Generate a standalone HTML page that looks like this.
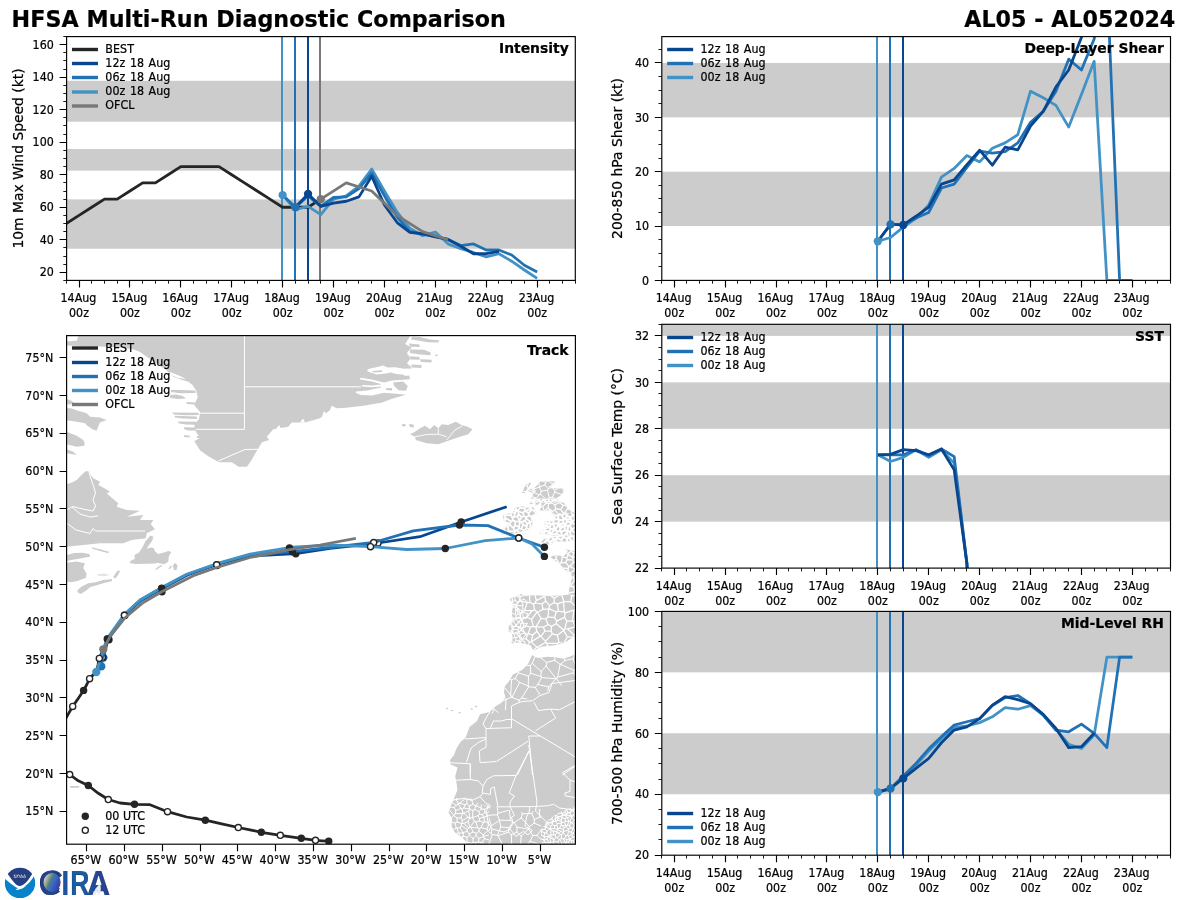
<!DOCTYPE html>
<html lang="en"><head><meta charset="utf-8"><title>HFSA Multi-Run Diagnostic Comparison - AL05</title>
<style>html,body{margin:0;padding:0;background:#fff}svg{display:block;will-change:transform}text{stroke:#000;stroke-width:.22px}</style></head>
<body>
<svg width="1200" height="900" viewBox="0 0 1200 900" font-family="'DejaVu Sans','Liberation Sans',sans-serif" fill="#000">
<rect width="1200" height="900" fill="#fff"/>
<text x="11.6" y="26.6" font-size="22.22" text-anchor="start" font-weight="bold" textLength="494.2">HFSA Multi-Run Diagnostic Comparison</text>
<text x="1175.3" y="26.6" font-size="22.22" text-anchor="end" font-weight="bold">AL05 - AL052024</text>
<clipPath id="c1"><rect x="66.6" y="36.6" width="508.7" height="243.8"/></clipPath>
<rect x="66.6" y="199.38" width="508.7" height="49.33" fill="#cccccc"/>
<rect x="66.6" y="148.99" width="508.7" height="21.62" fill="#cccccc"/>
<rect x="66.6" y="80.81" width="508.7" height="40.88" fill="#cccccc"/>
<rect x="281" y="36.6" width="2" height="243.8" fill="#4292c6"/>
<rect x="294" y="36.6" width="2" height="243.8" fill="#2171b5"/>
<rect x="307" y="36.6" width="2" height="243.8" fill="#08468f"/>
<rect x="319" y="36.6" width="2" height="243.8" fill="#787878"/>
<path d="M66.3 223.51 L79.02 215.39 L91.75 207.26 L104.47 199.13 L117.2 199.13 L129.92 191.01 L142.65 182.88 L155.38 182.88 L168.1 174.75 L180.82 166.63 L193.55 166.63 L206.27 166.63 L219 166.63 L231.72 174.75 L244.45 182.88 L257.18 191.01 L269.9 199.13 L282.62 207.26 L295.35 207.26 L308.07 207.26 L320.8 199.13" fill="none" stroke="#252525" stroke-width="2.78" stroke-linejoin="round" stroke-linecap="butt" clip-path="url(#c1)"/>
<path d="M282.62 195.07 L295.35 209.7 L308.07 206.45 L320.8 214.57 L333.52 199.13 L346.25 195.88 L358.97 186.13 L371.7 169.06 L384.42 191.01 L397.15 212.14 L409.87 228.39 L422.6 235.7 L435.32 231.97 L448.05 243.83 L460.77 248.71 L473.5 252.44 L486.22 256.83 L498.95 253.74 L511.67 261.22 L524.4 270 L537.12 278.45" fill="none" stroke="#4292c6" stroke-width="2.78" stroke-linejoin="round" stroke-linecap="butt" clip-path="url(#c1)"/>
<path d="M282.62 195.07 L295.35 207.26 L308.07 195.88 L320.8 206.45 L333.52 197.51 L346.25 196.86 L358.97 188.57 L371.7 173.13 L384.42 195.88 L397.15 217.01 L409.87 231.64 L422.6 234.08 L435.32 236.52 L448.05 239.44 L460.77 245.62 L473.5 243.99 L486.22 250.01 L498.95 250.01 L511.67 255.04 L524.4 265.28 L537.12 271.95" fill="none" stroke="#2171b5" stroke-width="2.78" stroke-linejoin="round" stroke-linecap="butt" clip-path="url(#c1)"/>
<path d="M295.35 207.26 L308.07 193.93 L320.8 206.28 L333.52 203.03 L346.25 201.25 L358.97 196.86 L371.7 176.22 L384.42 204.98 L397.15 222.54 L409.87 232.45 L422.6 233.75 L435.32 236.84 L448.05 239.44 L460.77 246.27 L473.5 253.74 L486.22 253.74 L498.95 251.47" fill="none" stroke="#08468f" stroke-width="2.78" stroke-linejoin="round" stroke-linecap="butt" clip-path="url(#c1)"/>
<path d="M320.8 199.13 L346.25 182.88 L371.7 191.01 L397.15 215.39 L422.6 231.64 L448.05 239.77" fill="none" stroke="#787878" stroke-width="2.78" stroke-linejoin="round" stroke-linecap="butt" clip-path="url(#c1)"/>
<circle cx="282.62" cy="195.07" r="4.15" fill="#4292c6"/>
<circle cx="295.35" cy="207.26" r="4.15" fill="#2171b5"/>
<circle cx="308.07" cy="193.93" r="4.15" fill="#08468f"/>
<circle cx="320.8" cy="199.13" r="4.15" fill="#787878"/>
<path d="M79.5 280.4v7M129.5 280.4v7M180.5 280.4v7M231.5 280.4v7M282.5 280.4v7M333.5 280.4v7M384.5 280.4v7M435.5 280.4v7M486.5 280.4v7M537.5 280.4v7" stroke="#000" stroke-width="1.15" fill="none"/>
<path d="M66.5 280.4v3.3M91.5 280.4v3.3M104.5 280.4v3.3M117.5 280.4v3.3M142.5 280.4v3.3M155.5 280.4v3.3M168.5 280.4v3.3M193.5 280.4v3.3M206.5 280.4v3.3M218.5 280.4v3.3M244.5 280.4v3.3M257.5 280.4v3.3M269.5 280.4v3.3M295.5 280.4v3.3M308.5 280.4v3.3M320.5 280.4v3.3M346.5 280.4v3.3M358.5 280.4v3.3M371.5 280.4v3.3M397.5 280.4v3.3M409.5 280.4v3.3M422.5 280.4v3.3M448.5 280.4v3.3M460.5 280.4v3.3M473.5 280.4v3.3M498.5 280.4v3.3M511.5 280.4v3.3M524.5 280.4v3.3M549.5 280.4v3.3M562.5 280.4v3.3M575.5 280.4v3.3" stroke="#000" stroke-width="0.9" fill="none"/>
<text transform="translate(78.42 301.8) scale(1 1.11)" font-size="11.11" text-anchor="middle">14Aug</text>
<text transform="translate(79.02 316.8) scale(1 1.11)" font-size="11.11" text-anchor="middle">00z</text>
<text transform="translate(129.32 301.8) scale(1 1.11)" font-size="11.11" text-anchor="middle">15Aug</text>
<text transform="translate(129.92 316.8) scale(1 1.11)" font-size="11.11" text-anchor="middle">00z</text>
<text transform="translate(180.22 301.8) scale(1 1.11)" font-size="11.11" text-anchor="middle">16Aug</text>
<text transform="translate(180.82 316.8) scale(1 1.11)" font-size="11.11" text-anchor="middle">00z</text>
<text transform="translate(231.12 301.8) scale(1 1.11)" font-size="11.11" text-anchor="middle">17Aug</text>
<text transform="translate(231.72 316.8) scale(1 1.11)" font-size="11.11" text-anchor="middle">00z</text>
<text transform="translate(282.02 301.8) scale(1 1.11)" font-size="11.11" text-anchor="middle">18Aug</text>
<text transform="translate(282.62 316.8) scale(1 1.11)" font-size="11.11" text-anchor="middle">00z</text>
<text transform="translate(332.92 301.8) scale(1 1.11)" font-size="11.11" text-anchor="middle">19Aug</text>
<text transform="translate(333.52 316.8) scale(1 1.11)" font-size="11.11" text-anchor="middle">00z</text>
<text transform="translate(383.82 301.8) scale(1 1.11)" font-size="11.11" text-anchor="middle">20Aug</text>
<text transform="translate(384.42 316.8) scale(1 1.11)" font-size="11.11" text-anchor="middle">00z</text>
<text transform="translate(434.72 301.8) scale(1 1.11)" font-size="11.11" text-anchor="middle">21Aug</text>
<text transform="translate(435.32 316.8) scale(1 1.11)" font-size="11.11" text-anchor="middle">00z</text>
<text transform="translate(485.62 301.8) scale(1 1.11)" font-size="11.11" text-anchor="middle">22Aug</text>
<text transform="translate(486.22 316.8) scale(1 1.11)" font-size="11.11" text-anchor="middle">00z</text>
<text transform="translate(536.52 301.8) scale(1 1.11)" font-size="11.11" text-anchor="middle">23Aug</text>
<text transform="translate(537.12 316.8) scale(1 1.11)" font-size="11.11" text-anchor="middle">00z</text>
<path d="M66.6 272.5h-7M66.6 239.5h-7M66.6 207.5h-7M66.6 174.5h-7M66.6 142.5h-7M66.6 109.5h-7M66.6 77.5h-7M66.6 44.5h-7" stroke="#000" stroke-width="1.15" fill="none"/>
<path d="M66.6 280.5h-3.3M66.6 264.5h-3.3M66.6 256.5h-3.3M66.6 247.5h-3.3M66.6 231.5h-3.3M66.6 223.5h-3.3M66.6 215.5h-3.3M66.6 199.5h-3.3M66.6 191.5h-3.3M66.6 182.5h-3.3M66.6 166.5h-3.3M66.6 158.5h-3.3M66.6 150.5h-3.3M66.6 134.5h-3.3M66.6 125.5h-3.3M66.6 117.5h-3.3M66.6 101.5h-3.3M66.6 93.5h-3.3M66.6 85.5h-3.3M66.6 69.5h-3.3M66.6 60.5h-3.3M66.6 52.5h-3.3M66.6 36.5h-3.3" stroke="#000" stroke-width="0.9" fill="none"/>
<text transform="translate(53.8 276.47) scale(1 1.11)" font-size="11.11" text-anchor="end">20</text>
<text transform="translate(53.8 243.97) scale(1 1.11)" font-size="11.11" text-anchor="end">40</text>
<text transform="translate(53.8 211.46) scale(1 1.11)" font-size="11.11" text-anchor="end">60</text>
<text transform="translate(53.8 178.95) scale(1 1.11)" font-size="11.11" text-anchor="end">80</text>
<text transform="translate(53.8 146.45) scale(1 1.11)" font-size="11.11" text-anchor="end">100</text>
<text transform="translate(53.8 113.94) scale(1 1.11)" font-size="11.11" text-anchor="end">120</text>
<text transform="translate(53.8 81.43) scale(1 1.11)" font-size="11.11" text-anchor="end">140</text>
<text transform="translate(53.8 48.93) scale(1 1.11)" font-size="11.11" text-anchor="end">160</text>
<text transform="translate(22.5 158.5) rotate(-90)" font-size="13.89" text-anchor="middle">10m Max Wind Speed (kt)</text>
<rect x="66.6" y="36.6" width="508.7" height="243.8" fill="none" stroke="#000" stroke-width="1.15"/>
<text x="568.7" y="53.3" font-size="13.89" text-anchor="end" font-weight="bold">Intensity</text>
<rect x="71.95" y="47.8" width="26" height="3.4" fill="#252525"/>
<text transform="translate(105.3 52.95) scale(1 1.11)" font-size="11.11" text-anchor="start" word-spacing="0.9" letter-spacing="0.06">BEST</text>
<rect x="71.95" y="61.8" width="26" height="3.4" fill="#08468f"/>
<text transform="translate(105.3 67.05) scale(1 1.11)" font-size="11.11" text-anchor="start" word-spacing="0.9" letter-spacing="0.06">12z 18 Aug</text>
<rect x="71.95" y="75.8" width="26" height="3.4" fill="#2171b5"/>
<text transform="translate(105.3 81.15) scale(1 1.11)" font-size="11.11" text-anchor="start" word-spacing="0.9" letter-spacing="0.06">06z 18 Aug</text>
<rect x="71.95" y="90.3" width="26" height="3.4" fill="#4292c6"/>
<text transform="translate(105.3 95.25) scale(1 1.11)" font-size="11.11" text-anchor="start" word-spacing="0.9" letter-spacing="0.06">00z 18 Aug</text>
<rect x="71.95" y="104.3" width="26" height="3.4" fill="#787878"/>
<text transform="translate(105.3 109.35) scale(1 1.11)" font-size="11.11" text-anchor="start" word-spacing="0.9" letter-spacing="0.06">OFCL</text>
<clipPath id="c2"><rect x="661.8" y="36.6" width="508.7" height="243.8"/></clipPath>
<rect x="661.8" y="171.68" width="508.7" height="54.36" fill="#cccccc"/>
<rect x="661.8" y="62.96" width="508.7" height="54.36" fill="#cccccc"/>
<rect x="876" y="36.6" width="2" height="243.8" fill="#4292c6"/>
<rect x="889" y="36.6" width="2" height="243.8" fill="#2171b5"/>
<rect x="902" y="36.6" width="2" height="243.8" fill="#08468f"/>
<path d="M877.83 241.26 L890.55 237.46 L903.27 227.13 L916 218.43 L928.73 204.84 L941.45 177.12 L954.17 168.42 L966.9 155.59 L979.62 161.9 L992.35 148.31 L1005.08 142.87 L1017.8 134.72 L1030.53 91.23 L1043.25 97.75 L1055.97 105.36 L1068.7 127.11 L1081.42 94.49 L1094.15 61.33 L1106.88 280.4 L1119.6 280.4 L1132.33 280.4" fill="none" stroke="#4292c6" stroke-width="2.78" stroke-linejoin="round" stroke-linecap="butt" clip-path="url(#c2)"/>
<path d="M877.83 241.26 L890.55 224.41 L903.27 224.95 L916 217.89 L928.73 212.45 L941.45 187.99 L954.17 184.18 L966.9 167.33 L979.62 151.03 L992.35 153.2 L1005.08 151.57 L1017.8 142.87 L1030.53 122.22 L1043.25 111.34 L1055.97 91.23 L1068.7 59.16 L1081.42 70.03 L1094.15 39.05 L1106.88 -24.01 L1119.6 280.4 L1132.33 280.4" fill="none" stroke="#2171b5" stroke-width="2.78" stroke-linejoin="round" stroke-linecap="butt" clip-path="url(#c2)"/>
<path d="M877.83 241.26 L890.55 224.41 L903.27 224.95 L916 216.26 L928.73 207.02 L941.45 184.18 L954.17 179.84 L966.9 164.62 L979.62 150.21 L992.35 165.16 L1005.08 147.22 L1017.8 149.94 L1030.53 126.02 L1043.25 111.34 L1055.97 86.88 L1068.7 70.03 L1081.42 37.42 L1094.15 -2.27" fill="none" stroke="#08468f" stroke-width="2.78" stroke-linejoin="round" stroke-linecap="butt" clip-path="url(#c2)"/>
<circle cx="877.83" cy="241.26" r="4.15" fill="#4292c6"/>
<circle cx="890.55" cy="224.41" r="4.15" fill="#2171b5"/>
<circle cx="903.27" cy="224.95" r="4.15" fill="#08468f"/>
<path d="M674.5 280.4v7M725.5 280.4v7M776.5 280.4v7M826.5 280.4v7M877.5 280.4v7M928.5 280.4v7M979.5 280.4v7M1030.5 280.4v7M1081.5 280.4v7M1132.5 280.4v7" stroke="#000" stroke-width="1.15" fill="none"/>
<path d="M661.5 280.4v3.3M686.5 280.4v3.3M699.5 280.4v3.3M712.5 280.4v3.3M737.5 280.4v3.3M750.5 280.4v3.3M763.5 280.4v3.3M788.5 280.4v3.3M801.5 280.4v3.3M814.5 280.4v3.3M839.5 280.4v3.3M852.5 280.4v3.3M865.5 280.4v3.3M890.5 280.4v3.3M903.5 280.4v3.3M916.5 280.4v3.3M941.5 280.4v3.3M954.5 280.4v3.3M966.5 280.4v3.3M992.5 280.4v3.3M1005.5 280.4v3.3M1017.5 280.4v3.3M1043.5 280.4v3.3M1055.5 280.4v3.3M1068.5 280.4v3.3M1094.5 280.4v3.3M1106.5 280.4v3.3M1119.5 280.4v3.3M1145.5 280.4v3.3M1157.5 280.4v3.3M1170.5 280.4v3.3" stroke="#000" stroke-width="0.9" fill="none"/>
<text transform="translate(673.62 301.8) scale(1 1.11)" font-size="11.11" text-anchor="middle">14Aug</text>
<text transform="translate(674.23 316.8) scale(1 1.11)" font-size="11.11" text-anchor="middle">00z</text>
<text transform="translate(724.52 301.8) scale(1 1.11)" font-size="11.11" text-anchor="middle">15Aug</text>
<text transform="translate(725.12 316.8) scale(1 1.11)" font-size="11.11" text-anchor="middle">00z</text>
<text transform="translate(775.42 301.8) scale(1 1.11)" font-size="11.11" text-anchor="middle">16Aug</text>
<text transform="translate(776.02 316.8) scale(1 1.11)" font-size="11.11" text-anchor="middle">00z</text>
<text transform="translate(826.32 301.8) scale(1 1.11)" font-size="11.11" text-anchor="middle">17Aug</text>
<text transform="translate(826.92 316.8) scale(1 1.11)" font-size="11.11" text-anchor="middle">00z</text>
<text transform="translate(877.23 301.8) scale(1 1.11)" font-size="11.11" text-anchor="middle">18Aug</text>
<text transform="translate(877.83 316.8) scale(1 1.11)" font-size="11.11" text-anchor="middle">00z</text>
<text transform="translate(928.12 301.8) scale(1 1.11)" font-size="11.11" text-anchor="middle">19Aug</text>
<text transform="translate(928.73 316.8) scale(1 1.11)" font-size="11.11" text-anchor="middle">00z</text>
<text transform="translate(979.02 301.8) scale(1 1.11)" font-size="11.11" text-anchor="middle">20Aug</text>
<text transform="translate(979.62 316.8) scale(1 1.11)" font-size="11.11" text-anchor="middle">00z</text>
<text transform="translate(1029.93 301.8) scale(1 1.11)" font-size="11.11" text-anchor="middle">21Aug</text>
<text transform="translate(1030.53 316.8) scale(1 1.11)" font-size="11.11" text-anchor="middle">00z</text>
<text transform="translate(1080.83 301.8) scale(1 1.11)" font-size="11.11" text-anchor="middle">22Aug</text>
<text transform="translate(1081.42 316.8) scale(1 1.11)" font-size="11.11" text-anchor="middle">00z</text>
<text transform="translate(1131.73 301.8) scale(1 1.11)" font-size="11.11" text-anchor="middle">23Aug</text>
<text transform="translate(1132.33 316.8) scale(1 1.11)" font-size="11.11" text-anchor="middle">00z</text>
<path d="M661.8 280.5h-7M661.8 226.5h-7M661.8 171.5h-7M661.8 117.5h-7M661.8 62.5h-7" stroke="#000" stroke-width="1.15" fill="none"/>
<path d="M661.8 266.5h-3.3M661.8 253.5h-3.3M661.8 239.5h-3.3M661.8 212.5h-3.3M661.8 198.5h-3.3M661.8 185.5h-3.3M661.8 158.5h-3.3M661.8 144.5h-3.3M661.8 130.5h-3.3M661.8 103.5h-3.3M661.8 90.5h-3.3M661.8 76.5h-3.3M661.8 49.5h-3.3" stroke="#000" stroke-width="0.9" fill="none"/>
<text transform="translate(649 284.6) scale(1 1.11)" font-size="11.11" text-anchor="end">0</text>
<text transform="translate(649 230.24) scale(1 1.11)" font-size="11.11" text-anchor="end">10</text>
<text transform="translate(649 175.88) scale(1 1.11)" font-size="11.11" text-anchor="end">20</text>
<text transform="translate(649 121.52) scale(1 1.11)" font-size="11.11" text-anchor="end">30</text>
<text transform="translate(649 67.16) scale(1 1.11)" font-size="11.11" text-anchor="end">40</text>
<text transform="translate(621.8 158.5) rotate(-90)" font-size="13.89" text-anchor="middle">200-850 hPa Shear (kt)</text>
<rect x="661.8" y="36.6" width="508.7" height="243.8" fill="none" stroke="#000" stroke-width="1.15"/>
<text x="1163.9" y="53.3" font-size="13.89" text-anchor="end" font-weight="bold">Deep-Layer Shear</text>
<rect x="667.15" y="47.8" width="26" height="3.4" fill="#08468f"/>
<text transform="translate(700.5 52.95) scale(1 1.11)" font-size="11.11" text-anchor="start" word-spacing="0.9" letter-spacing="0.06">12z 18 Aug</text>
<rect x="667.15" y="61.8" width="26" height="3.4" fill="#2171b5"/>
<text transform="translate(700.5 67.05) scale(1 1.11)" font-size="11.11" text-anchor="start" word-spacing="0.9" letter-spacing="0.06">06z 18 Aug</text>
<rect x="667.15" y="75.8" width="26" height="3.4" fill="#4292c6"/>
<text transform="translate(700.5 81.15) scale(1 1.11)" font-size="11.11" text-anchor="start" word-spacing="0.9" letter-spacing="0.06">00z 18 Aug</text>
<clipPath id="c3"><rect x="661.8" y="324.3" width="508.7" height="243.8"/></clipPath>
<rect x="661.8" y="475.22" width="508.7" height="46.44" fill="#cccccc"/>
<rect x="661.8" y="382.35" width="508.7" height="46.44" fill="#cccccc"/>
<rect x="661.8" y="324.3" width="508.7" height="11.61" fill="#cccccc"/>
<rect x="876" y="324.3" width="2" height="243.8" fill="#4292c6"/>
<rect x="889" y="324.3" width="2" height="243.8" fill="#2171b5"/>
<rect x="902" y="324.3" width="2" height="243.8" fill="#08468f"/>
<path d="M877.83 454.79 L890.55 461.52 L903.27 457.35 L916 449.92 L928.73 457.35 L941.45 449.92 L954.17 463.15 L966.9 563.46 L979.62 800.29" fill="none" stroke="#4292c6" stroke-width="2.78" stroke-linejoin="round" stroke-linecap="butt" clip-path="url(#c3)"/>
<path d="M877.83 454.79 L890.55 454.79 L903.27 454.79 L916 449.68 L928.73 455.72 L941.45 448.99 L954.17 456.65 L966.9 563.46 L979.62 800.29" fill="none" stroke="#2171b5" stroke-width="2.78" stroke-linejoin="round" stroke-linecap="butt" clip-path="url(#c3)"/>
<path d="M877.83 454.79 L890.55 454.33 L903.27 449.68 L916 450.61 L928.73 454.79 L941.45 448.99 L954.17 469.88 L966.9 563.46 L979.62 800.29" fill="none" stroke="#08468f" stroke-width="2.78" stroke-linejoin="round" stroke-linecap="butt" clip-path="url(#c3)"/>
<path d="M674.5 568.1v7M725.5 568.1v7M776.5 568.1v7M826.5 568.1v7M877.5 568.1v7M928.5 568.1v7M979.5 568.1v7M1030.5 568.1v7M1081.5 568.1v7M1132.5 568.1v7" stroke="#000" stroke-width="1.15" fill="none"/>
<path d="M661.5 568.1v3.3M686.5 568.1v3.3M699.5 568.1v3.3M712.5 568.1v3.3M737.5 568.1v3.3M750.5 568.1v3.3M763.5 568.1v3.3M788.5 568.1v3.3M801.5 568.1v3.3M814.5 568.1v3.3M839.5 568.1v3.3M852.5 568.1v3.3M865.5 568.1v3.3M890.5 568.1v3.3M903.5 568.1v3.3M916.5 568.1v3.3M941.5 568.1v3.3M954.5 568.1v3.3M966.5 568.1v3.3M992.5 568.1v3.3M1005.5 568.1v3.3M1017.5 568.1v3.3M1043.5 568.1v3.3M1055.5 568.1v3.3M1068.5 568.1v3.3M1094.5 568.1v3.3M1106.5 568.1v3.3M1119.5 568.1v3.3M1145.5 568.1v3.3M1157.5 568.1v3.3M1170.5 568.1v3.3" stroke="#000" stroke-width="0.9" fill="none"/>
<text transform="translate(673.62 589.5) scale(1 1.11)" font-size="11.11" text-anchor="middle">14Aug</text>
<text transform="translate(674.23 604.5) scale(1 1.11)" font-size="11.11" text-anchor="middle">00z</text>
<text transform="translate(724.52 589.5) scale(1 1.11)" font-size="11.11" text-anchor="middle">15Aug</text>
<text transform="translate(725.12 604.5) scale(1 1.11)" font-size="11.11" text-anchor="middle">00z</text>
<text transform="translate(775.42 589.5) scale(1 1.11)" font-size="11.11" text-anchor="middle">16Aug</text>
<text transform="translate(776.02 604.5) scale(1 1.11)" font-size="11.11" text-anchor="middle">00z</text>
<text transform="translate(826.32 589.5) scale(1 1.11)" font-size="11.11" text-anchor="middle">17Aug</text>
<text transform="translate(826.92 604.5) scale(1 1.11)" font-size="11.11" text-anchor="middle">00z</text>
<text transform="translate(877.23 589.5) scale(1 1.11)" font-size="11.11" text-anchor="middle">18Aug</text>
<text transform="translate(877.83 604.5) scale(1 1.11)" font-size="11.11" text-anchor="middle">00z</text>
<text transform="translate(928.12 589.5) scale(1 1.11)" font-size="11.11" text-anchor="middle">19Aug</text>
<text transform="translate(928.73 604.5) scale(1 1.11)" font-size="11.11" text-anchor="middle">00z</text>
<text transform="translate(979.02 589.5) scale(1 1.11)" font-size="11.11" text-anchor="middle">20Aug</text>
<text transform="translate(979.62 604.5) scale(1 1.11)" font-size="11.11" text-anchor="middle">00z</text>
<text transform="translate(1029.93 589.5) scale(1 1.11)" font-size="11.11" text-anchor="middle">21Aug</text>
<text transform="translate(1030.53 604.5) scale(1 1.11)" font-size="11.11" text-anchor="middle">00z</text>
<text transform="translate(1080.83 589.5) scale(1 1.11)" font-size="11.11" text-anchor="middle">22Aug</text>
<text transform="translate(1081.42 604.5) scale(1 1.11)" font-size="11.11" text-anchor="middle">00z</text>
<text transform="translate(1131.73 589.5) scale(1 1.11)" font-size="11.11" text-anchor="middle">23Aug</text>
<text transform="translate(1132.33 604.5) scale(1 1.11)" font-size="11.11" text-anchor="middle">00z</text>
<path d="M661.8 568.5h-7M661.8 521.5h-7M661.8 475.5h-7M661.8 428.5h-7M661.8 382.5h-7M661.8 335.5h-7" stroke="#000" stroke-width="1.15" fill="none"/>
<path d="M661.8 556.5h-3.3M661.8 544.5h-3.3M661.8 533.5h-3.3M661.8 510.5h-3.3M661.8 498.5h-3.3M661.8 486.5h-3.3M661.8 463.5h-3.3M661.8 452.5h-3.3M661.8 440.5h-3.3M661.8 417.5h-3.3M661.8 405.5h-3.3M661.8 393.5h-3.3M661.8 370.5h-3.3M661.8 359.5h-3.3M661.8 347.5h-3.3M661.8 324.5h-3.3" stroke="#000" stroke-width="0.9" fill="none"/>
<text transform="translate(649 572.3) scale(1 1.11)" font-size="11.11" text-anchor="end">22</text>
<text transform="translate(649 525.86) scale(1 1.11)" font-size="11.11" text-anchor="end">24</text>
<text transform="translate(649 479.42) scale(1 1.11)" font-size="11.11" text-anchor="end">26</text>
<text transform="translate(649 432.99) scale(1 1.11)" font-size="11.11" text-anchor="end">28</text>
<text transform="translate(649 386.55) scale(1 1.11)" font-size="11.11" text-anchor="end">30</text>
<text transform="translate(649 340.11) scale(1 1.11)" font-size="11.11" text-anchor="end">32</text>
<text transform="translate(621.8 446.2) rotate(-90)" font-size="13.89" text-anchor="middle">Sea Surface Temp (°C)</text>
<rect x="661.8" y="324.3" width="508.7" height="243.8" fill="none" stroke="#000" stroke-width="1.15"/>
<text x="1163.9" y="341" font-size="13.89" text-anchor="end" font-weight="bold">SST</text>
<rect x="667.15" y="335.8" width="26" height="3.4" fill="#08468f"/>
<text transform="translate(700.5 340.9) scale(1 1.11)" font-size="11.11" text-anchor="start" word-spacing="0.9" letter-spacing="0.06">12z 18 Aug</text>
<rect x="667.15" y="349.8" width="26" height="3.4" fill="#2171b5"/>
<text transform="translate(700.5 355) scale(1 1.11)" font-size="11.11" text-anchor="start" word-spacing="0.9" letter-spacing="0.06">06z 18 Aug</text>
<rect x="667.15" y="363.8" width="26" height="3.4" fill="#4292c6"/>
<text transform="translate(700.5 369.1) scale(1 1.11)" font-size="11.11" text-anchor="start" word-spacing="0.9" letter-spacing="0.06">00z 18 Aug</text>
<clipPath id="c4"><rect x="661.8" y="611.4" width="508.7" height="243.8"/></clipPath>
<rect x="661.8" y="733.3" width="508.7" height="60.95" fill="#cccccc"/>
<rect x="661.8" y="611.4" width="508.7" height="60.95" fill="#cccccc"/>
<rect x="876" y="611.4" width="2" height="243.8" fill="#4292c6"/>
<rect x="889" y="611.4" width="2" height="243.8" fill="#2171b5"/>
<rect x="902" y="611.4" width="2" height="243.8" fill="#08468f"/>
<path d="M877.83 792.12 L890.55 789.07 L903.27 776.57 L916 764.99 L928.73 750.98 L941.45 738.48 L954.17 727.51 L966.9 725.99 L979.62 722.63 L992.35 716.84 L1005.08 707.7 L1017.8 709.22 L1030.53 705.57 L1043.25 715.01 L1055.97 729.34 L1068.7 744.27 L1081.42 748.54 L1094.15 735.13 L1106.88 657.11 L1119.6 657.11 L1132.33 657.11" fill="none" stroke="#4292c6" stroke-width="2.78" stroke-linejoin="round" stroke-linecap="butt" clip-path="url(#c4)"/>
<path d="M877.83 792.12 L890.55 788.46 L903.27 775.97 L916 763.47 L928.73 748.84 L941.45 736.65 L954.17 725.07 L966.9 721.72 L979.62 718.67 L992.35 705.57 L1005.08 697.64 L1017.8 695.51 L1030.53 703.74 L1043.25 715.01 L1055.97 730.25 L1068.7 731.78 L1081.42 724.16 L1094.15 733.3 L1106.88 747.62 L1119.6 657.11 L1132.33 657.11" fill="none" stroke="#2171b5" stroke-width="2.78" stroke-linejoin="round" stroke-linecap="butt" clip-path="url(#c4)"/>
<path d="M877.83 792.12 L890.55 788.46 L903.27 778.4 L916 768.35 L928.73 758.29 L941.45 742.75 L954.17 730.1 L966.9 726.9 L979.62 718.67 L992.35 705.11 L1005.08 696.73 L1017.8 699.59 L1030.53 703.74 L1043.25 714.41 L1055.97 728.42 L1068.7 747.62 L1081.42 746.71 L1094.15 733.3" fill="none" stroke="#08468f" stroke-width="2.78" stroke-linejoin="round" stroke-linecap="butt" clip-path="url(#c4)"/>
<circle cx="877.83" cy="792.12" r="4.15" fill="#4292c6"/>
<circle cx="890.55" cy="788.46" r="4.15" fill="#2171b5"/>
<circle cx="903.27" cy="778.4" r="4.15" fill="#08468f"/>
<path d="M674.5 855.2v7M725.5 855.2v7M776.5 855.2v7M826.5 855.2v7M877.5 855.2v7M928.5 855.2v7M979.5 855.2v7M1030.5 855.2v7M1081.5 855.2v7M1132.5 855.2v7" stroke="#000" stroke-width="1.15" fill="none"/>
<path d="M661.5 855.2v3.3M686.5 855.2v3.3M699.5 855.2v3.3M712.5 855.2v3.3M737.5 855.2v3.3M750.5 855.2v3.3M763.5 855.2v3.3M788.5 855.2v3.3M801.5 855.2v3.3M814.5 855.2v3.3M839.5 855.2v3.3M852.5 855.2v3.3M865.5 855.2v3.3M890.5 855.2v3.3M903.5 855.2v3.3M916.5 855.2v3.3M941.5 855.2v3.3M954.5 855.2v3.3M966.5 855.2v3.3M992.5 855.2v3.3M1005.5 855.2v3.3M1017.5 855.2v3.3M1043.5 855.2v3.3M1055.5 855.2v3.3M1068.5 855.2v3.3M1094.5 855.2v3.3M1106.5 855.2v3.3M1119.5 855.2v3.3M1145.5 855.2v3.3M1157.5 855.2v3.3M1170.5 855.2v3.3" stroke="#000" stroke-width="0.9" fill="none"/>
<text transform="translate(673.62 876.6) scale(1 1.11)" font-size="11.11" text-anchor="middle">14Aug</text>
<text transform="translate(674.23 891.6) scale(1 1.11)" font-size="11.11" text-anchor="middle">00z</text>
<text transform="translate(724.52 876.6) scale(1 1.11)" font-size="11.11" text-anchor="middle">15Aug</text>
<text transform="translate(725.12 891.6) scale(1 1.11)" font-size="11.11" text-anchor="middle">00z</text>
<text transform="translate(775.42 876.6) scale(1 1.11)" font-size="11.11" text-anchor="middle">16Aug</text>
<text transform="translate(776.02 891.6) scale(1 1.11)" font-size="11.11" text-anchor="middle">00z</text>
<text transform="translate(826.32 876.6) scale(1 1.11)" font-size="11.11" text-anchor="middle">17Aug</text>
<text transform="translate(826.92 891.6) scale(1 1.11)" font-size="11.11" text-anchor="middle">00z</text>
<text transform="translate(877.23 876.6) scale(1 1.11)" font-size="11.11" text-anchor="middle">18Aug</text>
<text transform="translate(877.83 891.6) scale(1 1.11)" font-size="11.11" text-anchor="middle">00z</text>
<text transform="translate(928.12 876.6) scale(1 1.11)" font-size="11.11" text-anchor="middle">19Aug</text>
<text transform="translate(928.73 891.6) scale(1 1.11)" font-size="11.11" text-anchor="middle">00z</text>
<text transform="translate(979.02 876.6) scale(1 1.11)" font-size="11.11" text-anchor="middle">20Aug</text>
<text transform="translate(979.62 891.6) scale(1 1.11)" font-size="11.11" text-anchor="middle">00z</text>
<text transform="translate(1029.93 876.6) scale(1 1.11)" font-size="11.11" text-anchor="middle">21Aug</text>
<text transform="translate(1030.53 891.6) scale(1 1.11)" font-size="11.11" text-anchor="middle">00z</text>
<text transform="translate(1080.83 876.6) scale(1 1.11)" font-size="11.11" text-anchor="middle">22Aug</text>
<text transform="translate(1081.42 891.6) scale(1 1.11)" font-size="11.11" text-anchor="middle">00z</text>
<text transform="translate(1131.73 876.6) scale(1 1.11)" font-size="11.11" text-anchor="middle">23Aug</text>
<text transform="translate(1132.33 891.6) scale(1 1.11)" font-size="11.11" text-anchor="middle">00z</text>
<path d="M661.8 855.5h-7M661.8 794.5h-7M661.8 733.5h-7M661.8 672.5h-7M661.8 611.5h-7" stroke="#000" stroke-width="1.15" fill="none"/>
<path d="M661.8 839.5h-3.3M661.8 824.5h-3.3M661.8 809.5h-3.3M661.8 779.5h-3.3M661.8 763.5h-3.3M661.8 748.5h-3.3M661.8 718.5h-3.3M661.8 702.5h-3.3M661.8 687.5h-3.3M661.8 657.5h-3.3M661.8 641.5h-3.3M661.8 626.5h-3.3" stroke="#000" stroke-width="0.9" fill="none"/>
<text transform="translate(649 859.4) scale(1 1.11)" font-size="11.11" text-anchor="end">20</text>
<text transform="translate(649 798.45) scale(1 1.11)" font-size="11.11" text-anchor="end">40</text>
<text transform="translate(649 737.5) scale(1 1.11)" font-size="11.11" text-anchor="end">60</text>
<text transform="translate(649 676.55) scale(1 1.11)" font-size="11.11" text-anchor="end">80</text>
<text transform="translate(649 615.6) scale(1 1.11)" font-size="11.11" text-anchor="end">100</text>
<text transform="translate(621.8 733.3) rotate(-90)" font-size="13.89" text-anchor="middle">700-500 hPa Humidity (%)</text>
<rect x="661.8" y="611.4" width="508.7" height="243.8" fill="none" stroke="#000" stroke-width="1.15"/>
<text x="1163.9" y="628.1" font-size="13.89" text-anchor="end" font-weight="bold">Mid-Level RH</text>
<rect x="667.15" y="811.8" width="26" height="3.4" fill="#08468f"/>
<text transform="translate(700.5 816.9) scale(1 1.11)" font-size="11.11" text-anchor="start" word-spacing="0.9" letter-spacing="0.06">12z 18 Aug</text>
<rect x="667.15" y="825.8" width="26" height="3.4" fill="#2171b5"/>
<text transform="translate(700.5 831) scale(1 1.11)" font-size="11.11" text-anchor="start" word-spacing="0.9" letter-spacing="0.06">06z 18 Aug</text>
<rect x="667.15" y="839.8" width="26" height="3.4" fill="#4292c6"/>
<text transform="translate(700.5 845.1) scale(1 1.11)" font-size="11.11" text-anchor="start" word-spacing="0.9" letter-spacing="0.06">00z 18 Aug</text>
<clipPath id="cm"><rect x="66.6" y="335.6" width="508.8" height="508.6"/></clipPath>
<g clip-path="url(#cm)">
<path d="M66.6 335.6 L410.6 335.6 L405.1 343.9 L411.5 347.6 L406.9 353.1 L410.6 358.6 L406.9 363.2 L411.5 367.3 L411 372 L409.5 377 L410.5 381 L409 386 L408.5 391 L404.2 395.2 L391.3 398.9 L382.2 402.6 L363.8 405.8 L343.7 408.1 L336.7 408.3 L331.7 405.8 L330 410 L320 418.3 L305 422.5 L291.7 422.5 L288.3 426.7 L273.3 429.2 L266.7 436.7 L269.2 440 L262 442.3 L255 454 L251 461 L246.9 466.8 L238.7 466.8 L231.7 462.2 L218.8 462.2 L208.3 456.3 L200.2 450.5 L197 445.5 L194.3 441.2 L200.2 437.7 L197 433.5 L195.5 430.7 L194.3 424.8 L199 419 L200.2 412 L196.5 408 L194.3 405 L197.8 396.8 L195.5 389.8 L192.5 385 L188.5 381.7 L180 379.3 L173.3 376.7 L166 370 L160 365.8 L153 361 L146.7 356.7 L140 352 L133.3 349.2 L120 347.5 L100 346.5 L82 346 L66.6 345.6Z" fill="#cccccc"/>
<path d="M66.6 336.3 L78 336.3 L77 340.6 L70 341.2 L66.6 341.2Z" fill="#fff"/>
<path d="M412 368.6 L404.2 368.8 L395 367.2 L387.7 367.6 L383.1 365.6 L375 367.5 L367.5 369.2 L367.5 371.6 L376.7 374.6 L384 373.8 L391.3 372.5 L398.7 374.9 L406 375.8 L412 375.5Z" fill="#fff"/>
<path d="M360.2 377.8 L372 379.6 L384 382.6 L392 380.6 L404 379.8 L412 379 L412 395 L404.2 394.5 L384 392.7 L372.1 395.4 L361.1 395 L356 393 L356 391.6 L367.5 390.4 L381 387.6 L381 386.6 L372 387.3 L362 386.6 L362 385 L372 385.6 L381 384.6 L381 384 L372 381.6 L360.2 379.5Z" fill="#fff"/>
<path d="M166 378 L176 381 L186 385 L196 390 L197 392.5 L186 389 L175 385 L166 380.5Z" fill="#fff"/>
<path d="M176 389 L186 392 L195 395 L197 398 L186 394.8 L177 391.5Z" fill="#fff"/>
<path d="M170 372 L180 376 L186 379 L178 378 L170 374.5Z" fill="#fff"/>
<path d="M300 422.6 L303 418.5 L305 422.6Z" fill="#fff"/>
<path d="M276 429 L279 425 L281 428.5Z" fill="#fff"/>
<path d="M322 416.5 L324 411 L326.5 414Z" fill="#fff"/>
<path d="M393.2 382.4 L403.2 381.5 L407.8 386.1 L406 390.7 L398.7 390.2 L394.1 386.1Z" fill="#cccccc"/>
<path d="M372 371 L382 370.2 L382 372 L373 372.6Z" fill="#cccccc"/>
<path d="M394 373.8 L404 374.8 L404 376.2 L395 375.4Z" fill="#cccccc"/>
<path d="M386 388.2 L392 388 L392 390.6 L386 390Z" fill="#cccccc"/>
<path d="M412 336.5 L420 337 L430 339.5 L439 340.3 L438.6 342.6 L428 342.3 L418 340.5 L411 339.5Z" fill="#cccccc"/>
<path d="M410 349.5 L424 349.8 L430.7 352.4 L430.5 355.3 L420 354.4 L410 353Z" fill="#cccccc"/>
<path d="M420 359.2 L431.7 359.8 L431.5 362.4 L421 362Z" fill="#cccccc"/>
<path d="M411 364.6 L421.6 365 L421.4 368 L412 367.6Z" fill="#cccccc"/>
<path d="M410 356.2 L419.7 357 L419.5 359.8 L410.5 359.4Z" fill="#cccccc"/>
<path d="M409 343.6 L419.7 344.4 L419.5 347 L410 346.8Z" fill="#cccccc"/>
<path d="M435.2 354.6 L437.8 354.7 L437.6 356.2 L435.4 356.1Z" fill="#cccccc"/>
<path d="M171 389.8 L195.5 390.5 L195.5 393 L180 393.3 L171 392Z" fill="#cccccc"/>
<path d="M169.8 395 L176 394.5 L182.7 396 L186 398.5 L178 399 L170 398Z" fill="#cccccc"/>
<path d="M172 412.4 L199 412.8 L199 415 L185 415.2 L174 414.4Z" fill="#cccccc"/>
<path d="M174.5 415.8 L196.7 416.5 L197 419 L183 418.5 L175 417.5Z" fill="#cccccc"/>
<path d="M178 421.5 L196.7 421.8 L196.7 424.8 L186 424.5 L178.5 423.3Z" fill="#cccccc"/>
<path d="M183.8 427.2 L195.5 427.5 L195.5 430.5 L188 430.5 L184 429Z" fill="#cccccc"/>
<path d="M183.8 435.3 L189.7 435.5 L189.5 437.5 L184 437Z" fill="#cccccc"/>
<path d="M196.7 436 L202.5 436.2 L202.5 438.3 L197 438Z" fill="#cccccc"/>
<path d="M186 402 L195 402.5 L195 404.5 L187 404Z" fill="#cccccc"/>
<path d="M66.6 408 L72 408.5 L77 410.5 L86.7 413.3 L90 416.7 L100 417.5 L106.7 420 L100 422.5 L98 427 L96.7 430.8 L93 429.5 L90 427.5 L87 425.5 L85 423.3 L76.7 421.7 L66.6 420.3Z" fill="#cccccc"/>
<path d="M66.6 431.7 L76.7 435.8 L83.3 440 L84.6 443 L84.2 445.8 L76.7 446.7 L66.6 444.2Z" fill="#cccccc"/>
<path d="M66.6 449.2 L73.3 451.7 L76.7 455 L66.6 453.3Z" fill="#cccccc"/>
<path d="M66.6 399 L71 400.5 L74 403 L70 404.5 L66.6 404Z" fill="#cccccc"/>
<path d="M66.6 484.2 L72 482.5 L76.7 480 L80 476.5 L83.3 473.3 L86 471 L89.2 471.7 L91 475.5 L93.3 478.3 L100 481.7 L98.3 485 L104 488 L110 491.7 L106.7 493.3 L112 498 L118.3 503.3 L116.7 506.7 L126.7 510 L140 510.8 L133 514 L126.7 516.7 L143.3 515 L140 520 L153.3 520 L150.8 524.2 L155 529.2 L146.7 533.3 L145.8 538.3 L131.7 540 L123.3 543.3 L100 543.3 L83.3 545 L66.6 546.7Z" fill="#cccccc"/>
<path d="M150.5 535.4 L153.4 536.7 L152.1 541 L148.3 545.9 L146.7 549.1 L150.5 547.5 L153.7 548 L155.3 551.8 L158 554 L162.4 553.1 L168.3 551 L171.4 552.1 L168.9 556 L168.3 561.8 L164 564.3 L157.5 562.7 L155.3 563.5 L146.7 563.8 L135.8 564 L129.3 562.9 L131 560.5 L134.8 558.9 L134.5 554.9 L139.1 552.4 L142.3 547.5 L145.6 541Z" fill="#cccccc"/>
<path d="M91.4 547.3 L100 549.3 L109.8 552 L107.7 552.9 L100 551 L92.5 548.8Z" fill="#cccccc"/>
<path d="M66.6 555.1 L74.1 553.1 L82.8 552.7 L89.3 554 L90.3 556.4 L81.7 558.3 L74.1 559.4 L66.6 561Z" fill="#cccccc"/>
<path d="M66.6 562.7 L76.3 561.6 L84.9 563.2 L83.3 568.1 L86.5 573.5 L86 577.8 L77.3 581.1 L70.8 582.2 L66.6 581.6Z" fill="#cccccc"/>
<path d="M77.3 590.3 L81.7 586.5 L88.2 583.3 L95.8 582.2 L103.3 580 L112 578.9 L112 581.1 L103.3 583.3 L95.8 585.4 L90.3 587 L86 590.8 L80.6 594.1 L77.9 592.5Z" fill="#cccccc"/>
<path d="M113.1 577.3 L117.4 570.8 L120.1 570.8 L118.5 574.6 L115.3 578.4Z" fill="#cccccc"/>
<path d="M97 574.2 L104 573.6 L110 575 L104 576.2 L98 575.8Z" fill="#e4e4e4"/>
<path d="M70 786 L79.3 786 L79 787.8 L70.3 787.8Z" fill="#cccccc"/>
<path d="M172.7 565.9 L174.8 562.7 L177.6 565.4 L176.5 570.3 L173.8 569.7 L173.2 567Z" fill="#cccccc"/>
<path d="M155.3 569.2 L158.5 566.5 L161.8 564.8 L162 566 L159 568 L156 570Z" fill="#cccccc"/>
<path d="M168.5 568.5 L171 565.5 L172 566.5 L169.5 569.5Z" fill="#cccccc"/>
<path d="M415 431.7 L420 428.3 L425 425.8 L430 429.2 L434.2 425 L438.3 428.3 L441.7 424.2 L448.3 425 L455.8 421.7 L461.7 425 L467.5 426.7 L472.5 429.2 L468.3 434.2 L460 436.7 L448.3 440.8 L438.3 444.2 L426.7 443.3 L415.8 440 L415 436.7 L410 434.2Z" fill="#cccccc"/>
<path d="M401.7 424.5 L405 423.8 L406 426 L402.5 426.5Z" fill="#cccccc"/>
<path d="M409 424 L413.5 424.5 L414 427.5 L410 427Z" fill="#cccccc"/>
<path d="M502.5 534.5 L506.28 535.26 L516.11 532.99 L525.94 530.35 L530.47 529.97 L532.74 523.92 L531.98 517.12 L536.52 513.34 L533.5 507.29 L525.94 506.91 L522.16 506.15 L514.6 508.04 L513.08 512.58 L502.5 514.85 L504.01 520.9 L510.06 522.79 L505.52 526.94 L500.23 530.72Z" fill="#cccccc"/>
<path d="M540.3 481.58 L555.42 481.21 L553.15 484.61 L547.86 486.88 L552.4 488.39 L562.98 488.39 L564.49 490.66 L559.96 495.95 L556.18 498.22 L558.44 500.86 L552.4 501.24 L562.98 502 L566 505.02 L568.27 509.56 L573.56 512.58 L576.36 514.85 L576.36 540.55 L568.27 540.93 L562.98 541.69 L555.42 541.31 L550.88 544.71 L546.35 543.95 L539.54 546.6 L535.01 545.84 L540.3 542.82 L544.08 539.04 L551.64 537.53 L555.42 536.77 L557.69 534.5 L553.91 536.02 L547.86 534.5 L539.54 533.75 L538.79 532.24 L546.35 529.21 L547.1 524.68 L543.32 525.05 L545.59 522.41 L544.08 520.9 L554.66 521.65 L555.42 517.12 L550.88 512.58 L552.4 509.56 L544.84 510.69 L539.54 510.31 L541.81 506.53 L541.06 502 L535.76 506.15 L535.01 501.24 L536.52 497.46 L531.23 495.95 L535.76 491.41 L534.25 487.63 L538.03 484.61Z" fill="#cccccc"/>
<path d="M522.16 492.92 L524.42 492.92 L531.23 483.1 L530.47 482.34 L525.18 485.36Z" fill="#cccccc"/>
<path d="M527.45 490.66 L532.74 492.92 L534.25 491.41 L531.23 488.39Z" fill="#cccccc"/>
<path d="M530.47 498.97 L535.01 498.22 L532.74 496.33Z" fill="#cccccc"/>
<path d="M529.72 504.26 L532.74 503.89 L531.98 501.62 L528.96 502.37Z" fill="#cccccc"/>
<path d="M568 594.7 L570 585.3 L572 578.7 L571.3 573.3 L567 571 L564 569.3 L562 566.5 L560 564 L555 560.5 L550.7 557.3 L553.3 555.3 L564 556 L566.5 553 L568 550.7 L565.3 549.3 L570 550 L575.7 552 L575.7 594.7Z" fill="#cccccc"/>
<path d="M509.3 598.7 L517.3 596 L521.3 594 L525.3 596 L533.3 595.3 L550.7 596 L568 594.7 L575.7 594.7 L575.7 636 L570.7 638.7 L564 643.3 L554.7 645.3 L541.3 646.7 L537 649 L533.3 650.7 L530.7 645.3 L520 642.7 L511.3 643.3 L512.7 638.7 L512 633.3 L507.3 630.7 L509.3 625.3 L513.3 620 L512 614.7 L512.7 604Z" fill="#cccccc"/>
<path d="M532.5 654.2 L535 657 L538.5 658 L547 656.8 L555 657.2 L564 658.7 L570 656.5 L575.7 654.2 L575.7 844.2 L468 844.2 L463.5 838.7 L454.5 832 L451.5 826 L452.2 818.5 L448.5 812.5 L450 808 L453.7 799 L457.5 790 L456.7 784 L455.2 776.5 L457.5 767.5 L450.7 764.5 L450 760 L453.7 755.5 L456.7 748 L460.5 742 L465.7 737.5 L469.5 727 L477 721 L480 714.2 L489.7 712 L495 706.7 L501 703 L505.5 697 L504 692.5 L504.7 686.5 L508.5 682 L513 674.5 L522 670 L528 664Z" fill="#cccccc"/>
<ellipse cx="452" cy="710.5" rx="1.3" ry="0.8" fill="#cccccc"/>
<ellipse cx="459.7" cy="712.7" rx="1.3" ry="0.8" fill="#cccccc"/>
<ellipse cx="471.7" cy="709" rx="1.3" ry="0.8" fill="#cccccc"/>
<ellipse cx="447" cy="708.5" rx="1.3" ry="0.8" fill="#cccccc"/>
<ellipse cx="476" cy="706.5" rx="1.3" ry="0.8" fill="#cccccc"/>
<path d="M244.4 335.6 L244.4 429.3M244.4 386.8 L361 386.8M198 413.2 L244.4 413.2M196 429.3 L244.4 429.3M218.3 461 L245 449.5 L258 449.3" stroke="#fff" stroke-width="1.0" fill="none" stroke-linejoin="round"/>
<path d="M89 472 L91 479 L93.5 486 L95.5 493 L93 500 L95.5 506 L93 511 L85 509.5 L72.5 506.5 L66.6 510M66.6 523 L76 530 L90 533.5 L93 528.5 L95.8 531 L145 531M72 507 L80 514 L90 517 L98 516" stroke="#fff" stroke-width="1.0" fill="none" stroke-linejoin="round"/>
<path d="M415 436.7 L427 434.5 L438.3 434.2 L446.7 436.7M438.3 428.3 L438.3 434.2M446.7 440 L455 430 L462.5 425.8" stroke="#fff" stroke-width="0.9" fill="none" stroke-linejoin="round"/>
<clipPath id="caf"><path d="M532.5 654.2 L535 657 L538.5 658 L547 656.8 L555 657.2 L564 658.7 L570 656.5 L575.7 654.2 L575.7 844.2 L468 844.2 L463.5 838.7 L454.5 832 L451.5 826 L452.2 818.5 L448.5 812.5 L450 808 L453.7 799 L457.5 790 L456.7 784 L455.2 776.5 L457.5 767.5 L450.7 764.5 L450 760 L453.7 755.5 L456.7 748 L460.5 742 L465.7 737.5 L469.5 727 L477 721 L480 714.2 L489.7 712 L495 706.7 L501 703 L505.5 697 L504 692.5 L504.7 686.5 L508.5 682 L513 674.5 L522 670 L528 664Z"/></clipPath>
<g clip-path="url(#caf)">
<path d="M489.75 712 L486 718 L483 724 L486 728.5 L511.5 727.75 L511.5 706 L516 703.75 L522 701.5 L532.5 700.75M486 728.5 L486 737.5 L465 739M486 737.5 L486 747.25 L479.25 751 L480 762.25M450 762.7 L470.25 763.75 L470.25 775M466.5 762.25 L471 748 L479.25 742 L486 739M511.5 718.75 L575.4 757M528 741.25 L496.5 761.5 L480 762.7M528.75 736 L540 736M528.75 736 L532.5 775M528.75 751 L517.5 775M534 702.25 L538.5 710.5 L550.5 709 L555.75 718 L535.5 730.75M550.5 709 L559.5 709.75 L575.4 701.5M532.5 700.75 L540 695.5 L549 692.5 L552 683.5 L575.4 680.5M490.5 727.75 L493.5 721 L501.75 721 L506.25 719.5 L511.5 719.5M562.5 775 L575.4 766M470.25 763.75 L470.25 779.5 L456 780.25M470.25 779.5 L478.5 781 L483 786.25 L482.25 793M483 786.25 L486.75 779.5 L493.5 775.75 L516 775.45M528.75 751.75 L516 775.45 L509.25 793M528.75 745 L537 802 L536.25 806.5M509.25 793 L514.5 796 L510 802 L510 806.8 L536.25 806.5 L547.5 805.75 L553.5 804.25 L559.5 808 L575.4 810.25M490.5 788.5 L494.25 787 L495 791.5 L498 806.8 L510 806.8M454.5 799.75 L465 798.25 L471.75 800.5 L480 796.75 L483 793 L490.5 794.5 L490.5 788.5M480 796.75 L486 803.5 L489.75 805 L486 811 L488.25 823 L492 829 L491.25 833.5M562.5 772.75 L575.4 765.25M562.5 772.75 L570 780.25 L575.4 781.75M570 780.25 L570 791.5 L564.75 793 L565.5 796 L575.4 797.5M510 806.8 L512.25 811 L514.5 815.5 L511.5 817 L513 823 L510 829 L504 832 L492 829M510 829 L516 836.5 L523.5 831.25 L528 835 L532.5 830.5 L525 826 L526.5 817 L529.5 811 L529.5 806.8M536.25 806.5 L535.5 811 L540 815.5 L544.5 820 L547.5 823 L552 823 L555 818.5 L562.5 815.5 L575.4 809.5" stroke="#fff" stroke-width="1.0" fill="none" stroke-linejoin="round"/>
</g>
<clipPath id="m_ie"><path d="M502.5 534.5 L506.28 535.26 L516.11 532.99 L525.94 530.35 L530.47 529.97 L532.74 523.92 L531.98 517.12 L536.52 513.34 L533.5 507.29 L525.94 506.91 L522.16 506.15 L514.6 508.04 L513.08 512.58 L502.5 514.85 L504.01 520.9 L510.06 522.79 L505.52 526.94 L500.23 530.72Z"/></clipPath>
<path d="M527.2 543.6L532.7 543.1M532.7 543.1L533.0 543.8M533.0 543.8L539.4 543.7M539.4 543.7L540.2 543.0M540.0 530.1L540.2 530.7M540.0 530.1L543.0 526.8M543.0 526.8L546.1 524.8M543.6 508.5L539.6 504.3M543.6 508.5L543.0 509.6M539.6 504.3L536.8 505.9M536.8 505.9L537.0 506.4M537.0 506.4L537.7 507.3M543.0 509.6L537.7 507.3M536.0 513.3L536.7 513.0M536.0 513.3L534.2 511.2M534.2 511.2L537.0 506.4M537.7 507.3L536.7 513.0M544.2 502.0L539.7 503.5M539.7 503.5L536.8 497.6M539.6 504.3L539.7 503.5M536.8 505.9L532.6 503.6M532.6 503.6L536.8 497.6M490.3 523.2L499.3 524.1M490.3 523.2L498.1 517.4M499.3 524.1L499.9 523.3M499.9 523.3L499.8 522.4M499.8 522.4L498.1 517.4M498.2 516.8L498.1 517.4M527.2 543.6L526.0 541.3M526.0 541.3L523.7 542.6M505.4 518.1L505.3 517.9M505.4 518.1L504.7 522.4M499.9 523.3L502.1 523.4M505.3 517.9L499.8 522.4M504.7 522.4L502.1 523.4M539.3 534.6L539.4 534.5M539.3 534.6L543.5 540.4M539.4 534.5L544.0 535.9M544.0 535.9L546.3 539.6M546.3 539.6L543.5 540.4M540.2 530.7L539.4 534.5M540.2 543.0L540.4 542.4M540.4 542.4L543.5 540.4M505.3 517.9L504.6 515.2M498.2 516.8L499.0 516.0M504.6 515.2L499.0 516.0M502.0 529.1L499.3 524.1M502.0 529.1L501.6 529.6M501.6 529.6L494.8 531.9M499.3 524.1L494.1 531.7M494.1 531.7L494.8 531.9M499.3 524.1L499.3 524.1M523.3 524.5L526.6 526.5M523.3 524.5L520.8 522.1M524.8 520.9L520.8 522.1M524.8 520.9L527.4 523.9M526.6 526.5L527.4 523.9M524.8 520.9L526.1 518.3M530.1 522.1L527.4 523.9M530.1 522.1L530.4 521.9M526.1 518.3L530.4 521.9M537.4 527.6L533.3 523.4M537.4 527.6L539.1 523.1M539.1 523.1L539.4 521.1M533.3 523.4L533.0 522.0M533.0 522.0L538.5 520.1M539.4 521.1L538.5 520.1M540.0 530.1L537.5 528.1M543.0 526.8L539.1 523.1M537.5 528.1L537.4 527.6M546.1 524.8L542.7 521.6M542.7 521.6L539.4 521.1M535.8 514.0L538.5 519.4M535.8 514.0L531.5 516.6M538.5 519.4L538.5 520.1M531.5 516.6L532.2 521.5M532.2 521.5L533.0 522.0M532.7 543.1L532.6 542.1M540.4 542.4L537.4 537.0M532.6 542.1L534.2 539.5M534.2 539.5L537.4 537.0M537.5 528.1L532.2 530.2M539.3 534.6L537.7 535.9M532.2 530.2L534.6 534.3M537.7 535.9L534.6 534.3M537.7 535.9L537.4 537.0M546.5 515.7L545.8 516.3M546.5 515.7L542.6 511.2M545.8 516.3L540.5 517.7M540.5 517.7L541.8 511.6M542.6 511.2L541.8 511.6M542.7 521.6L545.8 516.3M543.0 509.6L542.6 511.2M538.5 519.4L540.5 517.7M536.0 513.3L535.8 514.0M536.7 513.0L541.8 511.6M498.9 538.0L501.1 540.1M498.9 538.0L493.6 541.5M501.1 540.1L499.9 543.5M493.6 541.5L499.5 543.6M499.5 543.6L499.9 543.5M499.4 535.6L498.9 538.0M499.4 535.6L494.8 531.9M501.8 544.6L499.9 543.5M531.5 516.6L528.9 515.6M526.1 518.3L526.2 517.2M530.4 521.9L532.2 521.5M526.2 517.2L528.9 515.6M534.2 511.2L531.7 509.4M531.7 509.4L528.6 513.2M528.6 513.2L528.9 515.6M527.1 538.9L526.0 541.3M527.1 538.9L527.6 538.7M532.6 542.1L528.3 539.0M527.6 538.7L528.3 539.0M534.2 539.5L531.9 536.7M528.3 539.0L531.9 536.7M534.6 534.3L532.0 535.6M531.9 536.7L532.0 535.6M526.8 528.3L530.4 529.4M526.8 528.3L524.2 530.2M528.4 535.2L529.5 534.3M528.4 535.2L524.1 532.2M529.5 534.3L530.8 529.8M530.8 529.8L530.4 529.4M524.1 532.2L524.2 530.2M530.4 529.4L530.4 529.4M526.6 526.5L526.8 528.3M530.1 522.1L530.4 529.4M523.3 524.5L521.2 529.0M521.2 529.0L524.2 530.2M527.6 538.7L528.4 535.2M532.0 535.6L529.5 534.3M527.1 538.9L524.3 537.7M524.3 537.7L523.3 533.5M523.3 533.5L524.1 532.2M532.2 530.2L530.8 529.8M533.3 523.4L530.4 529.4M518.9 503.3L514.9 505.4M518.9 503.3L513.1 497.3M513.1 497.3L512.0 503.3M512.0 503.3L514.9 505.4M526.9 500.1L524.9 504.7M519.8 503.3L520.3 504.1M520.3 504.1L524.9 504.7M500.0 502.1L503.4 503.1M500.0 502.1L498.5 499.4M503.7 503.5L503.4 503.1M503.7 503.5L507.2 503.4M494.9 504.7L498.5 499.4M507.2 503.4L509.3 505.0M509.3 505.0L512.0 503.3M518.9 503.3L519.8 503.3M532.6 503.6L532.4 503.7M532.4 503.7L526.9 500.1M499.4 535.6L502.1 534.8M501.6 529.6L502.1 534.8M502.1 534.8L502.1 534.8M524.3 537.7L520.8 539.2M523.3 533.5L520.8 534.4M520.8 534.4L519.2 536.6M519.2 536.6L520.8 539.2M523.7 542.6L520.4 541.1M520.4 541.1L520.8 539.2M520.4 541.1L518.2 543.0M504.8 514.8L504.9 513.1M504.8 514.8L510.5 515.1M510.5 515.1L511.2 513.1M511.2 513.1L510.0 509.7M504.9 513.1L510.0 509.7M512.7 517.8L513.7 516.9M512.7 517.8L510.5 515.1M511.2 513.1L515.7 512.0M513.7 516.9L515.7 512.0M524.8 508.4L525.7 506.9M524.8 508.4L525.0 510.9M525.6 511.2L525.0 510.9M525.6 511.2L531.2 508.0M525.7 506.9L531.0 506.9M531.0 506.9L531.2 508.0M520.3 504.1L520.2 507.7M520.2 507.7L524.8 508.4M524.9 504.7L525.7 506.9M523.1 512.7L525.0 510.9M523.1 512.7L518.3 511.5M520.2 507.7L517.7 510.9M518.3 511.5L517.7 510.9M526.2 517.2L523.8 516.0M523.8 516.0L523.1 512.7M528.6 513.2L525.6 511.2M531.7 509.4L531.2 508.0M532.4 503.7L531.0 506.9M518.2 543.0L514.7 542.5M513.1 544.2L514.7 542.5M502.1 523.4L505.6 526.8M502.0 529.1L503.0 529.0M503.0 529.0L505.6 526.8M504.7 522.4L508.9 525.0M508.9 525.0L508.0 526.2M505.6 526.8L508.0 526.2M503.0 529.0L507.1 532.7M508.0 526.2L508.5 531.2M508.5 531.2L507.1 532.7M502.1 534.8L506.8 533.9M506.8 533.9L507.1 532.7M521.2 529.0L519.1 528.4M520.8 534.4L516.9 530.1M516.9 530.1L519.1 528.4M520.8 522.1L519.7 521.9M519.7 521.9L519.1 527.0M519.1 527.0L519.1 528.4M517.4 536.3L514.4 541.3M517.4 536.3L514.6 533.2M514.6 533.2L513.1 534.9M513.1 534.9L514.0 540.7M514.0 540.7L514.4 541.3M519.2 536.6L517.4 536.3M514.7 542.5L514.4 541.3M514.6 531.3L514.6 533.2M514.6 531.3L514.9 530.9M514.9 530.9L516.9 530.1M508.4 536.9L506.8 533.9M508.4 536.9L513.1 534.9M514.6 531.3L508.5 531.2M508.3 537.6L514.0 540.7M508.3 537.6L508.4 536.9M504.2 508.0L504.2 511.5M504.2 508.0L502.9 506.7M504.2 511.5L497.9 509.9M502.9 506.7L498.7 507.0M497.7 509.6L498.1 507.3M497.7 509.6L497.9 509.9M498.1 507.3L498.7 507.0M503.7 503.5L502.9 506.7M509.3 505.0L508.9 506.3M508.9 506.3L504.2 508.0M504.6 515.2L504.8 514.8M499.0 516.0L497.9 509.9M504.9 513.1L504.2 511.5M500.0 502.1L498.7 507.0M494.9 504.7L498.1 507.3M510.0 509.6L509.8 508.6M510.0 509.6L516.8 510.5M509.8 508.6L515.2 507.0M516.8 510.5L515.2 507.0M508.9 506.3L509.8 508.6M510.0 509.7L510.0 509.6M515.7 512.0L517.0 510.7M517.0 510.7L516.8 510.5M514.9 505.4L515.2 507.0M517.0 510.7L517.7 510.9M518.5 514.0L517.6 516.4M518.5 514.0L521.6 517.2M517.6 516.4L519.5 520.6M521.6 517.2L519.5 520.6M513.7 516.9L517.6 516.4M518.3 511.5L518.5 514.0M523.8 516.0L521.6 517.2M519.7 521.9L519.3 521.5M519.3 521.5L519.5 520.6M507.7 538.5L508.2 541.9M507.7 538.5L503.9 539.5M503.8 539.6L504.3 543.2M503.8 539.6L503.9 539.5M508.2 541.9L506.3 543.9M506.3 543.9L504.3 543.2M508.3 537.6L507.7 538.5M513.1 544.2L508.2 541.9M502.1 534.8L503.9 539.5M501.8 544.6L504.3 543.2M501.1 540.1L503.8 539.6M509.5 524.7L513.4 528.0M509.5 524.7L511.1 521.4M513.4 528.0L515.1 525.2M515.1 525.2L515.2 521.4M511.1 521.4L512.6 520.4M512.6 520.4L515.2 521.4M508.9 525.0L509.5 524.7M514.9 530.9L513.4 528.0M505.4 518.1L511.1 521.4M519.1 527.0L515.1 525.2M519.3 521.5L515.2 521.4M512.7 517.8L512.6 520.4" stroke="#fff" stroke-width="1.7" fill="none" stroke-linecap="round" clip-path="url(#m_ie)"/>
<clipPath id="b1"><rect x="480" y="470" width="100" height="28.59"/></clipPath>
<clipPath id="b2"><rect x="480" y="498.59" width="100" height="4.16"/></clipPath>
<clipPath id="b3"><rect x="480" y="502.75" width="100" height="10.58"/></clipPath>
<clipPath id="b4"><rect x="480" y="513.34" width="100" height="46.66"/></clipPath>
<g clip-path="url(#b1)">
<clipPath id="m_gb1"><path d="M540.3 481.58 L555.42 481.21 L553.15 484.61 L547.86 486.88 L552.4 488.39 L562.98 488.39 L564.49 490.66 L559.96 495.95 L556.18 498.22 L558.44 500.86 L552.4 501.24 L562.98 502 L566 505.02 L568.27 509.56 L573.56 512.58 L576.36 514.85 L576.36 540.55 L568.27 540.93 L562.98 541.69 L555.42 541.31 L550.88 544.71 L546.35 543.95 L539.54 546.6 L535.01 545.84 L540.3 542.82 L544.08 539.04 L551.64 537.53 L555.42 536.77 L557.69 534.5 L553.91 536.02 L547.86 534.5 L539.54 533.75 L538.79 532.24 L546.35 529.21 L547.1 524.68 L543.32 525.05 L545.59 522.41 L544.08 520.9 L554.66 521.65 L555.42 517.12 L550.88 512.58 L552.4 509.56 L544.84 510.69 L539.54 510.31 L541.81 506.53 L541.06 502 L535.76 506.15 L535.01 501.24 L536.52 497.46 L531.23 495.95 L535.76 491.41 L534.25 487.63 L538.03 484.61Z"/><path d="M522.16 492.92 L524.42 492.92 L531.23 483.1 L530.47 482.34 L525.18 485.36Z"/><path d="M527.45 490.66 L532.74 492.92 L534.25 491.41 L531.23 488.39Z"/><path d="M530.47 498.97 L535.01 498.22 L532.74 496.33Z"/><path d="M529.72 504.26 L532.74 503.89 L531.98 501.62 L528.96 502.37Z"/></clipPath>
<path d="M518.9 473.0L517.0 479.4M518.9 473.0L523.2 474.9M523.2 474.9L526.1 478.8M526.1 478.8L518.5 481.0M517.0 479.4L518.5 481.0M581.2 537.7L582.1 531.7M582.1 531.7L585.3 530.2M585.2 478.0L579.9 475.3M518.2 559.3L510.0 553.0M513.0 540.3L516.7 545.2M516.7 545.2L514.7 549.5M510.0 553.0L514.7 549.5M518.6 487.0L517.8 488.3M518.6 487.0L527.4 485.7M517.8 488.3L519.5 490.4M519.5 490.4L526.9 491.9M526.9 491.9L528.3 489.7M527.4 485.7L528.3 489.7M585.6 504.0L582.9 508.0M585.2 478.0L585.1 481.7M588.4 485.3L585.1 481.7M537.0 560.5L542.4 558.6M542.4 558.6L545.0 558.8M554.6 557.1L557.0 555.0M557.0 555.0L561.6 558.0M561.6 558.0L565.8 553.8M523.2 542.1L522.4 543.8M523.2 542.1L528.7 542.1M522.4 543.8L524.4 548.2M528.7 542.1L531.2 543.4M531.2 543.4L530.5 548.9M530.5 548.9L524.4 548.2M516.7 545.2L522.4 543.8M514.7 549.5L522.6 552.5M524.4 548.2L522.6 552.5M518.2 559.3L523.3 556.6M522.6 552.5L523.3 556.6M527.0 558.0L523.3 556.6M536.2 480.8L530.9 472.7M536.2 480.8L530.9 482.5M530.9 482.5L528.9 482.4M528.9 482.4L527.1 479.1M527.1 479.1L530.9 472.7M526.1 478.8L527.1 479.1M518.5 481.0L518.6 487.0M527.4 485.7L528.9 482.4M520.6 518.0L521.4 514.1M520.6 518.0L521.6 519.0M521.6 519.0L523.6 520.6M523.6 520.6L529.9 515.6M521.4 514.1L529.9 515.6M530.7 515.7L532.2 514.8M530.7 515.7L530.1 515.5M534.6 509.1L525.5 508.0M534.6 509.1L534.9 509.9M534.9 509.9L532.2 514.8M525.5 508.0L530.1 515.5M524.4 498.3L520.8 494.8M524.4 498.3L522.6 501.4M522.6 501.4L513.7 497.3M520.8 494.8L513.7 497.3M519.5 490.4L520.8 494.8M525.5 497.7L524.4 498.3M525.5 497.7L526.4 496.2M526.4 496.2L526.9 491.9M524.2 523.5L520.0 527.0M524.2 523.5L523.6 520.6M521.6 519.0L514.2 527.3M520.0 527.0L514.2 527.3M525.8 533.9L530.1 527.6M525.8 533.9L529.7 536.5M530.1 527.6L535.0 535.4M529.7 536.5L534.6 536.9M535.0 535.4L534.6 536.9M536.3 540.8L531.2 543.4M536.3 540.8L534.6 536.9M528.7 542.1L529.7 536.5M581.2 537.7L580.4 538.6M582.1 531.7L578.8 530.1M576.7 538.2L575.6 531.6M576.7 538.2L579.0 538.7M580.4 538.6L579.0 538.7M578.8 530.1L575.6 531.6M584.1 525.8L585.3 530.2M584.1 525.8L581.1 525.1M581.1 525.1L579.0 527.0M578.8 530.1L579.0 527.0M566.5 522.4L572.3 520.3M566.5 522.4L562.4 518.4M562.4 518.4L563.1 515.7M563.1 515.7L566.7 512.3M572.3 520.3L566.7 512.3M563.1 515.7L558.9 513.7M563.3 507.0L566.8 511.6M563.3 507.0L561.8 507.3M561.8 507.3L558.9 513.7M566.7 512.3L566.8 511.6M580.4 538.6L583.6 543.4M587.6 521.8L584.1 525.8M583.1 557.7L581.0 556.4M581.0 556.4L576.1 556.5M571.1 553.9L565.9 553.5M571.1 553.9L575.5 555.6M565.9 553.5L565.8 553.8M575.5 555.6L576.1 556.5M566.5 522.4L565.1 525.4M562.4 518.4L559.5 519.9M565.1 525.4L559.1 526.9M559.1 526.9L558.4 526.2M559.5 519.9L558.4 526.2M530.7 515.7L533.0 521.5M524.2 523.5L530.2 527.0M530.2 527.0L532.5 525.7M530.1 515.5L529.9 515.6M533.0 521.5L532.5 525.7M539.7 477.0L538.6 480.0M536.2 480.8L538.0 480.7M538.0 480.7L538.6 480.0M542.6 507.6L541.9 504.2M542.6 507.6L540.7 511.3M534.6 509.1L535.0 502.6M534.9 509.9L540.7 511.3M541.9 504.2L535.0 502.6M533.9 502.3L525.1 507.7M533.9 502.3L534.7 502.2M525.5 508.0L525.1 507.7M534.7 502.2L535.0 502.6M557.0 513.8L553.8 511.3M557.0 513.8L556.9 518.5M555.7 518.8L556.9 518.5M555.7 518.8L549.5 515.4M549.5 515.4L553.8 511.3M561.8 507.3L556.9 507.0M558.9 513.7L557.0 513.8M556.9 507.0L554.3 508.1M554.3 508.1L553.8 511.3M559.5 519.9L556.9 518.5M558.4 526.2L552.7 525.3M552.2 524.7L555.7 518.8M552.2 524.7L552.7 525.3M547.5 522.2L547.5 522.2M547.5 522.2L552.2 524.7M547.5 522.2L549.5 515.4M549.5 515.4L549.5 515.4M557.0 555.0L557.9 551.7M565.6 552.9L560.3 550.6M565.6 552.9L565.9 553.5M560.3 550.6L557.9 551.7M547.5 477.8L553.4 476.7M547.5 477.8L547.3 477.6M539.7 477.0L547.3 477.6M579.9 475.3L576.4 480.0M576.4 480.0L577.0 482.0M585.1 481.7L580.2 483.6M577.0 482.0L580.2 483.6M539.5 548.7L531.7 550.3M539.5 548.7L539.8 549.2M539.8 549.2L539.0 552.7M539.0 552.7L535.0 557.7M531.7 550.3L530.7 555.9M535.0 557.7L530.7 555.9M537.0 560.5L535.0 557.7M542.4 558.6L539.0 552.7M530.5 548.9L531.7 550.3M527.0 558.0L530.7 555.9M545.9 552.6L545.9 556.4M545.9 552.6L550.0 551.0M545.9 556.4L552.6 555.8M550.0 551.0L552.6 555.8M545.0 558.8L545.9 556.4M545.4 552.2L539.8 549.2M545.4 552.2L545.9 552.6M554.6 557.1L552.6 555.8M557.9 551.7L552.4 547.8M552.4 547.8L550.0 551.0M520.6 518.0L510.6 518.3M512.4 527.5L514.2 527.3M522.3 504.3L523.7 507.3M523.7 507.3L521.3 510.4M521.3 510.4L519.1 510.7M522.6 501.4L522.3 504.3M525.5 497.7L533.9 502.3M525.1 507.7L523.7 507.3M521.4 514.1L521.3 510.4M510.6 518.3L519.1 510.7M525.6 534.0L521.4 529.5M525.6 534.0L522.4 537.3M521.4 529.5L517.6 535.2M522.4 537.3L517.9 535.9M517.9 535.9L517.6 535.2M530.2 527.0L530.1 527.6M520.0 527.0L521.4 529.5M525.8 533.9L525.6 534.0M523.2 542.1L522.4 537.3M512.4 527.5L517.6 535.2M513.0 540.3L517.9 535.9M572.5 527.5L572.6 530.2M572.5 527.5L565.7 526.3M572.6 530.2L569.2 532.4M569.2 532.4L567.2 531.8M565.7 526.3L567.2 531.8M579.0 527.0L573.6 524.1M575.6 531.6L572.6 530.2M573.6 524.1L572.5 527.5M565.1 525.4L565.7 526.3M573.6 524.1L573.0 520.5M573.0 520.5L572.3 520.3M572.1 540.4L576.7 538.2M572.1 540.4L570.2 537.4M570.2 537.4L569.2 532.4M577.1 515.5L575.9 516.9M577.1 515.5L583.6 516.1M575.9 516.9L574.6 519.5M574.6 519.5L579.8 521.4M579.8 521.4L585.4 518.4M583.6 516.1L585.4 517.7M585.4 518.4L585.4 517.7M577.9 508.5L577.1 515.5M577.9 508.5L570.8 510.7M570.8 510.7L575.9 516.9M578.1 508.1L582.2 508.2M578.1 508.1L577.9 508.5M582.2 508.2L583.6 516.1M573.0 520.5L574.6 519.5M566.8 511.6L568.9 510.7M568.9 510.7L570.8 510.7M581.1 525.1L579.8 521.4M587.6 521.8L585.4 518.4M582.9 508.0L582.2 508.2M571.1 553.9L570.6 548.3M575.5 555.6L575.3 550.2M575.3 550.2L570.6 548.3M565.6 552.9L568.6 546.4M570.6 548.3L568.6 546.4M582.7 548.7L582.5 546.0M582.7 548.7L582.5 548.9M582.5 548.9L576.2 548.6M582.5 546.0L578.2 545.2M578.2 545.2L576.1 546.3M576.1 546.3L576.2 548.6M583.6 543.4L582.5 546.0M581.0 556.4L582.5 548.9M575.3 550.2L576.2 548.6M579.0 538.7L578.2 545.2M572.1 540.4L571.5 541.7M571.5 541.7L576.1 546.3M571.5 541.7L568.4 544.2M568.4 544.2L568.6 546.4M533.3 525.9L539.4 525.4M533.3 525.9L538.1 532.6M539.4 525.4L543.0 527.1M543.0 527.1L543.4 531.6M543.4 531.6L538.1 532.6M535.0 535.4L538.1 532.6M532.5 525.7L533.3 525.9M541.2 513.4L537.6 516.1M541.2 513.4L541.5 513.7M541.5 513.7L542.3 519.1M537.6 516.1L537.9 519.3M542.3 519.1L539.3 520.2M537.9 519.3L539.3 520.2M532.2 514.8L537.6 516.1M540.7 511.3L541.2 513.4M542.6 507.6L546.5 508.8M548.6 514.8L546.5 508.8M548.6 514.8L541.5 513.7M547.5 522.2L542.3 519.1M548.6 514.8L549.5 515.4M533.0 521.5L537.9 519.3M547.5 522.2L543.0 527.1M539.4 525.4L539.3 520.2M528.3 489.7L532.9 491.1M530.9 482.5L535.1 488.4M535.1 488.4L532.9 491.1M556.6 480.8L556.4 478.7M556.6 480.8L552.3 483.7M556.4 478.7L553.4 476.7M547.5 477.8L547.8 480.8M547.8 480.8L552.3 483.7M538.6 480.0L545.7 482.3M547.8 480.8L545.7 482.3M556.6 480.8L561.2 483.7M554.5 490.4L551.5 487.4M554.5 490.4L561.2 486.7M561.2 483.7L561.2 486.7M552.3 483.7L551.5 487.4M563.3 507.0L563.7 505.6M563.7 505.6L559.2 498.9M556.9 507.0L557.3 499.4M557.3 499.4L559.2 498.9M559.1 526.9L559.6 533.2M567.2 531.8L560.5 534.5M559.6 533.2L560.5 534.5M545.4 552.2L547.6 544.5M552.4 547.8L552.3 546.7M552.3 546.7L549.9 542.7M549.9 542.7L547.6 544.5M539.5 548.7L539.7 547.8M547.6 544.5L539.7 547.8M585.6 504.0L581.1 498.9M581.1 498.9L584.5 494.3M588.4 485.3L582.5 491.1M584.5 494.3L582.5 491.1M580.2 483.6L581.0 490.4M582.5 491.1L581.0 490.4M565.2 478.8L565.4 479.5M565.4 479.5L571.5 474.3M558.0 476.1L565.2 478.8M556.4 478.7L558.0 476.1M561.2 483.7L565.6 481.2M565.6 481.2L565.4 479.5M567.7 481.9L565.6 481.2M567.7 481.9L572.7 478.5M572.7 478.5L571.5 474.3M576.4 480.0L572.7 478.5M535.2 500.2L539.0 494.9M535.2 500.2L532.1 495.5M539.0 494.9L533.4 492.1M532.1 495.5L533.4 492.1M541.9 504.2L546.4 499.7M546.4 499.7L540.5 494.2M534.7 502.2L535.2 500.2M540.5 494.2L539.0 494.9M526.4 496.2L532.1 495.5M532.9 491.1L533.4 492.1M545.0 485.0L548.4 488.7M545.0 485.0L539.7 486.8M541.3 491.2L539.6 487.3M541.3 491.2L547.5 490.0M547.5 490.0L548.4 488.7M539.7 486.8L539.6 487.3M545.7 482.3L545.0 485.0M551.5 487.4L548.4 488.7M538.0 480.7L539.7 486.8M540.5 494.2L541.3 491.2M535.1 488.4L539.6 487.3M552.4 497.0L555.9 499.0M552.4 497.0L549.3 497.8M555.9 499.0L552.2 506.4M549.3 497.8L547.4 499.6M547.4 499.6L551.3 505.9M551.3 505.9L552.2 506.4M554.5 490.4L554.7 492.1M554.7 492.1L552.4 497.0M547.5 490.0L549.3 497.8M554.3 508.1L552.2 506.4M557.3 499.4L555.9 499.0M546.4 499.7L547.4 499.6M546.5 508.8L551.3 505.9M557.3 539.3L560.6 536.9M557.3 539.3L558.2 544.7M564.6 543.4L561.1 546.3M564.6 543.4L560.8 537.1M560.8 537.1L560.6 536.9M561.1 546.3L558.2 544.7M552.3 546.7L558.2 544.7M549.9 542.7L549.9 540.9M549.9 540.9L557.3 539.3M560.3 550.6L561.1 546.3M568.4 544.2L564.6 543.4M570.2 537.4L560.8 537.1M560.5 534.5L560.6 536.9M552.7 525.3L551.2 530.6M543.5 531.7L547.0 534.0M543.5 531.7L543.4 531.6M547.0 534.0L551.2 530.6M559.6 533.2L555.9 533.1M551.2 530.6L555.9 533.1M549.3 540.0L538.7 544.2M549.3 540.0L548.9 539.1M548.7 538.8L548.9 539.1M548.7 538.8L539.0 539.9M539.0 539.9L537.1 541.2M537.1 541.2L538.7 544.2M549.9 540.9L549.3 540.0M539.7 547.8L538.7 544.2M555.9 533.1L548.9 539.1M547.0 534.0L548.7 538.8M543.5 531.7L539.0 539.9M536.3 540.8L537.1 541.2M578.1 508.1L576.1 503.9M568.9 510.7L571.9 503.2M576.1 503.9L571.9 503.2M581.1 498.9L580.2 499.1M576.1 503.9L576.1 503.9M580.2 499.1L576.1 503.9M563.7 505.6L568.2 500.8M559.2 498.9L562.3 495.4M568.2 500.8L562.3 495.4M571.9 503.2L568.3 500.7M568.2 500.8L568.3 500.7M554.7 492.1L562.4 494.7M562.4 494.7L562.3 495.4M581.0 490.4L576.8 491.3M580.2 499.1L577.0 496.3M576.8 491.3L577.0 496.3M576.1 503.9L574.5 497.7M577.0 496.3L574.5 497.7M568.3 500.7L571.0 496.7M574.5 497.7L571.0 496.7M573.4 490.1L571.0 492.3M573.4 490.1L572.8 487.4M569.9 485.2L563.5 490.4M569.9 485.2L572.8 487.4M571.0 492.3L563.9 491.8M563.5 490.4L563.9 491.8M576.8 491.3L573.4 490.1M571.0 496.7L571.0 492.3M577.0 482.0L572.8 487.4M561.2 486.7L563.5 490.4M567.7 481.9L569.9 485.2M562.4 494.7L563.9 491.8" stroke="#fff" stroke-width="1.0" fill="none" stroke-linecap="round" clip-path="url(#m_gb1)"/>
</g>
<g clip-path="url(#b2)">
<clipPath id="m_gb2"><path d="M540.3 481.58 L555.42 481.21 L553.15 484.61 L547.86 486.88 L552.4 488.39 L562.98 488.39 L564.49 490.66 L559.96 495.95 L556.18 498.22 L558.44 500.86 L552.4 501.24 L562.98 502 L566 505.02 L568.27 509.56 L573.56 512.58 L576.36 514.85 L576.36 540.55 L568.27 540.93 L562.98 541.69 L555.42 541.31 L550.88 544.71 L546.35 543.95 L539.54 546.6 L535.01 545.84 L540.3 542.82 L544.08 539.04 L551.64 537.53 L555.42 536.77 L557.69 534.5 L553.91 536.02 L547.86 534.5 L539.54 533.75 L538.79 532.24 L546.35 529.21 L547.1 524.68 L543.32 525.05 L545.59 522.41 L544.08 520.9 L554.66 521.65 L555.42 517.12 L550.88 512.58 L552.4 509.56 L544.84 510.69 L539.54 510.31 L541.81 506.53 L541.06 502 L535.76 506.15 L535.01 501.24 L536.52 497.46 L531.23 495.95 L535.76 491.41 L534.25 487.63 L538.03 484.61Z"/><path d="M522.16 492.92 L524.42 492.92 L531.23 483.1 L530.47 482.34 L525.18 485.36Z"/><path d="M527.45 490.66 L532.74 492.92 L534.25 491.41 L531.23 488.39Z"/><path d="M530.47 498.97 L535.01 498.22 L532.74 496.33Z"/><path d="M529.72 504.26 L532.74 503.89 L531.98 501.62 L528.96 502.37Z"/></clipPath>
<path d="M582.2 483.2L579.7 481.2M578.2 478.3L579.7 481.2M578.1 478.2L578.2 478.3M572.3 549.3L574.8 549.4M580.1 515.3L578.9 512.3M578.9 512.3L582.1 510.9M578.9 507.4L579.4 508.6M578.9 507.4L578.9 507.1M582.1 510.9L579.4 508.6M578.9 507.1L582.3 504.4M571.2 506.6L572.9 507.7M571.2 506.6L572.1 504.6M572.1 504.6L576.2 504.7M572.9 507.7L575.0 507.6M575.0 507.6L576.2 504.8M576.2 504.8L576.2 504.7M576.6 503.5L576.2 504.7M576.6 503.5L581.6 504.2M578.9 507.1L576.2 504.8M582.3 504.4L581.6 504.2M520.2 477.9L518.8 481.6M574.8 549.4L576.3 548.4M576.3 548.4L577.5 549.7M578.4 549.2L579.7 546.4M578.4 549.2L577.5 549.7M562.6 506.1L564.5 507.9M562.6 506.1L561.3 508.7M564.5 509.6L564.5 507.9M564.5 509.6L562.6 510.0M562.6 510.0L561.3 508.7M561.9 512.3L562.6 510.0M561.9 512.3L558.8 512.5M558.8 512.5L558.5 512.4M560.9 508.7L557.7 509.8M560.9 508.7L561.3 508.7M557.7 509.8L558.5 512.4M571.7 515.5L571.5 517.8M571.7 515.5L574.4 514.4M571.5 517.8L574.3 518.8M574.4 514.4L575.8 516.2M574.3 518.8L576.0 517.8M576.0 517.8L575.8 516.2M578.9 507.4L576.3 508.7M579.4 508.6L577.2 510.7M576.3 508.7L577.2 510.7M575.0 507.6L575.5 508.4M576.3 508.7L575.5 508.4M578.9 512.3L577.0 512.3M577.2 510.7L577.0 512.3M574.4 514.4L575.6 512.6M575.8 516.2L577.7 515.0M577.7 515.0L576.9 512.4M575.6 512.6L576.9 512.4M580.1 515.3L578.8 516.0M577.7 515.0L578.8 516.0M576.9 512.4L577.0 512.3M572.9 509.7L574.3 510.7M572.9 509.7L570.8 511.1M571.2 512.1L570.8 511.1M571.2 512.1L574.6 511.7M574.6 511.7L574.3 510.7M572.9 507.7L572.9 509.7M575.5 508.4L574.3 510.7M570.2 507.3L570.8 506.8M570.2 507.3L569.2 509.8M570.8 506.8L571.2 506.6M569.2 509.8L570.8 511.1M575.6 512.6L574.6 511.7M578.1 478.2L575.4 479.4M579.7 481.2L576.5 482.5M576.5 482.5L576.3 482.4M576.3 482.4L575.4 479.4M576.6 503.5L576.4 502.0M581.6 504.2L578.4 500.7M576.4 502.0L578.4 500.7M578.4 500.7L578.4 500.7M572.1 504.6L572.1 504.3M575.3 501.1L576.4 502.0M575.3 501.1L572.3 502.2M572.3 502.2L572.1 504.3M570.2 507.3L566.5 506.1M570.8 506.8L568.1 503.6M566.5 506.1L566.5 506.0M566.5 506.0L566.4 505.9M568.1 503.6L566.4 505.9M572.1 504.3L570.0 503.5M570.0 503.5L568.1 503.6M568.1 503.6L568.1 503.6M550.4 476.5L554.6 479.5M554.6 479.5L555.3 479.1M549.9 479.7L550.6 478.1M549.9 479.7L553.3 480.6M550.6 478.1L553.4 480.5M553.3 480.6L553.4 480.5M550.4 476.5L550.6 478.1M546.6 477.5L548.4 481.1M548.4 481.1L549.9 479.7M554.6 479.5L553.4 480.5M574.8 546.5L575.4 547.0M574.8 546.5L576.3 544.5M575.4 547.0L579.3 546.0M576.3 544.5L578.8 544.8M578.8 544.8L579.3 546.0M576.3 548.4L575.4 547.0M579.7 546.4L579.3 546.0M579.4 542.5L578.4 541.4M579.4 542.5L580.8 542.5M578.4 541.4L580.1 538.5M575.8 542.2L576.0 541.6M575.8 542.2L576.3 544.5M576.0 541.6L576.3 541.2M576.3 541.2L578.4 541.4M578.8 544.8L579.4 542.5M571.1 518.2L571.5 517.8M571.1 518.2L571.2 520.3M573.0 522.3L571.2 520.3M573.0 522.3L574.7 521.8M574.3 518.8L575.0 521.4M574.7 521.8L575.0 521.4M577.6 520.7L580.6 521.4M577.6 520.7L577.6 518.1M577.6 518.1L578.4 517.8M578.4 517.8L580.9 519.0M580.9 519.0L580.6 521.4M576.0 517.8L577.6 518.1M576.4 521.6L575.0 521.4M576.4 521.6L577.6 520.7M578.8 516.0L578.4 517.8M581.4 523.4L580.6 521.4M580.0 532.4L579.5 529.2M580.6 528.5L579.5 529.2M581.4 523.4L580.4 524.3M580.6 528.5L580.4 524.3M562.2 516.0L559.8 515.2M562.2 516.0L563.5 515.3M559.8 515.2L558.8 512.5M561.9 512.3L563.6 514.6M563.6 514.6L563.5 515.3M565.3 518.1L567.7 518.6M565.3 518.1L564.1 516.0M567.7 518.6L567.7 515.4M567.7 515.4L564.1 516.0M556.8 509.4L555.7 509.7M556.8 509.4L557.2 509.4M557.2 509.4L557.7 509.8M558.5 512.4L556.7 513.9M554.8 513.5L556.7 513.9M554.8 513.5L554.4 511.2M554.4 511.2L555.7 509.7M554.7 506.9L552.6 507.0M554.7 506.9L556.8 509.4M555.7 509.7L552.5 508.2M552.5 508.2L552.6 507.0M536.7 493.5L540.1 492.9M536.7 493.5L536.2 493.9M536.2 493.9L536.2 494.2M538.6 496.1L536.2 494.2M538.6 496.1L540.9 494.2M540.9 494.2L540.1 492.9M538.6 496.1L538.6 496.1M536.2 494.2L535.6 497.3M535.6 497.3L537.0 498.0M537.0 498.0L538.6 496.1M540.9 494.2L541.8 494.7M541.8 494.7L540.1 498.1M538.6 496.1L540.1 498.1M537.0 498.0L537.7 499.0M540.1 498.1L540.2 498.2M540.2 498.2L539.4 500.0M537.7 499.0L539.4 500.0M574.1 483.9L573.5 486.5M574.1 483.9L572.8 483.1M573.5 486.5L571.4 484.7M572.8 483.1L571.4 484.7M575.3 479.4L573.0 480.3M573.0 480.3L571.5 478.5M576.3 482.4L575.0 483.8M575.4 479.4L575.3 479.4M574.1 483.9L575.0 483.8M572.8 483.1L572.2 481.6M572.2 481.6L573.0 480.3M569.1 479.6L570.6 481.7M569.1 479.6L571.5 478.5M572.2 481.6L570.6 481.7M569.1 479.6L568.0 479.1M576.9 491.8L576.4 492.9M576.9 491.8L573.6 491.1M576.4 492.9L574.1 493.5M573.6 491.1L574.0 493.5M574.0 493.5L574.1 493.5M577.5 495.9L576.4 492.9M577.5 495.9L579.0 492.0M578.7 490.8L576.9 491.8M578.7 490.8L579.0 492.0M578.8 490.6L578.7 490.8M578.8 490.6L576.8 488.8M576.8 488.8L573.5 490.8M573.5 490.8L573.6 491.1M564.5 477.1L564.2 479.5M568.0 479.1L566.6 481.3M566.6 481.3L564.2 479.5M560.0 488.5L559.2 490.5M560.0 488.5L561.4 488.3M562.7 491.2L561.4 488.3M562.7 491.2L559.9 492.4M559.9 492.4L559.2 490.5M554.8 503.5L555.6 500.6M554.8 503.5L556.1 504.9M558.4 502.1L559.3 504.7M558.4 502.1L555.7 500.5M555.7 500.5L555.6 500.6M556.1 504.9L558.0 505.5M558.0 505.5L558.9 505.0M558.9 505.0L559.3 504.7M552.8 504.1L554.8 503.5M552.8 504.1L551.5 503.3M551.2 502.6L553.0 500.5M551.2 502.6L551.5 503.3M553.0 500.5L555.6 500.6M554.7 506.9L556.1 504.9M552.8 504.1L552.4 506.6M552.6 507.0L552.4 506.6M559.2 501.4L558.4 502.1M559.2 501.4L560.1 498.4M555.8 500.3L555.7 500.5M555.8 500.3L556.1 499.3M556.1 499.3L560.1 498.4M550.6 498.3L551.2 497.5M550.6 498.3L553.0 500.5M551.2 497.5L555.8 500.3M557.2 509.4L558.0 505.5M560.9 508.7L558.9 505.0M571.7 498.9L569.3 497.9M571.7 498.9L570.8 500.6M569.3 497.9L570.2 500.7M570.8 500.6L570.5 500.7M570.2 500.7L570.5 500.7M572.3 502.2L570.8 500.6M570.0 503.5L570.5 500.7M575.7 496.6L575.1 500.4M575.7 496.6L575.6 496.6M575.6 496.6L572.3 497.0M575.1 500.4L571.8 498.9M571.8 498.9L572.3 497.0M575.3 501.1L575.1 500.4M578.4 500.7L578.6 500.1M576.8 496.4L578.6 500.1M576.8 496.4L575.7 496.6M577.5 495.9L577.5 496.0M574.1 493.5L575.6 496.6M577.5 496.0L576.8 496.4M572.5 494.1L571.9 496.6M572.5 494.1L574.0 493.5M571.9 496.6L572.3 497.0M571.7 498.9L571.8 498.9M566.5 506.0L564.5 507.9M562.6 506.1L562.6 505.3M566.4 505.9L564.7 504.8M564.7 504.8L562.6 505.3M559.3 504.7L561.4 504.3M562.6 505.3L561.4 504.3M559.2 501.4L562.2 501.7M561.4 504.3L562.2 501.7M568.1 503.6L567.6 502.2M570.2 500.7L568.0 500.9M568.0 500.9L567.6 502.2M564.7 504.8L565.1 502.7M567.6 502.2L565.1 502.7M561.5 482.4L560.7 480.8M561.5 482.4L563.6 482.2M563.6 482.2L563.2 480.4M563.2 480.4L560.9 480.0M560.9 480.0L560.7 480.8M564.5 477.1L560.5 479.3M563.2 480.4L564.2 479.5M560.9 480.0L560.5 479.3M560.5 479.3L559.5 478.3M555.3 479.1L556.1 479.4M556.1 479.4L556.4 479.5M559.5 478.3L556.4 479.5M544.5 486.1L547.7 485.9M544.5 486.1L544.1 485.9M544.1 485.9L543.5 484.5M548.8 482.7L547.7 485.9M548.8 482.7L548.7 482.6M543.5 484.5L548.7 482.6M536.7 493.5L537.4 490.9M536.2 493.9L535.2 493.5M535.2 493.5L534.8 491.0M534.8 491.0L535.7 489.4M537.4 490.9L535.7 489.4M533.8 482.9L535.5 485.7M533.8 482.9L535.0 481.3M535.5 485.7L537.8 483.4M537.8 483.4L537.7 482.1M537.7 482.1L535.0 481.3M548.4 481.1L548.4 481.9M548.8 482.7L548.9 482.7M553.3 480.6L553.0 481.5M548.7 482.6L548.4 481.9M553.0 481.5L548.9 482.7M550.4 487.3L551.8 485.7M550.4 487.3L548.3 486.8M548.3 486.8L547.7 485.9M548.9 482.7L551.8 485.7M553.0 481.5L554.3 484.8M551.8 485.7L554.0 485.4M554.3 484.8L554.1 485.4M554.0 485.4L554.1 485.4M560.0 488.5L558.7 487.1M559.2 490.5L555.4 490.5M557.4 487.2L555.4 490.5M557.4 487.2L557.7 487.1M558.7 487.1L557.7 487.1M563.0 485.4L562.1 487.9M563.0 485.4L561.0 484.3M561.0 484.3L559.6 484.5M561.4 488.3L562.1 487.9M558.7 487.1L559.6 484.5M576.2 535.9L577.5 537.4M576.2 535.9L577.7 533.6M578.4 533.6L577.7 533.6M578.4 533.6L579.7 535.5M579.7 535.5L579.2 537.5M579.2 537.5L577.5 537.4M573.4 538.2L576.0 540.1M573.4 538.2L574.7 536.0M576.0 540.1L577.5 537.4M574.7 536.0L576.2 535.9M573.5 531.5L573.5 531.5M573.5 531.5L576.3 532.0M574.7 536.0L574.2 535.4M576.3 532.0L577.7 533.6M574.2 535.4L573.5 531.5M580.0 532.4L578.4 533.6M580.1 538.5L579.2 537.5M576.3 541.2L576.0 540.1M576.4 521.6L577.8 524.0M574.7 521.8L574.8 523.8M574.8 523.8L577.8 524.0M573.0 522.3L571.9 524.0M571.9 524.0L574.0 525.9M574.8 523.8L574.0 525.9M557.0 519.2L558.3 517.4M557.0 519.2L555.2 517.9M555.2 517.9L555.4 516.5M555.4 516.5L556.9 515.3M556.9 515.3L558.2 516.8M558.2 516.8L558.3 517.4M559.8 515.2L558.2 516.8M556.7 513.9L556.9 515.3M562.2 516.0L560.9 518.1M560.9 518.1L558.3 517.4M565.3 518.1L563.6 520.3M560.9 518.1L561.1 518.9M563.5 515.3L564.1 516.0M561.1 518.9L563.6 520.3M567.8 518.7L567.7 518.6M567.8 518.7L567.5 521.1M567.5 521.1L563.7 521.5M563.7 521.5L563.6 521.4M563.6 520.3L563.6 521.4M564.5 509.6L564.5 509.6M563.6 514.6L565.2 513.4M565.2 513.4L564.5 509.6M566.5 506.1L567.1 509.8M564.5 509.6L567.1 509.8M569.2 509.8L567.9 510.2M567.1 509.8L567.9 510.2M539.0 504.5L540.1 506.3M539.0 504.5L540.6 501.7M540.1 506.3L543.1 504.8M540.6 501.7L541.3 501.8M541.3 501.8L543.2 503.7M543.2 503.7L543.1 504.8M554.4 511.2L552.4 510.9M552.5 508.2L551.6 509.5M552.4 510.9L551.6 509.5M544.8 508.7L542.7 509.7M544.8 508.7L545.2 507.7M545.2 507.7L544.1 506.7M544.1 506.7L540.9 507.7M540.9 507.7L542.7 509.7M540.0 507.3L540.1 506.3M540.0 507.3L540.9 507.7M543.1 504.8L544.1 506.7M571.1 518.2L567.8 518.7M567.5 521.1L567.9 522.3M571.2 520.3L569.3 523.4M569.3 523.4L567.9 522.3M563.7 521.5L565.7 523.4M567.9 522.3L565.7 523.4M547.1 497.1L548.6 499.0M547.1 497.1L549.3 494.1M550.6 498.3L549.0 499.3M551.2 497.5L551.6 496.6M549.3 494.1L551.6 496.6M549.0 499.3L548.6 499.0M551.2 502.6L548.9 501.3M549.0 499.3L548.9 501.3M544.3 496.3L544.7 496.4M544.3 496.3L542.7 498.0M544.7 496.4L545.0 499.7M542.7 498.0L543.1 500.2M543.1 500.2L544.7 500.2M544.7 500.2L545.0 499.7M541.8 494.7L543.0 494.8M543.0 494.8L544.3 496.3M540.2 498.2L542.7 498.0M547.1 497.1L545.0 496.4M545.0 496.4L544.7 496.4M548.6 499.0L545.0 499.7M539.5 500.5L539.4 500.0M539.5 500.5L540.6 501.7M541.3 501.8L543.1 500.2M532.3 485.8L530.6 485.2M532.3 485.8L533.1 483.1M533.1 483.1L532.1 482.9M532.1 482.9L530.7 483.4M530.7 483.4L530.6 485.2M533.8 482.9L533.1 483.1M535.5 485.7L535.8 487.3M532.4 487.9L535.6 487.5M532.4 487.9L532.3 485.8M535.8 487.3L535.6 487.5M530.6 479.6L532.1 482.9M530.6 479.6L529.0 480.0M529.1 483.1L529.0 480.0M529.1 483.1L530.7 483.4M527.8 484.9L525.8 485.5M527.8 484.9L529.2 487.5M529.2 487.5L525.9 488.0M525.9 488.0L525.8 485.5M521.4 494.1L521.5 492.3M520.1 490.3L521.5 492.3M524.3 499.1L525.0 497.1M524.3 499.1L521.1 499.5M521.1 499.5L520.8 497.7M520.8 497.7L522.6 495.8M522.6 495.8L525.0 497.1M521.4 494.1L522.6 495.6M522.6 495.8L522.6 495.6M550.4 549.0L551.9 548.9M572.3 549.3L572.3 548.9M574.8 546.5L573.4 546.5M573.4 546.5L572.3 548.9M548.4 547.7L548.3 546.4M548.4 547.7L547.3 548.5M547.3 548.5L544.5 547.8M544.5 547.8L546.7 545.3M546.7 545.3L548.3 546.4M550.4 549.0L548.4 547.7M551.1 544.9L551.0 542.0M551.1 544.9L550.9 545.0M550.9 545.0L549.7 544.9M549.7 544.9L549.1 542.5M549.1 542.5L550.5 541.4M550.5 541.4L551.0 542.0M553.0 544.6L551.1 544.9M553.0 544.6L553.2 543.5M553.2 543.5L551.0 542.0M554.2 546.6L553.7 547.8M554.2 546.6L553.0 544.6M553.7 547.8L551.9 548.9M551.9 548.9L550.9 545.0M551.9 548.9L551.9 548.9M548.3 546.4L549.7 544.9M548.8 542.4L545.6 543.7M548.8 542.4L549.1 542.5M545.6 543.7L546.7 545.3M522.0 536.9L522.6 535.5M522.0 536.9L521.9 536.9M522.6 535.5L519.1 532.5M518.4 535.7L521.9 536.9M516.3 533.0L519.1 532.5M521.4 531.4L520.2 527.5M521.4 531.4L519.1 532.5M516.3 533.0L520.0 527.5M520.0 527.5L520.2 527.5M523.0 535.1L522.6 535.5M523.0 535.1L523.5 532.6M521.4 531.4L521.5 531.4M523.5 532.6L521.5 531.4M543.0 545.7L544.0 547.8M543.0 545.7L540.2 547.2M540.2 547.2L541.6 549.1M544.0 547.8L543.3 549.3M541.6 549.1L543.3 549.3M543.3 543.9L544.9 543.4M543.3 543.9L543.0 545.7M545.6 543.7L544.9 543.4M544.5 547.8L544.0 547.8M538.5 552.0L538.7 547.3M538.5 552.0L541.6 549.1M539.3 547.0L538.7 547.3M539.3 547.0L540.2 547.2M519.7 550.3L522.1 548.9M522.1 548.9L524.0 549.8M524.0 549.8L525.3 547.7M527.8 549.9L525.3 547.7M538.5 552.0L538.2 552.9M538.5 547.2L538.7 547.3M538.5 547.2L536.1 549.0M536.1 549.0L538.2 552.9M536.3 539.8L540.0 540.7M536.3 539.8L536.0 538.7M540.0 540.7L540.0 537.6M540.0 537.6L536.5 537.6M536.0 538.7L536.5 537.6M548.8 542.4L547.0 540.0M544.9 543.4L545.5 540.8M547.0 540.0L545.5 540.8M536.2 504.5L535.4 507.0M536.2 504.5L539.0 504.5M540.0 507.3L538.9 508.3M538.9 508.3L535.4 507.0M576.0 485.2L576.1 487.1M576.0 485.2L578.2 484.2M579.2 485.8L579.6 484.9M579.2 485.8L576.5 487.4M576.5 487.4L576.1 487.1M579.6 484.9L578.2 484.2M575.0 483.8L576.0 485.2M573.5 486.5L573.6 487.0M573.6 487.0L576.1 487.1M576.5 482.5L578.2 484.2M580.5 489.6L579.2 485.8M582.2 483.2L579.6 484.9M580.5 489.6L578.8 490.6M576.8 488.8L576.5 487.4M573.5 490.8L571.9 489.9M573.6 487.0L571.7 488.9M571.9 489.9L571.7 488.9M563.0 485.4L565.1 484.5M565.1 489.3L562.1 487.9M565.1 489.3L566.6 486.9M566.6 486.9L565.1 484.5M570.6 481.7L568.9 483.2M566.6 481.3L566.6 482.9M568.9 483.2L566.6 482.9M563.6 482.2L565.3 484.1M566.6 482.9L565.3 484.1M561.5 482.4L561.0 484.3M565.1 484.5L565.3 484.1M581.1 498.2L577.9 496.0M577.9 496.0L581.5 494.3M577.5 496.0L577.9 496.0M578.6 500.1L581.1 498.2M579.0 492.0L581.5 494.3M556.1 499.3L555.9 498.6M551.6 496.6L553.3 495.9M555.9 498.6L553.3 495.9M559.9 492.4L559.8 492.9M559.8 492.9L558.1 493.8M555.4 490.5L555.1 490.7M558.1 493.8L555.1 490.7M572.5 494.1L570.6 493.2M571.9 496.6L568.9 495.4M568.9 495.4L570.6 493.2M571.9 489.9L570.8 491.3M570.6 493.2L570.8 491.3M569.3 497.9L568.0 496.7M568.0 500.9L567.6 500.3M567.6 500.3L568.0 496.7M568.9 495.4L568.8 495.5M568.8 495.5L567.9 496.4M568.0 496.7L567.9 496.4M564.3 493.3L564.9 496.4M564.3 493.3L561.1 494.2M561.2 495.4L561.1 494.2M561.2 495.4L564.8 496.5M564.8 496.5L564.9 496.4M537.4 490.9L539.6 489.9M535.7 489.4L535.6 487.5M535.8 487.3L537.9 487.3M539.6 489.9L537.9 487.3M540.1 492.9L540.7 490.4M539.6 489.9L540.7 490.4M537.8 483.4L539.4 485.8M537.9 487.3L539.4 485.8M540.9 484.8L539.5 485.7M540.9 484.8L539.7 482.3M539.7 482.3L539.0 481.4M537.7 482.1L539.0 481.4M539.4 485.8L539.5 485.7M524.5 483.4L526.6 482.7M524.5 483.4L523.3 481.0M526.6 482.7L526.2 480.1M526.2 480.1L523.4 480.8M523.3 481.0L523.4 480.8M527.8 484.9L528.0 483.7M528.0 483.7L526.6 482.7M524.1 484.9L525.8 485.5M524.1 484.9L524.5 483.4M528.0 483.7L529.1 483.1M527.1 479.1L526.2 480.1M527.1 479.1L529.0 480.0M523.0 479.5L523.4 480.8M520.2 477.9L523.0 479.5M518.8 481.6L520.0 482.6M520.0 482.6L523.3 481.0M531.2 479.1L532.2 478.9M530.6 479.6L531.2 479.1M535.0 481.3L534.8 480.0M534.8 480.0L532.2 478.9M536.0 477.8L534.8 480.0M536.0 477.8L540.1 478.8M544.3 481.3L543.3 482.7M544.3 481.3L544.4 478.8M543.3 482.7L543.3 482.6M543.3 482.6L540.2 479.5M544.4 478.8L543.7 478.6M543.7 478.6L540.2 479.1M540.2 479.1L540.2 479.5M543.4 484.4L543.5 484.5M543.4 484.4L543.3 482.7M548.4 481.9L544.3 481.3M546.6 477.5L544.4 478.8M540.9 484.8L543.4 484.4M539.7 482.3L543.3 482.6M539.0 481.4L540.2 479.5M540.1 478.8L540.2 479.1M557.2 484.0L558.5 483.3M557.2 484.0L555.0 484.4M555.8 482.8L555.0 484.4M555.8 482.8L558.1 482.2M558.5 483.3L558.4 482.6M558.1 482.2L558.4 482.6M557.7 487.1L557.2 484.0M559.6 484.5L558.5 483.3M554.3 484.8L555.0 484.4M557.4 487.2L554.1 485.4M556.1 479.4L555.8 482.8M556.4 479.5L558.1 482.2M560.7 480.8L558.4 482.6M550.4 487.3L550.5 487.6M548.3 486.8L546.9 490.0M550.5 487.6L549.6 489.8M549.6 489.8L546.9 490.0M576.3 526.4L578.2 524.4M576.3 526.4L577.2 528.3M577.2 528.3L578.6 529.2M578.3 524.4L578.6 529.2M578.3 524.4L578.2 524.4M578.6 529.2L578.6 529.2M577.8 524.0L578.2 524.4M574.0 525.9L574.1 526.1M574.1 526.1L574.1 526.1M574.1 526.1L576.3 526.4M574.1 530.1L574.1 526.1M574.1 530.1L577.2 528.3M573.5 531.5L573.5 531.3M576.3 532.0L578.6 529.2M574.1 530.1L573.5 531.3M579.5 529.2L578.6 529.2M580.4 524.3L578.3 524.4M567.3 512.2L566.8 513.0M567.3 512.2L571.0 513.5M566.8 513.0L568.1 514.6M568.1 514.6L571.1 514.7M571.1 514.7L571.0 513.5M565.2 513.4L566.8 513.0M567.9 510.2L567.3 512.2M571.2 512.1L571.0 513.5M567.7 515.4L568.1 514.6M571.7 515.5L571.1 514.7M552.4 506.6L549.3 506.3M549.4 509.6L551.6 509.5M549.4 509.6L548.4 507.6M548.4 507.6L549.3 506.3M551.5 503.3L549.3 505.5M549.3 505.5L549.3 506.3M549.4 509.6L549.4 509.6M544.8 508.7L546.3 511.7M545.2 507.7L546.0 507.3M548.4 507.6L546.0 507.3M546.3 511.7L549.4 509.6M543.7 503.6L546.4 504.7M543.7 503.6L545.5 501.7M545.5 501.7L547.8 502.2M546.4 504.7L547.7 503.5M547.8 502.2L547.7 503.5M543.2 503.7L543.7 503.6M546.0 507.3L546.4 504.7M544.7 500.2L545.5 501.7M548.9 501.3L547.8 502.2M549.3 505.5L547.7 503.5M534.9 509.5L535.0 507.4M534.9 509.5L533.5 510.5M533.5 510.5L531.4 510.1M531.4 510.1L531.8 507.5M535.0 507.4L531.8 507.5M528.0 508.0L527.9 507.5M528.0 508.0L531.0 510.3M527.9 507.5L531.4 507.1M531.4 510.1L531.0 510.3M531.8 507.5L531.4 507.1M521.1 499.5L521.1 499.5M521.1 499.5L521.6 502.6M524.6 501.7L525.1 501.9M524.6 501.7L522.4 502.9M522.4 502.9L527.0 506.1M525.1 501.9L527.3 504.9M527.3 504.9L527.0 506.1M524.3 499.1L524.6 501.7M525.6 496.9L525.0 497.1M525.6 496.9L527.1 498.7M527.1 498.7L527.0 500.9M527.0 500.9L525.1 501.9M521.6 502.6L522.1 503.0M522.1 503.0L522.4 502.9M527.9 507.5L526.9 506.6M526.9 506.6L527.0 506.1M528.8 504.0L531.4 505.8M528.8 504.0L527.3 504.9M531.4 507.1L531.4 505.8M535.2 493.5L534.2 493.8M535.6 497.3L534.1 498.2M534.1 498.2L532.2 495.6M534.2 493.8L532.2 495.6M530.2 498.9L530.5 495.6M530.2 498.9L526.2 496.4M526.2 496.4L526.8 495.8M526.8 495.8L530.2 495.4M530.5 495.6L530.2 495.4M534.1 498.2L533.7 499.8M530.2 498.9L530.2 498.9M532.2 495.6L530.5 495.6M533.7 499.8L530.2 498.9M537.7 499.0L534.0 500.9M533.7 499.8L534.0 500.9M525.6 496.9L526.2 496.4M527.1 498.7L529.7 499.4M530.2 498.9L529.7 499.4M527.0 500.9L529.2 501.2M529.7 499.4L529.2 501.2M528.8 504.0L529.7 502.4M529.7 502.4L529.2 501.2M524.5 490.1L523.0 491.8M524.5 490.1L526.2 491.7M523.0 491.8L524.8 492.9M524.8 492.9L526.3 492.8M526.2 491.7L526.5 492.4M526.3 492.8L526.5 492.4M525.3 488.4L524.4 488.8M525.3 488.4L526.9 489.8M524.4 488.8L524.5 490.1M526.9 489.8L526.2 491.7M521.5 492.3L523.0 491.8M522.6 495.6L524.8 492.9M526.8 495.8L526.3 492.8M520.7 489.4L523.5 488.3M520.7 489.4L519.9 485.4M523.5 488.3L523.0 485.5M523.0 485.5L520.5 484.6M519.9 485.4L520.5 484.6M520.1 490.3L520.7 489.4M524.4 488.8L523.5 488.3M525.3 488.4L525.9 488.0M524.1 484.9L523.0 485.5M520.0 482.6L520.5 484.6M516.9 514.1L519.9 512.4M516.9 514.1L520.8 516.8M519.9 512.4L522.8 514.9M520.8 516.8L522.3 516.3M522.8 514.9L522.3 516.3M520.8 516.8L520.5 518.6M520.5 518.6L522.2 519.1M522.2 519.1L523.3 517.6M522.3 516.3L523.3 517.6M524.1 514.5L522.8 514.9M524.1 514.5L525.4 514.5M523.3 517.6L525.6 518.1M525.6 518.1L525.7 514.8M525.4 514.5L525.7 514.8M524.1 514.5L523.3 512.0M525.8 511.5L525.4 514.5M525.8 511.5L524.7 510.6M524.7 510.6L523.3 512.0M519.9 512.4L519.9 512.3M519.9 512.3L520.0 512.3M523.3 512.0L520.0 512.3M519.4 508.3L519.4 508.2M519.4 508.2L519.8 505.4M522.1 503.0L522.0 504.2M519.8 505.4L522.0 504.2M526.6 506.7L522.6 505.5M526.6 506.7L524.3 509.5M524.3 509.5L523.2 509.2M523.2 509.2L521.9 507.8M522.6 505.5L521.9 507.8M526.9 506.6L526.6 506.7M522.0 504.2L522.6 505.5M528.0 508.0L527.6 511.2M525.8 511.5L527.6 511.2M524.7 510.6L524.3 509.5M520.0 512.3L523.2 509.2M519.4 508.3L519.9 512.3M519.4 508.2L521.9 507.8M553.7 547.8L556.1 549.9M572.3 548.9L569.5 548.2M568.4 550.3L569.5 548.2M568.4 550.3L567.3 550.4M567.3 550.4L565.3 551.4M565.3 551.4L564.2 548.6M564.2 548.6L561.7 548.5M539.6 544.7L538.2 543.6M539.6 544.7L542.4 543.3M538.2 543.6L540.2 540.8M542.4 543.3L541.2 541.1M541.2 541.1L540.2 540.8M543.3 543.9L542.4 543.3M539.3 547.0L539.6 544.7M545.5 540.8L543.4 538.9M543.4 538.9L541.2 541.1M540.0 540.7L540.2 540.8M540.0 537.6L540.7 536.7M543.4 538.9L543.4 538.4M543.4 538.4L541.8 536.9M541.8 536.9L540.7 536.7M520.2 527.5L521.8 526.5M521.5 531.4L523.3 529.0M523.3 529.0L522.1 526.6M522.1 526.6L521.8 526.5M520.5 518.6L518.4 520.2M532.4 540.4L530.7 540.4M532.4 540.4L532.9 538.1M532.9 538.1L531.7 537.0M531.7 537.0L530.1 538.1M530.7 540.4L530.1 538.1M521.8 541.5L521.2 542.6M521.8 541.5L520.1 539.4M519.1 539.7L520.1 539.4M524.2 538.8L522.0 536.9M524.2 538.8L524.0 540.7M521.9 536.9L520.1 539.4M524.0 540.7L524.0 540.7M524.0 540.7L521.8 541.5M518.4 535.7L519.1 539.7M521.3 542.9L520.7 546.2M521.3 542.9L523.5 544.2M523.5 544.2L523.5 545.7M523.5 545.7L521.1 546.4M520.7 546.2L521.1 546.4M521.2 542.6L521.3 542.9M524.0 540.7L524.5 543.0M524.5 543.0L523.5 544.2M522.1 548.9L521.1 546.4M525.5 546.9L525.3 547.7M525.5 546.9L523.5 545.7M536.5 537.6L536.5 537.4M540.7 536.7L539.6 534.4M539.6 534.4L537.4 535.0M537.4 535.0L536.5 537.4M536.1 549.0L534.5 548.1M533.6 548.5L533.6 548.5M534.5 548.1L533.6 548.5M538.5 547.2L536.1 545.8M534.5 548.1L536.1 545.8M533.6 548.5L531.4 548.2M531.4 548.2L530.2 549.8M527.8 549.9L528.6 549.4M530.2 549.8L528.6 549.4M547.0 540.0L547.4 539.1M543.4 538.4L544.1 537.9M544.1 537.9L547.4 539.1M541.8 536.9L543.7 534.3M539.8 534.1L541.4 533.1M539.8 534.1L539.6 534.4M541.4 533.1L543.7 534.3M570.6 485.0L568.9 483.2M570.6 485.0L570.0 487.7M568.9 483.2L568.2 487.4M570.0 487.7L568.8 487.7M568.8 487.7L568.2 487.4M571.4 484.7L570.6 485.0M568.9 483.2L568.9 483.2M571.7 488.9L570.0 487.7M566.6 486.9L568.2 487.4M558.1 495.7L556.7 497.0M558.1 495.7L557.8 494.3M556.7 497.0L555.9 495.1M557.8 494.3L556.8 494.5M555.9 495.1L556.8 494.5M560.2 497.4L558.1 495.7M560.2 497.4L560.3 498.3M560.3 498.3L560.1 498.4M555.9 498.6L556.7 497.0M560.2 497.4L561.2 495.4M559.8 492.9L561.1 494.2M558.1 493.8L557.8 494.3M553.5 495.5L553.3 495.9M553.5 495.5L555.9 495.1M550.9 490.9L550.5 492.5M550.9 490.9L553.2 489.8M550.5 492.5L553.6 493.5M554.9 490.7L554.2 492.5M554.9 490.7L553.8 489.9M553.6 493.5L554.2 492.5M553.2 489.8L553.8 489.9M550.5 487.6L553.2 489.8M549.6 489.8L550.9 490.9M555.1 490.7L554.9 490.7M556.8 494.5L554.2 492.5M554.0 485.4L553.8 489.9M553.5 495.5L553.6 493.5M567.8 493.8L567.7 491.5M567.8 493.8L564.3 493.2M565.2 490.8L564.4 491.8M565.2 490.8L567.3 491.1M567.3 491.1L567.7 491.5M564.4 491.8L564.3 493.2M568.8 495.5L567.8 493.8M570.8 491.3L567.7 491.5M564.3 493.3L564.3 493.2M567.9 496.4L564.9 496.4M562.7 491.2L564.4 491.8M565.1 489.3L565.2 490.8M568.8 487.7L567.3 491.1M564.1 498.1L565.8 499.9M564.1 498.1L562.2 499.2M565.8 499.9L564.3 501.8M562.2 499.2L562.5 501.4M562.5 501.4L564.3 501.8M567.6 500.3L565.8 499.9M564.8 496.5L564.1 498.1M560.3 498.3L562.2 499.2M565.1 502.7L564.3 501.8M562.2 501.7L562.5 501.4M542.1 490.0L540.7 490.4M542.1 490.0L542.5 488.1M540.7 490.4L540.5 486.8M542.5 488.1L540.5 486.8M543.0 494.8L544.5 491.2M544.5 491.2L542.1 490.0M540.7 490.4L540.7 490.4M539.5 485.7L540.5 486.8M544.1 485.9L542.5 488.1M549.2 493.8L549.3 493.4M549.2 493.8L546.6 493.9M549.3 493.4L546.9 490.0M546.6 493.9L544.9 491.1M544.9 491.1L546.4 490.1M546.4 490.1L546.9 490.0M549.3 494.1L549.2 493.8M550.5 492.5L549.3 493.4M545.0 496.4L546.6 493.9M546.9 490.0L546.9 490.0M544.5 491.2L544.9 491.1M544.5 486.1L546.4 490.1M552.7 515.1L551.0 515.3M552.7 515.1L553.1 514.7M553.1 514.6L553.1 514.7M553.1 514.6L551.9 512.4M551.0 515.3L549.5 513.1M551.9 512.4L549.8 512.6M549.5 513.1L549.8 512.6M552.9 518.4L549.5 517.8M552.9 518.4L553.0 518.2M553.0 518.2L552.7 515.1M549.5 517.8L549.3 516.7M549.3 516.7L551.0 515.3M555.2 517.9L553.0 518.2M555.4 516.5L553.1 514.7M554.8 513.5L553.1 514.6M552.4 510.9L551.9 512.4M548.0 515.9L547.7 513.7M548.0 515.9L549.3 516.7M547.7 513.7L549.5 513.1M549.4 509.6L549.8 512.6M546.3 511.7L546.1 512.6M546.1 512.6L547.7 513.7M558.9 528.2L558.9 527.2M558.9 528.2L560.6 529.0M560.6 529.0L562.9 527.8M562.9 527.8L560.1 525.7M560.1 525.7L558.9 527.2M542.7 509.7L542.5 510.2M538.9 508.3L538.9 509.1M542.5 510.2L540.9 510.8M540.9 510.8L538.9 509.1M534.9 509.5L536.6 511.1M535.4 507.0L535.2 507.2M535.0 507.4L535.2 507.2M538.9 509.1L537.6 511.1M536.6 511.1L537.6 511.1M571.4 527.6L571.3 527.8M571.4 527.6L569.9 524.1M571.3 527.8L567.9 526.0M567.9 526.0L569.6 524.0M569.9 524.1L569.6 524.0M573.5 531.3L571.1 528.5M574.1 526.1L571.4 527.6M571.1 528.5L571.3 527.8M571.9 524.0L569.9 524.1M568.8 529.3L567.9 529.1M568.8 529.3L571.1 528.5M567.6 526.3L567.9 529.1M567.6 526.3L567.9 526.0M569.3 523.4L569.6 524.0M565.7 523.4L565.3 525.7M567.6 526.3L565.3 525.7M534.2 493.8L532.0 492.0M530.2 495.4L530.1 493.5M530.1 493.5L532.0 492.0M526.5 492.4L528.7 491.8M530.1 493.5L528.7 491.8M534.0 501.4L532.2 502.5M534.0 501.4L535.4 502.5M535.8 503.7L532.9 505.0M535.8 503.7L535.4 502.5M532.2 502.5L532.2 504.8M532.9 505.0L532.2 504.8M534.0 500.9L534.0 501.4M529.7 502.4L532.2 502.5M539.5 500.5L535.4 502.5M536.2 504.5L535.8 503.7M535.2 507.2L532.9 505.0M531.4 505.8L532.2 504.8M527.6 511.2L529.6 512.5M525.7 514.8L528.0 514.7M528.0 514.7L529.6 512.5M525.6 518.1L525.9 518.6M528.5 518.6L525.9 518.6M528.5 518.6L529.6 517.5M528.0 514.7L529.6 517.5M531.0 510.3L529.9 512.4M529.9 512.4L529.6 512.5M529.3 522.3L529.5 522.0M529.3 522.3L526.1 523.2M529.5 522.0L526.0 520.6M526.1 523.2L526.0 520.6M528.5 518.6L529.5 521.9M525.6 519.3L526.0 520.6M525.6 519.3L525.9 518.6M529.5 521.9L529.5 522.0M571.5 539.2L570.8 540.2M571.5 539.2L574.0 541.4M570.8 540.2L571.5 543.1M574.0 541.4L571.5 543.1M576.0 541.6L574.0 541.4M573.4 538.2L571.7 538.8M571.7 538.8L571.5 539.2M567.3 550.4L567.4 546.6M564.2 548.6L565.5 546.0M567.4 546.6L565.5 546.0M570.3 536.8L570.0 536.7M570.3 536.8L571.1 535.3M570.0 536.7L568.2 533.2M571.1 535.3L571.0 532.6M568.2 533.2L571.0 532.6M571.0 532.6L571.0 532.6M571.7 538.8L570.3 536.8M567.5 537.0L570.0 536.7M567.5 537.0L566.9 538.7M568.7 540.4L566.9 538.7M568.7 540.4L570.8 540.2M574.2 535.4L571.1 535.3M573.5 531.5L571.0 532.6M568.8 529.3L571.0 532.6M559.3 546.3L558.1 546.3M559.3 546.3L559.7 546.5M559.7 546.5L560.5 548.2M557.1 548.5L559.6 550.3M557.1 548.5L558.1 546.3M559.6 550.3L560.5 548.2M561.7 548.5L560.5 548.2M565.2 545.3L565.5 546.0M565.2 545.3L565.0 545.2M565.0 545.2L561.3 545.5M561.3 545.5L559.7 546.5M556.1 549.9L557.1 548.5M554.2 546.6L556.8 545.7M556.8 545.7L558.1 546.3M553.2 543.5L553.9 542.8M556.8 545.7L556.3 542.8M553.9 542.8L556.3 542.8M520.9 523.4L523.3 522.1M520.9 523.4L520.7 523.3M520.7 523.3L519.4 520.9M519.4 520.9L522.7 520.4M523.3 522.1L523.3 520.9M522.7 520.4L523.3 520.9M522.1 526.6L525.3 525.5M521.8 526.5L520.9 523.4M525.3 525.5L525.4 523.9M525.4 523.9L523.3 522.1M518.4 520.2L519.4 520.9M522.2 519.1L522.7 520.4M525.6 519.3L523.3 520.9M525.4 523.9L526.1 523.2M524.2 538.8L526.3 537.9M524.0 540.7L528.0 541.5M528.0 541.5L528.1 538.9M528.1 538.9L526.3 537.9M523.0 535.1L526.6 535.5M526.3 537.9L526.6 535.5M538.2 543.6L535.9 543.8M536.1 545.8L535.7 544.2M535.9 543.8L535.7 544.2M536.3 539.8L535.9 541.0M535.9 543.8L535.9 541.0M533.6 548.5L532.7 544.2M535.7 544.2L532.7 544.2M536.0 538.7L532.9 538.1M532.4 540.4L532.8 541.2M535.9 541.0L532.8 541.2M525.5 546.9L526.3 546.5M528.6 549.4L528.0 547.0M526.3 546.5L528.0 547.0M524.5 543.0L526.9 544.0M526.3 546.5L526.9 544.0M528.0 541.5L528.5 542.6M526.9 544.0L528.5 542.6M544.1 537.9L545.3 536.0M543.7 534.3L543.8 534.3M545.3 536.0L543.8 534.3M541.8 530.7L543.1 529.1M541.8 530.7L541.4 533.1M543.4 529.3L543.1 529.1M543.4 529.3L544.8 532.9M544.8 532.9L543.8 534.3M542.0 527.0L542.6 523.4M542.0 527.0L542.7 527.6M542.7 527.6L545.3 526.3M545.3 526.3L544.5 523.4M544.5 523.4L543.5 523.0M543.5 523.0L542.7 523.2M542.7 523.2L542.6 523.4M552.8 519.4L550.7 520.8M552.8 519.4L552.9 518.4M550.7 520.8L549.0 520.2M549.5 517.8L549.1 518.5M549.1 518.5L549.0 520.2M548.0 515.9L545.7 517.0M545.7 517.0L545.9 518.1M549.1 518.5L545.9 518.1M542.2 519.3L545.3 520.0M542.2 519.3L541.7 518.6M545.7 517.0L543.8 515.5M541.7 518.6L543.8 515.5M545.9 518.1L545.3 520.0M542.2 519.3L541.8 521.2M541.8 521.2L542.7 523.2M543.5 523.0L545.4 520.1M545.3 520.0L545.4 520.1M552.8 519.4L554.3 521.5M554.3 521.5L552.1 523.9M550.7 520.8L551.8 524.0M552.1 523.9L551.8 524.0M543.4 529.3L547.2 529.9M543.1 529.1L542.7 527.6M545.3 526.3L546.8 526.0M546.8 526.0L547.2 529.9M548.1 531.1L550.7 533.0M548.1 531.1L548.1 530.5M550.7 533.0L550.9 533.0M552.8 531.3L550.9 533.0M552.8 531.3L552.0 529.5M552.0 529.5L549.6 529.2M549.6 529.2L548.1 530.5M548.1 531.1L547.2 532.5M547.2 532.5L544.8 532.9M548.1 530.5L547.2 529.9M562.9 527.8L563.8 527.7M560.1 525.7L560.8 524.4M563.8 527.7L564.3 526.0M564.3 526.0L562.0 524.1M560.8 524.4L562.0 524.1M563.6 521.4L563.0 522.0M565.3 525.7L564.3 526.0M563.0 522.0L562.0 524.1M540.6 514.6L543.7 515.1M540.6 514.6L539.9 512.9M539.9 512.9L540.3 512.5M540.3 512.5L543.4 512.6M543.7 515.1L544.3 513.6M544.3 513.6L543.4 512.6M538.6 512.6L536.8 515.2M538.6 512.6L539.9 512.9M539.0 516.7L536.8 515.2M539.0 516.7L540.6 514.6M540.9 510.8L540.3 512.5M538.6 512.6L537.6 511.1M542.5 510.2L543.4 512.6M546.1 512.6L544.3 513.6M543.8 515.5L543.7 515.1M528.7 489.4L529.0 491.0M528.7 489.4L529.3 487.6M529.0 491.0L531.9 490.7M529.3 487.6L532.1 488.1M529.3 487.6L529.3 487.6M532.1 488.1L532.2 490.2M532.2 490.2L531.9 490.7M526.9 489.8L528.7 489.4M528.7 491.8L529.0 491.0M529.2 487.5L529.3 487.6M532.0 492.0L531.9 490.7M532.4 487.9L532.1 488.1M530.6 485.2L529.3 487.6M534.8 491.0L532.2 490.2M532.4 516.3L531.3 516.4M532.4 516.3L534.7 514.2M531.3 516.4L531.0 513.3M531.0 513.3L533.8 513.3M533.8 513.3L534.5 513.7M534.5 513.7L534.7 514.2M536.0 515.3L534.9 518.5M536.0 515.3L534.7 514.2M534.9 518.5L532.4 516.3M529.9 512.4L531.0 513.3M529.6 517.5L530.3 517.4M530.3 517.4L531.3 516.4M533.5 510.5L533.8 513.3M536.6 511.1L534.5 513.7M536.8 515.2L536.0 515.3M568.7 546.9L568.3 546.6M568.7 546.9L572.8 545.8M568.3 546.6L569.8 544.0M569.8 544.0L571.5 543.5M571.5 543.5L572.3 544.4M572.3 544.4L572.8 545.8M569.5 548.2L568.7 546.9M567.4 546.6L568.3 546.6M573.4 546.5L572.8 545.8M567.5 542.7L569.8 544.0M567.5 542.7L565.2 545.3M567.5 542.4L568.7 540.4M567.5 542.4L567.5 542.7M571.5 543.1L571.5 543.5M575.8 542.2L572.3 544.4M567.5 537.0L566.4 535.5M566.9 538.7L566.3 539.0M566.3 539.0L563.7 536.9M563.7 536.9L563.7 536.9M566.4 535.5L563.7 536.9M562.5 532.3L564.2 530.2M562.5 532.3L561.1 531.1M564.2 530.2L560.8 529.4M561.1 531.1L560.8 529.4M560.6 529.0L560.8 529.4M563.8 527.7L564.7 529.8M564.7 529.8L564.2 530.2M558.5 532.1L557.9 531.5M558.5 532.1L561.1 531.1M558.9 528.2L558.3 528.8M557.9 531.5L558.3 528.8M559.5 542.4L556.6 542.3M559.5 542.4L559.7 542.1M559.7 542.1L558.7 539.7M556.6 542.3L556.3 539.2M558.7 539.7L556.3 539.2M559.3 546.3L559.5 542.4M556.3 542.8L556.6 542.3M562.6 538.7L561.8 539.0M562.6 538.7L564.8 540.5M561.8 539.0L561.2 541.8M564.8 540.6L564.8 540.5M564.8 540.6L563.6 542.5M563.6 542.5L561.9 542.3M561.9 542.3L561.2 541.8M566.3 539.0L564.8 540.5M563.7 536.9L562.6 538.7M560.5 538.3L561.8 539.0M560.5 538.3L558.7 539.7M559.7 542.1L561.2 541.8M567.5 542.4L564.8 540.6M565.0 545.2L563.6 542.5M561.3 545.5L561.9 542.3M550.5 541.4L550.7 540.7M550.7 540.7L552.2 540.3M553.9 542.8L553.8 541.9M552.2 540.3L553.8 541.9M556.3 539.2L555.7 538.6M553.8 541.9L555.7 538.6M560.5 538.3L559.8 536.7M563.7 536.9L561.8 534.4M561.8 534.4L560.8 534.7M559.8 536.7L560.8 534.7M558.5 532.1L558.8 533.4M561.8 534.4L562.6 533.4M562.6 533.4L562.5 532.3M558.8 533.4L560.8 534.7M554.9 533.2L553.0 535.0M554.9 533.2L556.6 535.0M556.6 535.0L556.6 536.9M553.0 535.0L553.0 535.3M553.0 535.3L553.9 537.6M556.6 536.9L555.6 538.2M555.6 538.2L554.4 538.0M553.9 537.6L554.4 538.0M552.8 531.3L554.7 531.9M550.9 533.0L553.0 535.0M554.7 531.9L554.9 532.0M554.9 532.0L554.9 533.2M557.9 531.5L554.9 532.0M558.8 533.4L556.6 535.0M559.8 536.7L556.6 536.9M555.7 538.6L555.6 538.2M552.2 540.3L554.4 538.0M547.6 535.3L546.9 536.0M547.6 535.3L549.5 535.3M546.9 536.0L547.7 538.7M549.5 535.3L550.1 536.0M550.1 536.0L550.4 537.8M547.7 538.7L549.8 538.8M549.8 538.8L550.4 537.8M545.3 536.0L546.9 536.0M547.2 532.5L547.6 535.3M550.7 533.0L549.5 535.3M547.4 539.1L547.7 538.7M553.0 535.3L550.1 536.0M553.9 537.6L550.4 537.8M550.7 540.7L549.8 538.8M523.5 532.6L525.4 531.7M523.3 529.0L525.5 530.2M525.4 531.7L525.6 530.7M525.5 530.2L525.6 530.7M525.3 525.5L526.4 526.6M525.5 530.2L526.4 526.6M529.7 523.7L529.3 522.3M529.7 523.7L528.3 526.8M526.4 526.6L528.3 526.8M531.7 537.0L531.7 536.0M536.5 537.4L533.5 534.8M531.7 536.0L533.5 534.8M533.5 534.8L533.5 534.8M530.1 538.1L529.6 538.1M529.6 538.1L527.5 534.6M531.7 536.0L530.5 534.5M530.5 534.5L527.5 534.6M526.6 535.5L527.4 534.6M525.4 531.7L527.0 533.3M527.0 533.3L527.4 534.6M528.1 538.9L529.6 538.1M527.4 534.6L527.5 534.6M530.6 546.8L529.7 546.5M530.6 546.8L532.5 544.2M529.7 546.5L528.9 542.7M531.9 543.3L532.5 544.2M531.9 543.3L529.5 542.6M529.5 542.6L528.9 542.7M531.4 548.2L530.6 546.8M528.0 547.0L529.7 546.5M532.7 544.2L532.5 544.2M528.5 542.6L528.9 542.7M532.8 541.2L531.9 543.3M530.7 540.4L529.5 542.6M546.8 526.0L547.0 525.9M549.6 529.2L549.6 527.8M549.6 527.8L547.0 525.9M552.4 528.9L552.9 527.6M552.4 528.9L555.2 529.6M552.9 527.6L554.7 527.4M554.7 527.4L555.6 528.9M555.2 529.6L555.6 528.9M552.0 529.5L552.4 528.9M551.3 525.4L549.6 527.8M551.3 525.4L552.9 527.6M554.7 531.9L555.2 529.6M552.1 523.9L555.0 525.2M551.8 524.0L551.3 524.5M555.0 525.2L555.4 526.0M555.4 526.0L554.7 527.4M551.3 524.5L551.3 525.4M558.3 528.8L555.6 528.9M558.9 527.2L557.3 526.0M557.3 526.0L555.4 526.0M559.8 523.4L560.0 520.9M559.8 523.4L557.6 523.1M557.6 523.1L556.6 522.3M559.8 520.6L560.0 520.9M559.8 520.6L557.1 520.1M557.1 520.1L556.3 521.5M556.3 521.5L556.6 522.3M560.8 524.4L559.8 523.4M563.0 522.0L560.0 520.9M557.3 526.0L557.6 523.1M555.0 525.2L556.6 522.3M561.1 518.9L559.8 520.6M557.0 519.2L557.1 520.1M554.3 521.5L556.3 521.5M534.9 518.5L534.9 519.2M530.3 517.4L532.4 519.4M534.9 519.2L532.4 519.4M529.5 521.9L531.0 521.6M531.0 521.6L532.4 519.4M566.4 534.8L564.8 533.6M566.4 534.8L568.1 533.2M564.8 533.6L566.3 530.3M568.1 533.2L566.7 530.3M566.7 530.3L566.3 530.3M566.4 535.5L566.4 534.8M562.6 533.4L564.8 533.6M568.2 533.2L568.1 533.2M564.7 529.8L566.3 530.3M567.9 529.1L566.7 530.3M537.4 535.0L535.8 533.4M533.5 534.8L535.6 533.3M535.8 533.4L535.6 533.3M539.8 534.1L538.4 531.4M535.8 533.4L538.4 531.4M541.8 530.7L538.4 530.5M538.4 531.4L538.4 530.5M540.8 526.8L542.0 527.0M540.8 526.8L538.3 530.4M538.3 530.4L538.4 530.5M530.5 534.5L530.7 533.3M527.0 533.3L529.0 531.9M529.0 531.9L530.7 533.3M525.6 530.7L529.3 529.8M529.0 531.9L529.3 529.8M547.3 525.3L549.3 524.1M547.3 525.3L546.1 523.3M549.3 524.1L547.8 521.1M546.1 523.3L547.0 521.1M547.8 521.1L547.0 521.1M551.3 524.5L549.3 524.1M547.0 525.9L547.3 525.3M544.5 523.4L546.1 523.3M549.0 520.2L547.8 521.1M545.4 520.1L547.0 521.1M541.8 521.2L538.8 521.9M542.6 523.4L538.9 523.1M538.8 521.9L538.9 523.1M540.8 526.8L538.9 526.0M538.9 526.0L538.7 523.5M538.9 523.1L538.7 523.5M535.0 519.3L535.5 520.3M535.0 519.3L539.1 517.1M535.5 520.3L538.2 520.8M538.2 520.8L540.0 518.2M540.0 518.2L539.1 517.1M539.0 516.7L539.1 517.1M534.9 519.2L535.0 519.3M541.7 518.6L540.0 518.2M538.8 521.9L538.2 520.8M531.0 521.6L532.4 522.3M535.5 520.3L535.1 521.3M532.4 522.3L535.1 521.3M538.7 523.5L535.3 523.4M535.1 521.3L535.3 523.4M535.6 533.3L535.0 531.9M538.3 530.4L536.2 529.3M535.0 531.9L536.2 529.3M533.5 534.8L532.2 531.4M535.0 531.9L532.2 531.4M530.7 533.3L532.1 531.4M532.2 531.4L532.1 531.4M538.9 526.0L536.9 526.8M535.3 523.4L534.9 524.5M534.9 524.5L536.9 526.8M536.2 529.3L536.1 528.9M536.1 528.9L536.8 526.9M536.9 526.8L536.8 526.9M531.4 529.3L533.1 528.5M531.4 529.3L530.3 528.8M530.1 528.3L530.3 528.8M530.1 528.3L532.0 525.0M533.1 528.5L533.4 526.6M533.4 526.6L533.2 524.9M532.0 525.0L532.9 524.8M532.9 524.8L533.2 524.9M536.1 528.9L533.1 528.5M532.1 531.4L531.4 529.3M529.3 529.8L530.3 528.8M528.3 526.8L530.1 528.3M529.7 523.7L532.0 525.0M536.8 526.9L533.4 526.6M534.9 524.5L533.2 524.9M532.4 522.3L532.9 524.8" stroke="#fff" stroke-width="1.7" fill="none" stroke-linecap="round" clip-path="url(#m_gb2)"/>
</g>
<g clip-path="url(#b3)">
<clipPath id="m_gb3"><path d="M540.3 481.58 L555.42 481.21 L553.15 484.61 L547.86 486.88 L552.4 488.39 L562.98 488.39 L564.49 490.66 L559.96 495.95 L556.18 498.22 L558.44 500.86 L552.4 501.24 L562.98 502 L566 505.02 L568.27 509.56 L573.56 512.58 L576.36 514.85 L576.36 540.55 L568.27 540.93 L562.98 541.69 L555.42 541.31 L550.88 544.71 L546.35 543.95 L539.54 546.6 L535.01 545.84 L540.3 542.82 L544.08 539.04 L551.64 537.53 L555.42 536.77 L557.69 534.5 L553.91 536.02 L547.86 534.5 L539.54 533.75 L538.79 532.24 L546.35 529.21 L547.1 524.68 L543.32 525.05 L545.59 522.41 L544.08 520.9 L554.66 521.65 L555.42 517.12 L550.88 512.58 L552.4 509.56 L544.84 510.69 L539.54 510.31 L541.81 506.53 L541.06 502 L535.76 506.15 L535.01 501.24 L536.52 497.46 L531.23 495.95 L535.76 491.41 L534.25 487.63 L538.03 484.61Z"/><path d="M522.16 492.92 L524.42 492.92 L531.23 483.1 L530.47 482.34 L525.18 485.36Z"/><path d="M527.45 490.66 L532.74 492.92 L534.25 491.41 L531.23 488.39Z"/><path d="M530.47 498.97 L535.01 498.22 L532.74 496.33Z"/><path d="M529.72 504.26 L532.74 503.89 L531.98 501.62 L528.96 502.37Z"/></clipPath>
<path d="M522.6 475.2L523.7 476.7M523.7 476.7L517.5 482.2M524.8 550.2L518.1 551.2M527.1 550.6L525.3 549.8M524.8 550.2L525.3 549.8M528.7 550.4L531.5 545.2M528.7 550.4L532.3 553.0M532.3 553.0L534.7 552.0M534.7 552.0L536.9 546.6M536.9 546.6L531.5 545.2M527.1 550.6L528.7 550.4M538.4 546.0L541.3 547.3M538.4 546.0L536.9 546.6M541.3 547.3L539.9 554.2M539.9 554.2L534.7 552.0M523.7 476.7L524.3 477.0M517.5 482.2L518.3 483.0M518.3 483.0L523.9 483.9M523.9 483.9L524.3 477.0M588.1 503.4L585.9 509.8M518.1 551.2L518.5 545.8M515.6 544.6L518.5 545.8M537.8 538.9L534.3 539.4M537.8 538.9L537.6 535.7M537.6 535.7L533.9 533.1M533.9 533.1L531.8 538.2M534.3 539.4L531.8 538.2M538.1 539.1L538.4 546.0M538.1 539.1L537.8 538.9M531.5 545.2L531.4 545.0M531.4 545.0L534.3 539.4M583.9 540.9L584.6 536.8M585.9 509.8L583.2 510.7M583.9 516.1L583.2 510.7M538.5 524.7L539.8 524.6M538.5 524.7L538.1 530.1M539.8 524.6L541.9 526.5M538.1 530.1L539.9 531.9M539.9 531.9L539.9 531.9M539.9 531.9L541.6 529.6M541.9 526.5L541.6 529.6M515.6 502.6L518.1 503.6M519.9 506.0L518.7 504.1M519.9 506.0L519.1 511.6M518.1 503.6L518.7 504.1M524.3 477.0L530.2 477.1M538.5 524.7L534.9 523.5M539.8 524.6L542.2 521.3M538.2 518.5L542.2 521.3M538.2 518.5L534.8 520.3M534.9 523.5L534.8 520.3M542.3 521.3L544.5 514.2M542.3 521.3L547.7 523.3M547.7 523.3L549.6 516.5M544.5 514.2L549.5 515.9M549.6 516.5L549.5 515.9M588.1 503.4L584.8 502.3M584.8 502.3L585.9 497.0M583.2 510.7L578.8 508.9M578.8 508.9L579.9 503.6M579.9 503.6L582.3 502.2M584.8 502.3L582.3 502.2M585.9 497.0L582.2 495.7M583.1 494.0L582.2 495.7M582.3 502.2L581.6 496.1M582.2 495.7L581.6 496.1M579.9 503.6L576.5 501.2M576.5 501.2L576.4 500.4M576.4 500.4L578.1 495.1M581.6 496.1L578.1 495.1M576.4 477.6L579.2 476.3M576.4 477.6L576.2 477.5M570.4 470.7L576.2 477.5M576.4 500.4L572.7 495.8M576.6 493.4L578.1 495.1M576.6 493.4L573.8 493.9M572.7 495.8L573.8 493.9M552.0 546.5L551.0 551.8M552.0 546.5L544.8 546.0M544.8 546.0L544.0 546.9M550.6 552.2L551.0 551.8M550.6 552.2L544.3 547.4M544.3 547.4L544.0 546.9M541.3 547.3L544.0 546.9M525.3 549.8L523.4 546.7M518.5 545.8L519.7 545.6M523.4 546.7L519.7 545.6M531.4 545.0L526.9 541.6M523.4 546.7L526.9 541.6M586.9 545.5L582.8 544.2M586.9 545.5L584.8 549.8M582.8 544.2L580.6 549.2M584.8 549.8L580.6 549.2M583.9 540.9L582.4 543.3M582.4 543.3L582.8 544.2M539.9 531.9L544.7 534.0M541.6 529.6L548.6 529.8M548.6 529.8L545.5 533.5M544.7 534.0L545.5 533.5M538.1 539.1L543.3 538.9M539.9 531.9L537.6 535.7M544.7 534.0L543.3 538.9M544.8 546.0L545.8 541.0M543.3 538.9L545.8 541.0M557.9 478.9L555.9 472.6M557.9 478.9L554.1 483.5M555.9 472.6L553.1 483.0M554.1 483.5L553.1 483.0M519.9 506.0L526.8 509.2M518.7 504.1L526.0 502.7M526.0 502.7L526.8 509.2M578.6 509.0L578.8 508.9M578.6 509.0L576.4 509.3M572.5 502.0L572.7 508.7M572.5 502.0L576.5 501.2M576.4 509.3L572.7 508.7M567.7 508.3L565.3 512.0M567.7 508.3L572.2 508.8M572.2 508.8L571.0 514.1M571.0 514.1L566.7 513.6M566.7 513.6L565.3 512.0M515.6 502.6L517.6 496.4M517.6 496.4L514.5 491.1M518.3 483.0L518.2 488.9M514.5 491.1L518.2 488.9M523.9 483.9L524.6 484.6M522.2 489.9L518.2 488.9M522.2 489.9L524.7 485.6M524.6 484.6L524.7 485.6M518.1 503.6L523.9 498.6M526.0 502.7L527.2 500.9M523.9 498.6L527.2 500.9M542.6 506.6L538.7 506.0M542.6 506.6L544.6 511.2M538.7 506.0L540.7 513.7M544.6 511.2L544.2 513.9M540.7 513.7L544.2 513.9M544.5 514.2L544.2 513.9M547.9 507.8L552.2 511.8M547.9 507.8L544.6 511.2M552.2 511.8L549.8 515.6M549.8 515.6L549.5 515.9M540.2 513.9L538.2 518.5M540.2 513.9L540.7 513.7M542.2 521.3L542.3 521.3M552.3 482.9L549.0 485.5M552.3 482.9L548.8 478.7M549.0 485.5L545.3 483.2M545.3 483.2L548.8 478.7M555.9 470.2L548.6 478.3M545.4 476.9L548.6 478.3M555.9 470.2L555.9 472.6M552.3 482.9L553.1 483.0M548.6 478.3L548.8 478.7M531.3 505.9L528.8 508.9M531.3 505.9L527.2 500.9M528.8 508.9L527.6 509.6M526.8 509.2L527.0 509.4M527.2 500.9L527.2 500.9M527.0 509.4L527.6 509.6M555.5 508.4L555.0 509.6M555.5 508.4L560.7 509.7M555.0 509.6L558.6 515.6M560.7 509.7L563.1 512.5M563.1 512.5L561.4 515.1M561.4 515.1L558.6 515.6M555.0 509.6L552.2 511.8M549.8 515.6L557.7 516.8M558.6 515.6L557.7 516.8M554.8 526.0L555.8 522.3M554.8 526.0L548.7 528.3M555.8 522.3L548.0 524.0M548.0 524.0L547.9 526.2M547.9 526.2L548.7 528.3M547.7 523.3L548.0 524.0M549.6 516.5L555.9 522.3M555.9 522.3L555.8 522.3M541.9 526.5L547.9 526.2M548.8 529.7L548.6 529.8M548.8 529.7L548.7 528.3M578.4 488.9L578.8 488.7M578.4 488.9L573.8 486.7M578.8 488.7L578.8 483.9M573.8 486.7L574.9 482.6M578.8 483.9L575.8 481.9M574.9 482.6L575.8 481.9M583.1 494.0L583.9 488.9M576.6 493.4L578.4 488.9M583.9 488.9L578.8 488.7M582.7 481.0L585.3 488.2M582.7 481.0L583.0 480.0M583.2 479.9L583.0 480.0M583.9 488.9L585.3 488.2M578.8 483.9L582.7 481.0M576.4 477.6L575.8 481.9M579.2 476.3L583.0 480.0M587.5 476.0L583.2 479.9M572.5 502.0L569.2 500.1M572.7 495.8L568.9 499.1M569.2 500.1L568.9 499.1M573.8 493.9L570.4 490.8M566.2 497.0L568.9 499.1M566.2 497.0L566.2 496.3M566.2 496.3L570.4 490.8M573.8 486.7L569.5 487.8M569.5 487.8L570.4 490.8M531.8 538.2L531.2 538.1M526.9 541.6L526.7 540.2M531.2 538.1L526.7 540.2M538.1 530.1L531.6 529.6M534.9 523.5L532.0 526.0M532.0 526.0L531.6 529.6M533.9 533.1L531.4 529.9M531.6 529.6L531.4 529.9M531.2 538.1L529.0 531.3M531.4 529.9L529.0 531.3M519.7 545.6L520.7 542.6M526.7 540.2L525.3 538.9M520.7 542.6L525.3 538.9M556.7 544.1L562.5 548.6M556.7 544.1L558.6 542.1M562.5 548.6L564.4 546.1M564.4 546.1L561.2 542.1M558.6 542.1L561.2 542.1M562.9 530.2L560.6 537.1M562.9 530.2L563.3 530.2M565.9 537.4L567.0 535.1M565.9 537.4L562.3 538.8M563.3 530.2L567.0 535.1M562.3 538.8L560.6 537.1M562.9 530.2L560.6 529.9M560.6 529.9L557.9 530.7M557.9 530.7L557.5 536.6M560.6 537.1L557.5 536.6M563.3 530.2L563.6 529.9M567.0 535.1L569.6 534.8M569.6 534.8L573.2 528.7M573.2 528.7L572.9 528.4M572.9 528.4L563.6 529.9M586.9 529.2L584.1 523.9M583.9 516.1L583.8 517.3M584.1 523.9L582.3 522.7M583.8 517.3L580.8 520.4M582.3 522.7L580.8 520.4M586.9 529.2L581.5 531.0M582.3 522.7L578.4 529.6M581.5 531.0L578.4 529.6M584.6 536.8L581.8 536.0M581.5 531.0L581.8 536.0M574.8 529.3L576.2 530.1M574.8 529.3L580.3 520.3M580.3 520.3L580.8 520.4M576.2 530.1L578.4 529.6M579.5 549.9L577.8 549.3M577.8 549.3L576.3 550.4M580.6 549.2L579.5 549.9M570.2 553.3L570.7 551.6M570.7 551.6L576.3 550.4M551.6 532.0L550.7 539.1M551.6 532.0L552.5 532.0M552.5 532.0L556.4 537.6M550.7 539.1L550.8 539.6M556.0 538.2L556.4 537.6M556.0 538.2L551.0 539.8M551.0 539.8L550.8 539.6M548.8 529.7L551.6 532.0M545.5 533.5L550.7 539.1M557.8 530.6L552.5 532.0M557.8 530.6L554.8 526.0M557.8 530.6L557.9 530.7M557.5 536.6L556.4 537.6M545.8 541.0L550.8 539.6M558.6 542.1L556.0 538.2M561.2 542.1L562.3 538.8M553.2 545.2L554.5 545.4M553.2 545.2L551.0 539.8M554.5 545.4L556.7 544.1M553.2 545.2L552.0 546.5M545.3 483.2L541.0 482.8M545.4 476.9L540.7 479.0M541.0 482.8L540.7 479.0M539.0 477.7L540.7 479.0M523.0 491.4L519.8 495.7M523.0 491.4L526.4 493.2M526.4 493.2L523.7 497.7M519.8 495.7L523.7 497.7M522.2 489.9L523.0 491.4M517.6 496.4L519.8 495.7M524.7 485.6L529.1 488.4M529.1 493.1L526.4 493.2M529.1 493.1L529.6 492.3M529.6 492.3L529.1 488.4M529.1 493.1L530.7 498.2M530.7 498.2L527.2 500.9M523.9 498.6L523.7 497.7M547.9 507.8L548.7 503.6M542.6 506.6L546.4 503.0M546.4 503.0L548.7 503.6M555.5 508.4L555.0 505.0M555.0 505.0L551.7 502.8M548.7 503.6L551.7 502.8M549.0 485.5L547.9 487.8M540.5 484.3L541.0 482.8M540.5 484.3L542.1 488.1M542.1 488.1L547.9 487.8M555.6 484.9L556.1 486.7M555.6 484.9L554.1 483.5M553.4 489.8L556.1 486.7M553.4 489.8L548.4 489.0M548.4 489.0L547.9 487.8M553.0 493.1L553.4 489.8M553.0 493.1L548.3 492.3M548.4 489.0L548.3 492.3M553.0 493.1L554.6 495.5M554.6 495.5L552.0 498.6M547.7 495.8L552.0 498.6M547.7 495.8L548.2 492.5M548.3 492.3L548.2 492.5M519.1 511.6L519.6 512.1M527.0 509.4L521.8 513.0M519.6 512.1L521.8 513.0M560.6 529.9L558.5 522.8M555.9 522.3L557.1 521.9M558.5 522.8L557.1 521.9M557.7 516.8L557.4 521.1M557.1 521.9L557.4 521.1M554.6 495.5L556.3 495.3M556.1 486.7L559.5 489.9M556.3 495.3L559.5 489.9M566.2 497.0L562.3 497.9M566.2 496.3L565.6 494.6M562.3 497.9L561.1 491.2M565.6 494.6L561.1 491.2M574.9 482.6L568.7 481.2M569.5 487.8L568.1 486.9M568.1 486.9L568.7 481.2M576.2 477.5L568.1 478.9M568.7 481.2L568.1 478.9M570.4 470.7L567.2 477.9M564.4 477.7L567.2 477.9M567.2 477.9L568.1 478.9M564.6 552.2L562.1 549.5M562.1 549.5L559.0 551.2M559.0 551.2L558.2 552.7M570.2 553.3L564.6 552.2M554.5 545.4L559.0 551.2M562.5 548.6L562.1 549.5M551.0 551.8L558.2 552.7M525.0 534.9L524.1 536.9M525.0 534.9L520.3 529.1M524.1 536.9L519.4 536.8M516.5 534.4L520.3 529.1M516.5 534.4L518.7 536.6M518.7 536.6L519.4 536.8M529.0 531.3L529.0 531.3M529.0 531.3L525.0 534.9M525.3 538.9L524.1 536.9M520.4 528.8L520.3 529.1M520.4 528.8L524.0 527.8M524.0 527.8L529.0 531.3M520.7 542.6L519.4 536.8M515.6 544.6L518.7 536.6M578.6 509.0L578.8 519.0M580.3 520.3L579.5 519.9M578.8 519.0L579.5 519.9M576.4 509.3L574.0 516.3M578.8 519.0L574.0 516.3M572.7 508.7L572.2 508.8M571.0 514.1L572.1 516.4M574.0 516.3L572.1 516.4M579.5 519.9L574.2 522.7M572.1 516.4L571.6 517.0M571.6 517.0L574.2 522.7M573.2 528.7L574.8 529.3M572.9 528.4L572.0 524.7M572.0 524.7L574.2 522.7M578.4 537.2L576.3 531.9M578.4 537.2L576.1 540.7M576.3 531.9L571.9 536.6M571.9 536.6L574.9 540.9M576.1 540.7L575.3 541.0M575.3 541.0L574.9 540.9M581.8 536.0L578.4 537.2M576.2 530.1L576.3 531.9M582.4 543.3L576.1 540.7M569.6 534.8L571.9 536.6M568.1 542.2L565.9 537.4M568.1 542.2L574.9 540.9M575.1 544.8L577.8 549.3M575.1 544.8L575.3 541.0M572.3 546.9L570.7 551.5M572.3 546.9L566.2 545.1M570.7 551.5L565.1 545.9M566.2 545.1L565.1 545.9M575.1 544.8L572.3 546.9M570.7 551.6L570.7 551.5M568.1 542.2L566.2 545.1M564.4 546.1L565.1 545.9M527.4 483.1L531.3 485.5M527.4 483.1L530.6 477.6M530.6 477.6L532.3 478.6M532.3 478.6L533.0 483.3M533.0 483.3L532.1 485.2M531.3 485.5L532.1 485.2M524.6 484.6L527.4 483.1M529.1 488.4L531.3 485.5M530.2 477.1L530.6 477.6M539.0 477.7L532.3 478.6M540.5 484.3L538.9 484.7M538.9 484.7L533.0 483.3M538.9 484.7L535.0 488.6M535.0 488.6L532.1 485.2M542.1 488.1L541.1 491.7M548.2 492.5L541.2 491.9M541.1 491.7L541.2 491.9M535.0 488.6L535.0 490.0M541.1 491.7L535.0 490.0M530.7 498.2L533.1 499.1M529.6 492.3L533.6 491.4M533.1 499.1L536.7 495.8M536.7 495.8L533.6 491.4M535.0 490.0L533.6 491.4M547.7 495.8L544.5 497.4M546.4 503.0L545.1 501.5M551.7 502.8L552.0 498.6M544.5 497.4L545.1 501.5M541.2 491.9L540.7 495.1M544.5 497.4L540.7 495.1M536.7 495.8L540.5 495.3M540.7 495.1L540.5 495.3M524.3 518.0L526.9 523.0M524.3 518.0L529.4 514.8M529.4 514.8L531.6 515.9M527.4 523.1L526.9 523.0M527.4 523.1L532.0 517.0M531.6 515.9L532.0 517.0M527.6 509.6L529.4 514.8M521.8 513.0L522.9 517.8M522.9 517.8L524.3 518.0M535.8 512.9L531.6 515.9M535.8 512.9L535.3 510.4M535.3 510.4L528.8 508.9M524.0 527.8L525.2 524.4M532.0 526.0L527.4 523.1M525.2 524.4L526.9 523.0M534.8 520.3L532.0 517.0M535.8 512.9L540.2 513.9M518.0 518.0L521.7 518.5M521.7 518.5L520.9 522.8M520.9 522.8L518.0 525.4M519.6 512.1L518.0 518.0M522.9 517.8L521.7 518.5M525.2 524.4L520.9 522.8M520.4 528.8L518.0 525.4M565.2 524.6L568.7 522.9M565.2 524.6L563.1 522.7M563.1 522.7L563.2 518.7M568.7 522.9L568.4 519.2M563.3 518.3L563.2 518.7M563.3 518.3L567.3 518.3M567.3 518.3L568.4 519.2M563.6 529.9L565.2 524.6M572.0 524.7L568.7 522.9M558.5 522.8L563.1 522.7M557.4 521.1L563.2 518.7M571.6 517.0L568.4 519.2M561.4 515.1L563.3 518.3M563.1 512.5L565.3 512.0M566.7 513.6L567.3 518.3M560.5 498.7L561.6 498.3M560.5 498.7L559.0 502.6M561.6 498.3L566.3 504.9M559.0 502.6L563.3 505.3M563.3 505.3L566.1 505.4M566.1 505.4L566.3 504.9M562.3 497.9L561.6 498.3M556.3 495.3L560.5 498.7M559.5 489.9L560.4 490.0M561.1 491.2L560.4 490.0M555.0 505.0L559.0 502.6M569.2 500.1L566.3 504.9M560.7 509.7L563.3 505.3M567.7 508.3L566.1 505.4M565.4 487.7L564.9 487.7M565.4 487.7L566.2 487.4M566.2 487.4L562.3 479.8M564.9 487.7L560.7 482.7M560.7 482.7L562.2 479.9M562.2 479.9L562.3 479.8M565.6 494.6L565.4 487.7M560.4 490.0L564.9 487.7M568.1 486.9L566.2 487.4M564.4 477.7L562.3 479.8M555.6 484.9L560.7 482.7M557.9 478.9L562.2 479.9M540.6 501.8L539.6 499.3M540.6 501.8L537.9 505.5M539.6 499.3L534.3 501.3M537.9 505.5L536.7 505.5M536.7 505.5L534.9 504.2M534.9 504.2L534.3 501.3M540.5 495.3L539.6 499.3M545.1 501.5L540.6 501.8M538.7 506.0L537.9 505.5M533.1 499.1L534.3 501.3M535.3 510.4L536.7 505.5M531.3 505.9L534.9 504.2" stroke="#fff" stroke-width="1.2" fill="none" stroke-linecap="round" clip-path="url(#m_gb3)"/>
</g>
<g clip-path="url(#b4)">
<clipPath id="m_gb4"><path d="M540.3 481.58 L555.42 481.21 L553.15 484.61 L547.86 486.88 L552.4 488.39 L562.98 488.39 L564.49 490.66 L559.96 495.95 L556.18 498.22 L558.44 500.86 L552.4 501.24 L562.98 502 L566 505.02 L568.27 509.56 L573.56 512.58 L576.36 514.85 L576.36 540.55 L568.27 540.93 L562.98 541.69 L555.42 541.31 L550.88 544.71 L546.35 543.95 L539.54 546.6 L535.01 545.84 L540.3 542.82 L544.08 539.04 L551.64 537.53 L555.42 536.77 L557.69 534.5 L553.91 536.02 L547.86 534.5 L539.54 533.75 L538.79 532.24 L546.35 529.21 L547.1 524.68 L543.32 525.05 L545.59 522.41 L544.08 520.9 L554.66 521.65 L555.42 517.12 L550.88 512.58 L552.4 509.56 L544.84 510.69 L539.54 510.31 L541.81 506.53 L541.06 502 L535.76 506.15 L535.01 501.24 L536.52 497.46 L531.23 495.95 L535.76 491.41 L534.25 487.63 L538.03 484.61Z"/><path d="M522.16 492.92 L524.42 492.92 L531.23 483.1 L530.47 482.34 L525.18 485.36Z"/><path d="M527.45 490.66 L532.74 492.92 L534.25 491.41 L531.23 488.39Z"/><path d="M530.47 498.97 L535.01 498.22 L532.74 496.33Z"/><path d="M529.72 504.26 L532.74 503.89 L531.98 501.62 L528.96 502.37Z"/></clipPath>
<path d="M581.7 503.2L584.5 507.6M523.0 478.2L520.8 481.9M520.2 523.3L518.8 525.8M520.2 523.3L516.5 518.2M518.8 525.8L515.9 528.7M520.8 481.9L520.2 482.9M515.9 528.7L519.8 532.3M581.0 551.3L578.1 549.8M578.1 549.8L576.0 551.4M520.2 523.3L523.2 522.7M516.5 518.2L520.9 516.7M520.9 516.7L521.9 517.6M523.2 522.7L521.9 517.6M529.9 477.4L526.5 479.3M524.3 478.2L526.5 479.3M523.0 478.2L524.3 478.2M584.5 507.6L583.9 508.1M583.9 508.1L582.3 510.6M582.3 510.6L582.5 511.7M576.0 551.4L574.4 550.5M574.4 550.5L570.2 551.6M578.3 546.5L578.1 549.8M578.3 546.5L573.9 545.4M573.9 545.4L572.9 547.3M574.4 550.5L572.9 547.3M523.4 510.8L519.8 511.2M523.4 510.8L523.8 514.8M519.8 511.2L521.4 515.9M523.8 514.8L521.4 515.9M520.9 516.7L521.4 515.9M518.0 510.7L519.8 511.2M521.9 517.6L526.5 518.2M526.5 518.2L526.7 517.9M526.0 516.0L526.7 517.9M526.0 516.0L523.8 514.8M531.1 510.6L530.7 510.2M531.1 510.6L531.2 512.8M527.5 513.2L531.2 512.8M527.5 513.2L524.8 509.9M524.8 509.9L530.7 510.2M526.0 516.0L527.5 513.2M523.4 510.8L524.6 509.8M524.8 509.9L524.6 509.8M554.4 504.5L554.5 506.9M554.4 504.5L550.2 504.8M550.2 504.8L549.9 506.2M549.9 506.2L553.3 508.1M553.3 508.1L554.5 506.9M557.2 502.2L554.4 504.5M557.2 502.2L559.7 504.9M557.6 508.4L554.5 506.9M557.6 508.4L559.6 506.7M559.7 504.9L559.6 506.7M583.5 497.8L583.5 495.0M520.2 482.9L520.2 482.9M526.5 479.3L527.2 482.3M527.2 482.3L526.4 483.9M526.4 483.9L524.0 484.3M520.2 482.9L524.0 484.3M545.2 551.7L543.0 548.5M545.2 551.7L548.0 549.9M548.0 549.9L546.6 546.0M543.0 548.5L546.6 546.0M550.4 549.6L550.9 545.3M550.4 549.6L548.0 549.9M550.9 545.3L550.6 544.1M550.5 544.1L550.6 544.1M550.5 544.1L546.7 545.5M546.7 545.5L546.6 546.0M534.1 552.9L531.4 549.0M558.6 524.6L560.4 528.3M558.6 524.6L558.7 524.2M559.0 524.2L558.7 524.2M559.0 524.2L563.1 526.5M560.4 528.3L563.1 526.5M583.9 508.1L578.8 506.5M582.3 510.6L577.2 510.3M578.8 506.5L577.1 510.1M577.1 510.1L577.1 510.1M577.2 510.3L577.1 510.1M584.4 541.0L582.3 538.0M563.4 523.1L563.3 519.7M563.4 523.1L565.0 525.4M565.0 525.4L567.3 521.3M567.3 521.3L566.0 519.6M563.3 519.7L563.9 519.1M563.9 519.1L565.0 518.8M565.0 518.8L566.0 519.6M575.0 519.3L574.0 515.0M575.0 519.3L572.0 522.0M572.0 522.0L571.0 519.0M571.0 519.0L570.8 517.3M570.8 517.3L573.1 514.9M573.1 514.9L574.0 515.0M567.3 521.3L571.7 522.7M571.8 522.6L571.7 522.7M571.8 522.6L572.0 522.0M566.0 519.6L571.0 519.0M566.8 516.0L565.0 518.8M566.8 516.0L570.8 517.3M566.6 514.4L570.1 510.6M566.6 514.4L566.8 516.0M570.1 510.6L573.1 514.9M562.1 535.5L563.2 536.8M562.1 535.5L559.7 535.8M559.7 535.8L556.6 537.8M561.4 539.9L556.6 538.3M561.4 539.9L563.2 537.0M556.6 537.8L556.6 538.3M563.2 537.0L563.2 536.8M560.4 528.3L559.7 531.0M561.0 531.7L564.9 530.2M561.0 531.7L559.7 531.0M563.1 526.5L564.5 526.3M564.9 530.2L564.5 526.3M559.0 524.2L563.4 523.1M565.0 525.4L565.1 525.4M565.1 525.4L564.5 526.3M566.7 533.0L569.0 537.9M566.7 533.0L563.2 536.8M563.2 537.0L567.3 538.7M567.3 538.7L569.0 537.9M550.4 549.6L554.6 550.3M550.4 549.6L550.4 549.6M550.9 545.3L556.4 547.6M556.4 547.6L554.6 550.3M526.7 517.9L530.6 516.6M531.2 512.8L532.6 514.5M530.6 516.6L532.6 514.5M539.1 517.4L533.8 516.0M539.1 517.4L540.1 516.0M540.1 516.0L536.1 512.4M536.1 512.4L532.6 514.5M533.8 516.0L532.6 514.5M531.1 510.6L532.9 508.7M532.9 508.7L536.5 511.5M536.5 511.5L536.1 512.4M532.6 514.5L532.6 514.5M523.2 522.7L523.5 522.8M526.5 518.2L526.4 520.7M523.5 522.8L526.4 520.7M522.5 527.8L518.8 525.8M522.5 527.8L525.2 527.3M525.2 527.3L525.2 526.2M523.5 522.8L525.2 526.2M547.5 501.2L549.9 504.1M547.5 501.2L547.0 501.5M549.9 504.1L550.2 504.8M549.1 507.3L549.9 506.2M549.1 507.3L544.8 507.0M547.0 501.5L544.8 507.0M549.3 510.4L553.1 511.6M549.3 510.4L548.2 511.4M551.3 517.6L548.1 512.2M551.3 517.6L553.2 515.3M548.2 511.4L548.1 512.2M553.2 515.3L553.1 511.6M557.6 508.4L556.6 510.5M553.3 508.1L553.7 511.0M556.6 510.5L553.7 511.0M549.1 507.3L549.3 510.4M553.1 511.6L553.7 511.0M570.9 509.7L577.1 510.1M570.9 509.7L570.3 509.9M576.4 514.2L574.0 515.0M576.4 514.2L577.2 510.3M570.1 510.6L570.1 510.3M570.3 509.9L570.1 510.3M564.8 513.5L563.4 510.7M564.8 513.5L561.5 515.1M561.5 515.1L559.1 514.3M562.6 509.9L563.4 510.7M562.6 509.9L559.1 513.8M559.1 513.8L559.1 514.3M566.6 514.4L564.8 513.5M569.0 509.8L570.1 510.3M569.0 509.8L563.4 510.7M563.9 519.1L561.5 515.1M562.5 509.8L565.6 507.1M562.5 509.8L562.6 509.9M569.0 509.8L565.6 507.1M562.5 509.8L559.6 506.7M556.6 510.5L559.1 513.8M553.2 515.3L558.2 515.5M558.2 515.5L559.1 514.3M583.1 479.9L579.7 478.8M583.1 479.9L583.5 480.9M583.5 495.0L579.2 491.6M579.2 491.6L584.0 489.3M584.0 489.3L583.5 485.7M576.7 478.1L571.9 476.7M550.0 498.6L547.6 500.8M550.0 498.6L548.7 494.8M547.6 500.8L544.7 496.0M544.7 496.0L546.4 494.3M548.7 494.8L546.4 494.3M534.8 496.6L531.9 495.0M534.8 496.6L536.0 499.0M531.9 495.0L529.6 498.9M536.0 499.0L531.9 500.9M531.9 500.9L529.6 498.9M526.5 497.6L528.8 499.1M526.5 497.6L526.7 494.5M531.9 495.0L531.6 494.2M529.6 498.9L528.8 499.1M526.7 494.5L530.0 493.0M531.6 494.2L530.0 493.0M542.5 514.6L541.9 514.6M542.5 514.6L545.0 515.5M545.0 515.5L547.0 518.2M541.1 515.4L541.9 514.6M541.1 515.4L543.6 519.5M547.0 518.2L546.0 519.8M543.6 519.5L546.0 519.8M548.2 511.4L545.1 510.4M548.1 512.2L545.0 515.5M545.1 510.4L542.5 514.6M551.3 517.6L551.3 517.6M551.3 517.6L547.0 518.2M539.1 518.5L541.2 520.4M539.1 518.5L539.1 517.4M540.1 516.0L541.1 515.4M541.2 520.4L543.6 519.5M531.7 505.3L533.8 506.7M531.7 505.3L532.2 502.2M532.2 502.2L536.2 503.7M533.8 506.7L535.7 506.1M535.7 506.1L536.2 503.7M532.9 508.7L533.8 506.7M530.7 510.2L528.2 505.6M528.2 505.6L531.7 505.3M528.2 505.6L526.8 505.1M531.9 501.5L526.8 505.1M531.9 501.5L532.2 502.2M520.2 482.9L520.1 487.4M516.7 489.6L520.1 487.4M534.8 482.6L535.9 477.9M534.8 482.6L532.6 482.5M532.5 482.4L532.6 482.5M532.5 482.4L531.4 478.0M535.9 477.9L532.2 477.5M531.4 478.0L532.2 477.5M527.2 482.3L532.5 482.4M526.4 483.9L528.2 487.0M528.2 487.0L531.3 485.9M531.3 485.9L532.6 482.5M529.9 477.4L531.4 478.0M518.9 549.2L520.2 547.0M518.5 543.4L520.2 547.0M523.3 550.8L527.8 548.8M523.3 550.8L522.7 549.8M522.7 549.8L522.7 547.2M527.8 548.8L528.0 548.5M528.0 548.5L523.2 546.4M522.7 547.2L523.2 546.4M518.9 549.2L522.7 549.8M520.2 547.0L522.7 547.2M531.2 548.0L528.6 547.9M531.2 548.0L531.4 549.0M528.6 547.9L528.0 548.5M528.6 547.9L527.2 542.5M527.2 542.5L526.2 542.2M523.2 546.4L523.4 543.9M526.2 542.2L523.4 543.9M518.5 543.4L519.7 542.9M519.7 542.9L523.4 543.9M561.4 539.9L561.5 541.9M567.3 538.7L566.5 543.7M561.5 541.9L566.5 543.7M550.0 533.4L544.9 535.3M550.0 533.4L549.3 532.0M549.3 532.0L544.5 530.7M544.5 530.7L543.7 531.7M544.9 535.3L543.7 531.7M528.2 542.2L530.3 537.7M528.2 542.2L531.6 542.4M532.3 536.8L530.3 537.7M532.3 536.8L533.6 539.9M531.6 542.4L533.6 539.9M537.4 536.3L533.1 534.7M537.4 536.3L537.4 536.9M533.1 534.7L532.9 534.9M537.4 536.9L535.2 540.3M532.9 534.9L532.3 536.8M535.2 540.3L533.6 539.9M553.9 539.0L550.9 536.7M553.9 539.0L549.9 542.5M550.9 536.7L547.4 539.4M549.9 542.5L547.4 539.4M550.5 544.1L549.9 542.5M550.6 544.1L553.4 543.3M553.4 543.3L555.1 539.4M555.1 539.4L553.9 539.0M544.2 543.2L546.7 545.5M544.2 543.2L547.4 539.4M547.4 539.4L547.4 539.4M550.6 534.0L551.2 535.1M550.6 534.0L555.0 529.3M551.2 535.1L555.9 534.1M557.1 531.2L555.2 529.4M557.1 531.2L556.4 533.3M556.4 533.3L555.9 534.1M555.2 529.4L555.0 529.3M547.4 539.4L544.8 537.0M550.0 533.4L550.6 534.0M544.8 537.0L544.9 535.3M550.9 536.7L551.2 535.1M549.3 532.0L550.4 528.8M554.6 529.0L550.4 528.8M554.6 529.0L555.0 529.3M556.6 537.8L555.9 534.1M556.6 538.3L555.4 539.3M555.1 539.4L555.4 539.3M558.6 524.6L555.2 529.4M559.7 531.0L557.1 531.2M562.1 535.5L561.0 531.7M559.7 535.8L556.4 533.3M554.6 529.0L553.2 523.7M550.4 528.8L549.4 527.6M549.4 527.6L551.1 524.3M553.2 523.7L551.1 524.3M584.8 518.1L579.9 516.2M584.8 518.1L582.7 521.8M582.7 521.8L580.6 521.7M580.6 521.7L578.4 520.1M579.3 516.3L578.2 519.5M579.3 516.3L579.9 516.2M578.2 519.5L578.4 520.1M582.5 511.7L579.9 516.2M584.4 525.7L582.7 521.8M578.3 526.2L580.6 521.7M578.3 526.2L581.6 527.2M584.4 525.7L581.6 527.2M575.5 524.6L576.7 526.3M575.5 524.6L578.4 520.1M578.3 526.2L576.7 526.3M576.4 514.2L579.3 516.3M575.0 519.3L578.2 519.5M571.8 522.6L575.5 524.6M581.5 528.7L583.9 532.8M581.5 528.7L579.4 531.2M583.9 532.8L580.0 533.3M579.4 531.2L580.0 533.3M581.6 527.2L581.5 528.7M576.7 526.4L576.7 526.3M576.7 526.4L577.2 530.1M577.2 530.1L579.4 531.2M582.3 538.0L579.2 537.6M579.2 537.6L578.2 535.9M578.2 535.9L580.0 533.3M577.2 530.1L575.0 532.8M575.0 532.8L575.7 535.1M575.7 535.1L578.2 535.9M578.4 546.4L581.8 545.5M578.4 546.4L578.0 543.1M578.0 543.1L580.5 542.0M581.8 545.5L582.4 542.9M582.4 542.9L580.5 542.0M578.3 546.5L578.4 546.4M573.9 545.4L573.6 544.7M576.7 541.1L573.6 544.7M576.7 541.1L576.7 541.1M576.7 541.1L578.0 543.1M576.7 541.1L578.7 538.9M578.7 538.9L580.5 542.0M584.4 541.0L582.4 542.9M579.2 537.6L578.7 538.9M569.9 525.4L571.6 529.9M569.9 525.4L568.5 525.7M568.5 525.7L567.1 531.3M571.5 530.3L569.8 531.5M571.5 530.3L571.6 529.9M569.8 531.5L567.2 531.5M567.2 531.5L567.1 531.3M571.7 522.7L569.9 525.4M576.7 526.4L571.6 529.9M565.1 525.4L568.5 525.7M564.9 530.2L567.1 531.3M575.0 532.8L571.5 530.3M566.7 533.0L567.2 531.5M574.1 539.8L571.8 541.3M574.1 539.8L574.1 536.2M571.8 541.3L569.2 537.9M574.1 536.2L571.0 536.2M571.0 536.2L569.2 537.9M576.7 541.1L574.1 539.8M573.6 544.7L571.6 542.9M571.6 542.9L571.8 541.3M575.7 535.1L574.1 536.2M569.8 531.5L571.0 536.2M569.0 537.9L569.2 537.9M555.6 553.4L561.1 550.9M554.6 550.3L555.6 553.4M570.2 551.6L567.9 551.0M518.0 510.7L519.7 506.4M519.7 506.4L516.8 503.2M551.3 517.6L551.3 517.6M546.0 519.8L545.9 522.9M551.3 517.6L549.0 523.2M549.0 523.2L546.4 523.1M546.4 523.1L545.9 522.9M549.4 527.6L548.5 527.4M551.1 524.3L549.0 523.2M546.4 523.1L548.5 527.4M544.5 530.7L544.7 529.1M544.7 529.1L548.5 527.4M541.2 520.4L541.9 523.7M545.9 522.9L543.6 524.3M541.9 523.7L543.6 524.3M544.7 529.1L543.8 527.3M543.8 527.3L543.6 524.3M539.1 518.5L536.4 521.6M541.9 523.7L538.9 524.5M536.4 521.6L538.9 524.5M533.8 516.0L534.1 521.7M536.4 521.6L534.1 521.7M539.8 527.9L538.0 527.1M539.8 527.9L543.8 527.3M538.9 524.5L538.0 527.1M542.5 500.5L539.5 498.4M542.5 500.5L543.1 501.6M543.1 501.6L541.6 503.9M541.6 503.9L537.1 502.2M539.5 498.4L537.0 499.6M537.0 499.6L537.1 502.2M547.6 500.8L547.5 501.2M544.7 496.0L544.4 496.1M544.4 496.1L542.5 500.5M547.0 501.5L543.1 501.6M536.0 499.0L537.0 499.6M531.9 501.5L531.9 500.9M536.2 503.7L537.1 502.2M541.6 504.7L543.6 507.5M541.6 504.7L537.3 507.4M540.2 510.1L543.5 507.7M540.2 510.1L538.3 509.6M543.5 507.7L543.6 507.5M538.3 509.6L537.3 507.4M544.8 507.0L543.6 507.5M541.6 503.9L541.6 504.7M535.7 506.1L537.3 507.4M545.1 510.4L543.5 507.7M541.9 514.6L540.2 510.1M536.5 511.5L538.3 509.6M559.7 504.9L560.8 504.5M565.6 507.1L565.6 506.0M560.8 504.5L565.6 506.0M581.7 503.2L580.7 502.6M578.8 506.5L578.3 504.4M578.3 504.4L580.7 502.6M583.5 497.8L580.2 499.1M580.7 502.6L580.2 499.1M579.0 484.1L577.8 479.6M579.0 484.1L579.0 484.8M579.0 484.8L578.1 485.8M578.1 485.8L573.0 483.8M577.6 479.5L574.1 481.4M577.6 479.5L577.8 479.6M574.1 481.4L573.0 483.8M583.5 480.9L579.0 484.1M579.7 478.8L577.8 479.6M583.5 485.7L579.0 484.8M576.7 478.1L577.6 479.5M571.4 478.1L571.9 476.7M571.4 478.1L574.1 481.4M571.4 478.1L568.6 480.2M568.6 480.2L571.5 484.6M571.5 484.6L573.0 483.8M561.3 476.6L562.6 478.5M562.6 478.5L566.8 478.3M568.6 480.2L568.0 480.1M566.8 478.3L568.0 480.1M548.7 494.8L551.4 492.5M546.4 494.3L545.7 491.2M545.7 491.2L551.1 491.2M551.4 492.5L551.1 491.2M526.6 505.0L526.4 503.6M526.6 505.0L525.0 506.4M526.4 503.6L522.8 499.8M525.0 506.4L522.5 505.7M522.5 505.7L521.3 502.8M521.3 502.8L522.2 500.3M522.8 499.8L522.3 500.0M522.2 500.3L522.3 500.0M526.8 505.1L526.6 505.0M528.8 499.1L526.4 503.6M524.6 509.8L525.0 506.4M526.5 497.6L523.7 498.2M523.7 498.2L522.8 499.8M519.7 506.4L522.5 505.7M516.8 503.2L517.3 503.1M517.3 503.1L521.3 502.8M517.3 503.1L522.2 500.3M515.8 497.6L522.3 500.0M524.0 484.3L523.9 487.0M520.1 487.4L521.2 488.2M523.9 487.0L521.2 488.2M528.2 487.0L527.6 489.2M527.6 489.2L526.0 489.5M523.9 487.0L526.0 489.5M536.3 488.8L536.3 490.6M536.3 488.8L533.1 488.1M533.1 488.1L532.4 488.8M532.4 488.8L533.0 493.0M533.0 493.0L536.3 490.6M531.3 485.9L533.1 488.1M527.6 489.2L529.3 491.0M529.3 491.0L532.4 488.8M531.6 494.2L533.0 493.0M529.3 491.0L530.0 493.0M541.2 492.6L537.4 492.0M541.2 492.6L541.7 495.3M540.2 496.6L541.7 495.3M540.2 496.6L537.2 494.3M537.2 494.3L537.4 492.0M544.4 496.1L541.7 495.3M542.5 490.9L541.2 492.6M542.5 490.9L545.3 490.8M545.3 490.8L545.7 491.2M539.5 498.4L540.2 496.6M534.8 496.6L537.2 494.3M536.3 490.6L537.4 492.0M519.3 495.2L522.4 495.1M519.3 495.2L519.4 491.8M519.4 491.8L522.6 490.8M522.4 495.1L523.8 493.0M523.8 493.0L523.7 491.4M523.7 491.4L522.6 490.8M523.7 498.2L522.4 495.1M515.8 497.6L519.3 495.2M516.7 489.6L519.4 491.8M521.2 488.2L522.6 490.8M526.7 494.5L523.8 493.0M526.0 489.5L523.7 491.4M542.0 477.5L540.6 479.9M540.6 479.9L537.0 477.3M535.9 477.9L537.0 477.3M534.8 482.6L537.8 484.1M540.6 479.9L540.7 482.2M540.7 482.2L537.8 484.1M542.5 490.9L541.5 489.0M536.3 488.8L537.5 487.1M541.5 489.0L537.5 487.1M537.8 484.1L537.5 487.1M542.0 477.5L544.4 476.8M546.9 475.1L544.4 476.8M571.6 542.9L569.1 543.8M566.5 543.7L566.5 543.8M569.1 543.8L566.5 543.8M572.9 547.3L570.7 548.0M569.1 543.8L570.7 548.0M567.9 551.0L567.8 550.8M570.7 548.0L567.8 550.8M558.2 544.4L557.3 545.5M558.2 544.4L560.1 543.5M560.1 543.5L562.4 546.5M557.1 547.0L561.4 550.0M557.1 547.0L557.3 545.5M562.4 546.5L561.5 550.0M561.5 550.0L561.4 550.0M553.4 543.3L557.3 545.5M555.4 539.3L558.2 544.4M561.5 541.9L560.1 543.5M556.4 547.6L557.1 547.0M561.1 550.9L561.4 550.0M567.8 550.8L567.0 550.1M567.0 550.1L561.5 550.0M538.8 535.6L539.4 532.5M538.8 535.6L540.8 536.9M540.8 536.9L542.5 531.8M539.4 532.5L541.4 531.8M541.4 531.8L542.5 531.8M537.4 536.3L538.8 535.6M533.1 534.7L533.3 534.4M533.3 534.4L536.9 531.0M536.9 531.0L539.4 532.5M537.4 536.9L537.9 538.1M541.9 537.9L540.8 536.9M541.9 537.9L541.0 539.6M541.0 539.6L537.9 538.1M541.9 537.9L544.8 537.0M543.7 531.7L542.5 531.8M536.9 531.0L536.4 528.2M539.8 527.9L541.4 531.8M536.4 528.2L538.0 527.1M531.2 548.0L533.5 546.7M527.2 542.5L528.2 542.2M531.6 542.4L533.9 546.4M533.5 546.7L533.9 546.4M534.1 552.9L534.3 552.4M533.5 546.7L534.3 552.4M535.2 540.3L537.6 542.3M533.9 546.4L534.5 546.4M537.6 542.3L534.5 546.4M537.9 538.1L537.9 542.3M537.6 542.3L537.9 542.3M541.0 539.6L540.2 542.4M537.9 542.3L540.2 542.4M544.2 543.2L541.6 543.8M541.6 543.8L540.2 542.4M552.9 519.6L553.5 523.2M552.9 519.6L558.4 519.0M553.5 523.2L558.2 523.4M558.2 523.4L559.1 519.9M558.4 519.0L559.1 519.9M551.3 517.6L552.9 519.6M553.2 523.7L553.5 523.2M558.2 515.5L558.4 519.0M558.7 524.2L558.2 523.4M563.3 519.7L559.1 519.9M531.6 522.3L533.0 522.4M531.6 522.3L530.4 522.6M533.0 522.4L534.3 527.5M530.4 522.6L529.4 524.9M529.4 524.9L530.1 528.7M530.1 528.7L533.0 528.2M533.0 528.2L534.3 527.5M530.6 516.6L531.6 522.3M534.1 521.7L533.0 522.4M526.4 520.7L530.4 522.6M536.4 528.2L534.3 527.5M525.2 526.2L529.4 524.9M533.3 534.4L533.0 528.2M532.9 534.9L531.5 534.0M528.6 530.2L531.5 534.0M528.6 530.2L530.1 528.7M570.3 509.9L569.3 503.6M565.6 506.0L566.8 504.3M569.3 503.6L566.8 504.3M560.8 504.5L564.0 501.5M566.8 504.3L564.0 501.5M557.2 502.2L557.1 501.6M557.1 501.6L564.2 499.1M564.0 501.5L564.2 499.1M557.1 501.6L556.7 500.7M563.4 497.1L556.7 500.7M563.4 497.1L564.5 498.4M564.2 499.1L564.5 498.4M573.6 491.9L573.7 495.2M573.6 491.9L578.3 490.8M573.7 495.2L578.2 495.6M578.2 495.6L579.1 491.6M578.3 490.8L579.1 491.6M579.2 491.6L579.1 491.6M580.2 499.1L578.6 498.2M578.6 498.2L578.2 495.6M577.7 488.2L578.1 485.8M577.7 488.2L578.3 490.8M562.6 478.5L562.8 480.5M568.0 480.1L565.1 482.7M562.8 480.5L565.1 482.7M545.3 490.8L546.0 489.0M541.5 489.0L543.9 485.4M546.0 489.0L543.9 485.4M540.7 482.2L543.9 483.4M543.9 485.4L543.9 483.4M544.4 476.8L546.0 482.7M543.9 483.4L546.0 482.7M552.8 493.4L556.6 492.7M552.8 493.4L553.1 498.3M556.6 492.7L558.2 495.5M558.2 495.5L556.0 499.6M553.1 498.3L555.1 499.4M555.1 499.4L556.0 499.6M550.0 498.6L553.1 498.3M551.4 492.5L552.8 493.4M549.9 504.1L555.1 499.4M556.7 500.7L556.0 499.6M563.4 497.1L562.5 495.7M558.2 495.5L562.0 495.2M562.5 495.7L562.0 495.2M546.9 475.1L548.2 477.5M546.0 482.7L547.3 482.6M548.2 477.5L547.3 482.6M546.0 489.0L548.2 487.9M548.2 487.9L548.4 483.2M548.4 483.2L547.3 482.6M548.2 487.9L550.8 489.2M551.6 483.2L548.4 483.2M551.6 483.2L552.1 484.1M552.1 484.1L550.8 489.2M551.1 491.2L551.2 490.0M550.8 489.2L551.2 490.0M548.2 477.5L552.1 478.3M554.0 473.0L552.1 478.3M561.3 476.6L557.8 478.0M554.0 473.0L557.8 478.0M551.6 483.2L553.3 481.1M552.1 478.3L553.3 481.1M556.6 492.7L557.1 491.0M551.2 490.0L554.0 488.9M557.1 491.0L554.0 488.9M552.1 484.1L554.6 486.1M554.0 488.9L554.6 486.1M525.2 527.3L525.7 528.2M528.6 530.2L527.8 530.2M525.7 528.2L527.8 530.2M522.5 527.8L521.6 531.1M525.7 528.2L521.6 531.1M524.7 538.2L521.3 537.6M524.7 538.2L526.0 536.6M526.0 536.6L526.2 535.7M526.2 535.7L525.7 532.9M525.7 532.9L520.6 532.2M521.0 537.3L520.1 532.4M521.0 537.3L521.3 537.6M520.1 532.4L520.6 532.2M526.2 542.2L524.7 538.2M519.7 542.9L521.3 537.6M530.3 537.7L526.0 536.6M531.5 534.0L526.2 535.7M527.8 530.2L525.7 532.9M521.6 531.1L520.6 532.2M519.8 532.3L520.1 532.4M562.9 546.3L566.4 544.0M562.9 546.3L566.8 549.1M566.8 549.1L566.4 544.0M566.5 543.8L566.4 544.0M562.4 546.5L562.9 546.3M567.0 550.1L566.8 549.1M542.3 548.0L541.5 544.8M542.3 548.0L538.7 550.1M541.5 544.8L536.5 548.0M538.7 550.1L537.0 548.9M537.0 548.9L536.5 548.0M543.0 548.5L542.3 548.0M541.6 543.8L541.5 544.8M534.5 546.4L536.5 548.0M534.3 552.4L537.0 548.9M568.1 494.9L570.4 492.9M568.1 494.9L568.0 498.1M570.4 492.9L572.2 497.8M568.0 498.1L569.5 498.9M569.5 498.9L572.2 498.0M572.2 497.8L572.2 498.0M564.5 498.4L568.0 498.1M562.5 495.7L566.4 493.0M566.4 493.0L568.1 494.9M569.3 503.6L569.6 503.3M569.6 503.3L569.5 498.9M578.6 498.2L575.3 499.6M573.7 495.2L572.2 497.8M575.3 499.6L572.2 498.0M567.8 490.9L571.2 491.2M567.8 490.9L566.4 486.5M566.4 486.5L570.8 485.9M571.6 491.0L571.2 491.2M571.6 491.0L571.4 487.3M571.4 487.3L570.8 485.9M566.4 493.0L566.4 492.1M566.4 492.1L567.8 490.9M570.4 492.9L571.2 491.2M573.6 491.9L571.6 491.0M577.7 488.2L571.4 487.3M571.5 484.6L570.8 485.9M557.8 478.0L557.5 478.8M553.3 481.1L553.7 481.0M557.5 478.8L553.7 481.0M562.0 495.2L562.2 491.4M557.1 491.0L559.0 489.2M559.0 489.2L562.2 491.4M566.4 492.1L563.9 490.6M562.2 491.4L563.9 490.6M566.4 486.5L565.3 486.2M563.9 490.6L565.3 486.2M565.1 482.7L564.9 485.7M565.3 486.2L564.9 485.7M558.2 485.9L559.2 487.2M558.2 485.9L558.2 484.6M558.2 484.6L559.4 482.2M564.3 485.7L559.2 487.2M564.3 485.7L560.2 482.1M560.2 482.1L559.4 482.2M554.6 486.1L558.2 485.9M559.0 489.2L559.2 487.2M553.7 481.0L558.2 484.6M557.5 478.8L559.4 482.2M564.9 485.7L564.3 485.7M562.8 480.5L560.2 482.1M569.8 503.3L575.1 502.5M569.8 503.3L573.8 506.1M573.8 506.1L574.6 505.8M574.6 505.8L575.9 504.0M575.9 504.0L575.1 502.5M569.6 503.3L569.8 503.3M575.3 499.6L575.1 502.5M570.9 509.7L573.8 506.1M577.1 510.1L574.6 505.8M578.3 504.4L575.9 504.0" stroke="#fff" stroke-width="2.0" fill="none" stroke-linecap="round" clip-path="url(#m_gb4)"/>
</g>
<clipPath id="m_fr"><path d="M568 594.7 L570 585.3 L572 578.7 L571.3 573.3 L567 571 L564 569.3 L562 566.5 L560 564 L555 560.5 L550.7 557.3 L553.3 555.3 L564 556 L566.5 553 L568 550.7 L565.3 549.3 L570 550 L575.7 552 L575.7 594.7Z"/></clipPath>
<path d="M549.2 590.9L549.8 590.0M549.8 590.0L547.4 586.5M568.0 603.5L567.7 602.2M567.7 602.2L563.0 601.5M559.9 603.4L563.0 601.5M554.8 603.1L556.5 601.8M559.9 603.4L556.5 601.8M546.2 603.4L548.5 602.7M548.5 602.7L549.8 597.2M547.5 596.2L549.8 597.2M554.8 603.1L548.5 602.7M549.2 590.9L547.5 596.2M586.1 600.7L581.9 599.9M582.5 592.9L581.9 599.9M581.6 587.9L581.6 592.2M582.5 592.9L581.6 592.2M547.5 585.9L549.4 583.8M547.5 585.9L541.6 580.3M549.4 583.8L548.4 577.0M541.6 580.3L546.6 576.5M546.6 576.5L548.4 577.0M547.4 586.5L547.5 585.9M548.2 539.0L547.6 543.8M556.5 601.8L556.3 598.4M549.8 597.2L552.6 596.4M552.6 596.4L556.3 598.4M549.8 590.0L550.5 590.3M552.6 596.4L550.5 590.3M553.7 582.6L549.4 583.8M553.7 582.6L554.2 586.3M554.2 586.3L551.0 590.2M550.5 590.3L551.0 590.2M557.6 589.0L557.4 590.5M557.6 589.0L554.2 586.3M551.0 590.2L557.4 590.5M581.3 587.5L576.0 585.3M581.3 587.5L581.7 581.3M581.7 581.3L581.5 581.1M581.5 581.1L576.2 582.5M576.0 585.3L576.2 582.5M581.6 587.9L581.3 587.5M581.5 581.1L581.2 578.7M581.6 576.2L581.2 578.7M580.5 604.4L580.2 603.6M581.9 599.9L580.5 601.3M580.2 603.6L580.5 601.3M580.2 603.6L573.6 604.3M581.6 592.2L576.2 593.0M576.2 593.0L574.9 598.3M580.5 601.3L574.9 598.3M583.8 567.1L586.4 570.0M583.8 567.1L584.5 562.2M578.5 563.9L584.5 562.2M578.5 563.9L577.4 562.8M583.3 555.5L579.0 557.8M579.0 557.8L577.4 562.8M564.3 545.7L557.8 546.3M564.3 545.7L565.5 544.6M556.7 546.5L548.2 539.0M556.7 546.5L557.6 546.5M557.8 546.3L557.6 546.5M556.7 546.5L554.3 548.0M547.6 543.8L548.8 547.9M554.3 548.0L548.8 547.9M550.8 563.4L548.3 567.1M550.8 563.4L557.2 566.4M555.7 569.6L557.2 566.4M555.7 569.6L550.0 569.3M550.0 569.3L548.3 567.1M559.4 563.9L558.9 565.2M559.4 563.9L556.3 558.8M556.3 558.8L550.5 561.8M550.5 561.8L550.8 563.4M558.9 565.2L557.2 566.4M549.5 570.7L545.2 573.4M549.5 570.7L550.0 569.3M550.5 561.8L549.2 560.6M545.2 573.4L546.6 576.5M553.7 582.6L554.8 582.0M557.6 589.0L559.0 585.5M554.8 582.0L559.0 585.5M564.6 587.2L561.1 584.8M564.6 587.2L566.6 586.9M566.6 586.9L567.5 579.8M567.5 579.8L562.1 581.9M562.1 581.9L561.1 584.8M576.2 582.5L574.5 580.7M581.2 578.7L573.5 578.5M574.5 580.7L573.5 578.5M558.4 592.1L557.4 596.8M558.4 592.1L562.4 591.8M557.4 596.8L564.5 597.0M562.4 591.8L566.7 595.3M566.7 595.3L564.5 597.0M556.3 598.4L557.4 596.8M557.4 590.5L558.4 592.1M564.6 587.2L562.4 591.8M559.0 585.5L561.1 584.8M563.0 601.5L564.5 597.0M580.8 571.8L578.7 566.8M580.8 571.8L580.1 573.7M580.1 573.7L576.7 574.2M576.7 574.2L574.6 570.0M574.6 570.0L574.7 569.0M574.7 569.0L578.6 566.7M578.6 566.7L578.7 566.8M583.8 567.1L578.7 566.8M586.4 570.0L580.8 571.8M581.6 576.2L580.1 573.7M572.6 577.4L573.5 578.5M572.6 577.4L576.7 574.2M578.5 563.9L578.6 566.7M570.0 566.3L573.8 562.0M570.0 566.3L574.7 569.0M577.4 562.8L573.8 562.0M574.5 591.8L569.1 592.9M574.5 591.8L573.9 587.3M573.9 587.3L571.4 586.2M571.4 586.2L567.5 587.4M567.5 587.4L569.1 592.9M576.0 585.3L573.9 587.3M576.2 593.0L574.5 591.8M571.3 584.6L574.5 580.7M571.3 584.6L571.4 586.2M566.6 586.9L567.5 587.4M567.5 579.8L567.8 579.5M571.3 584.6L567.8 579.5M573.3 600.4L574.6 598.5M573.3 600.4L568.6 600.4M574.6 598.5L567.3 595.1M568.6 600.4L567.0 595.3M567.0 595.3L567.3 595.1M573.6 604.3L573.3 600.4M574.9 598.3L574.6 598.5M567.7 602.2L568.6 600.4M569.1 592.9L567.3 595.1M566.7 595.3L567.0 595.3M583.3 555.5L582.8 554.1M582.8 554.1L587.2 547.8M559.2 554.1L557.6 546.5M559.2 554.1L560.6 554.3M564.3 545.7L564.6 551.9M560.6 554.3L564.6 551.9M565.5 544.6L571.1 546.2M571.1 546.2L572.0 545.8M583.9 545.1L587.2 547.8M571.1 546.2L570.9 551.3M564.6 551.9L567.9 553.7M570.9 551.3L567.9 553.7M553.6 555.0L549.0 556.9M553.6 555.0L553.1 553.5M553.1 553.5L547.7 550.0M547.5 555.9L549.0 556.9M547.5 555.9L547.5 550.2M547.5 550.2L547.7 550.0M556.2 556.2L553.6 555.0M556.2 556.2L556.3 558.8M549.2 560.6L549.0 556.9M556.2 556.2L559.2 554.1M554.3 548.0L553.1 553.5M548.8 547.9L547.7 550.0M554.8 582.0L555.4 579.4M562.1 581.9L558.5 577.1M555.4 579.4L558.5 577.1M548.4 577.0L550.6 576.0M555.4 579.4L550.6 576.0M549.5 570.7L550.9 575.4M550.9 575.4L550.6 576.0M555.7 569.6L556.0 571.4M550.9 575.4L556.0 571.4M558.9 565.2L561.8 567.8M561.8 567.8L562.5 572.2M556.0 571.4L558.6 574.8M562.5 572.2L558.6 574.8M558.5 577.1L558.7 576.7M558.6 574.8L558.7 576.7M582.8 554.1L580.0 551.2M583.9 545.1L579.8 547.5M579.8 547.5L580.0 551.2M579.8 547.5L576.2 546.0M572.0 545.8L576.0 546.0M576.2 546.0L576.0 546.0M567.2 559.5L566.8 558.0M567.2 559.5L565.6 562.3M566.8 558.0L562.3 556.7M562.3 556.7L561.2 562.9M561.2 562.9L565.6 562.3M570.0 566.3L569.0 566.7M569.0 566.7L565.6 562.3M573.8 562.0L572.7 560.2M572.7 560.2L567.2 559.5M560.6 554.3L562.3 556.7M567.9 553.7L568.0 554.7M568.0 554.7L566.8 558.0M559.4 563.9L561.2 562.9M569.0 566.7L568.1 568.5M568.1 568.5L561.8 567.8M573.1 557.4L573.0 557.3M573.1 557.4L576.9 556.2M573.0 557.3L573.5 552.9M576.9 556.2L576.6 553.1M576.6 553.1L574.9 552.7M573.5 552.9L574.9 552.7M572.7 560.2L573.1 557.4M568.0 554.7L573.0 557.3M579.0 557.8L576.9 556.2M570.9 551.3L573.5 552.9M580.0 551.2L576.6 553.1M576.0 546.0L574.9 552.7M568.0 579.0L570.9 577.0M568.0 579.0L565.0 577.0M565.0 577.0L564.1 572.6M570.9 577.0L569.9 573.2M569.9 573.2L568.1 570.7M568.1 570.7L564.1 572.6M572.6 577.4L570.9 577.0M567.8 579.5L568.0 579.0M558.7 576.7L565.0 577.0M562.5 572.2L564.1 572.6M574.6 570.0L569.9 573.2M568.1 568.5L568.1 570.7" stroke="#fff" stroke-width="1.3" fill="none" stroke-linecap="round" clip-path="url(#m_fr)"/>
<clipPath id="m_es"><path d="M509.3 598.7 L517.3 596 L521.3 594 L525.3 596 L533.3 595.3 L550.7 596 L568 594.7 L575.7 594.7 L575.7 636 L570.7 638.7 L564 643.3 L554.7 645.3 L541.3 646.7 L537 649 L533.3 650.7 L530.7 645.3 L520 642.7 L511.3 643.3 L512.7 638.7 L512 633.3 L507.3 630.7 L509.3 625.3 L513.3 620 L512 614.7 L512.7 604Z"/></clipPath>
<path d="M582.8 665.8L585.7 660.5M582.8 665.8L576.2 664.0M576.2 664.0L578.1 655.4M585.7 660.5L585.8 658.6M585.8 658.6L582.3 655.2M578.1 655.4L582.3 655.2M574.7 665.4L576.2 664.0M586.5 647.8L582.3 655.2M590.5 614.8L586.7 615.4M583.4 624.8L582.3 619.3M586.7 615.4L582.3 619.3M509.3 662.7L503.7 660.0M494.0 593.1L504.3 595.4M497.3 605.0L504.4 601.3M504.4 601.3L504.3 595.4M578.9 587.4L582.2 591.6M587.0 590.7L582.2 591.6M590.1 592.1L587.0 590.7M528.5 590.5L535.7 588.7M537.2 591.2L535.7 588.7M537.2 591.2L542.5 592.9M544.4 586.6L542.5 592.9M580.5 596.8L576.0 595.3M580.5 596.8L582.2 591.6M578.9 587.4L574.7 587.7M574.7 587.7L576.0 595.3M544.4 586.6L553.5 586.1M542.5 592.9L544.6 596.0M553.5 587.2L553.5 586.1M553.5 587.2L549.4 594.6M544.6 596.0L549.4 594.6M509.3 662.7L511.4 661.8M511.4 661.8L515.7 665.1M508.3 603.1L504.4 601.3M508.3 603.1L505.5 610.7M497.3 605.0L500.0 609.0M500.0 609.0L505.5 610.7M563.1 663.1L557.1 666.6M508.3 603.1L512.8 603.9M508.3 614.7L505.5 610.7M508.3 614.7L514.4 604.7M514.4 604.7L512.8 603.9M590.1 592.1L584.9 599.8M580.5 596.8L581.3 600.2M581.3 600.2L584.9 599.8M575.5 606.4L580.2 602.5M575.5 606.4L575.1 609.4M575.1 609.4L576.2 610.3M576.2 610.3L583.4 611.3M580.2 602.5L587.2 607.6M583.4 611.3L587.2 607.6M570.7 601.7L575.5 606.4M570.7 601.7L571.6 596.2M571.6 596.2L576.0 595.3M581.3 600.2L580.2 602.5M573.2 621.7L579.8 617.5M573.2 621.7L572.4 621.1M579.8 617.5L576.2 610.3M572.4 621.1L573.9 610.2M573.9 610.2L575.1 609.4M586.7 615.4L583.4 611.3M579.8 617.5L582.3 619.3M537.2 591.2L535.0 594.5M528.5 590.5L528.3 590.8M528.3 590.8L528.2 593.2M535.0 594.5L529.6 595.0M528.2 593.2L529.6 595.0M561.9 587.3L563.8 593.2M561.9 587.3L568.7 581.2M568.7 581.2L571.4 587.0M571.4 587.0L568.8 591.7M563.8 593.2L568.8 591.7M554.1 584.9L561.9 587.3M574.7 587.7L571.4 587.0M571.6 596.2L568.8 591.7M535.0 594.5L536.3 600.6M544.6 596.0L544.6 596.1M544.6 596.1L536.3 600.6M520.3 613.2L524.5 610.7M520.3 613.2L515.6 604.7M515.6 604.7L519.9 600.8M519.9 600.8L527.1 602.7M524.5 610.7L527.1 602.7M529.6 595.0L529.8 602.4M536.3 600.6L534.9 603.0M534.9 603.0L533.5 604.3M533.5 604.3L529.8 602.4M528.2 593.2L520.1 596.9M519.9 600.8L520.1 596.9M527.1 602.7L529.8 602.4M524.5 610.7L532.2 610.7M533.5 604.3L534.5 609.7M534.5 609.7L532.2 610.7M508.3 614.7L508.2 615.8M500.0 609.0L501.2 617.2M501.2 617.2L508.2 615.8M503.7 660.0L502.3 657.9M511.4 661.8L512.8 656.9M512.8 656.9L510.4 653.4M502.3 657.9L507.5 651.9M510.4 653.4L507.5 651.9M512.8 656.9L520.2 655.0M515.7 665.1L523.7 662.8M520.2 655.0L523.7 662.8M572.4 621.1L566.8 620.8M573.9 610.2L565.0 612.8M565.0 612.8L564.5 617.4M566.8 620.8L564.5 617.4M573.2 621.7L575.5 626.9M583.4 624.8L579.4 629.2M575.5 626.9L579.4 629.2M557.1 666.6L553.5 661.3M553.5 661.3L545.8 664.4M536.8 664.4L544.7 662.9M544.7 662.9L545.8 664.4M553.5 661.3L552.1 656.1M545.6 655.9L547.0 655.0M545.6 655.9L544.7 662.9M547.0 655.0L552.1 656.1M528.3 590.8L519.5 587.1M520.1 596.9L517.1 590.0M519.5 587.1L517.1 590.0M554.1 584.9L553.5 586.1M554.6 617.6L556.2 612.0M554.6 617.6L556.7 621.1M565.0 612.8L564.4 612.2M556.2 612.0L558.3 611.1M564.5 617.4L556.7 621.1M564.4 612.2L558.3 611.1M542.0 603.9L545.6 600.9M542.0 603.9L543.0 609.4M545.6 600.9L549.6 605.6M543.0 609.4L548.7 608.8M549.6 605.6L549.0 608.6M548.7 608.8L549.0 608.6M544.6 596.1L545.6 600.9M534.9 603.0L542.0 603.9M548.0 616.8L554.6 617.6M548.0 616.8L548.7 608.8M556.2 612.0L549.0 608.6M529.6 642.0L531.2 641.9M529.6 642.0L526.1 639.0M531.2 641.9L531.4 641.7M528.1 633.6L527.3 634.5M528.1 633.6L532.7 635.0M526.1 639.0L527.3 634.5M531.4 641.7L532.7 635.0M526.8 617.3L532.2 610.7M526.8 617.3L531.5 619.5M534.5 609.7L537.0 612.2M531.5 619.5L537.0 612.2M548.0 616.8L545.7 619.0M545.7 619.0L541.1 618.3M543.0 609.4L537.5 612.3M541.1 618.3L537.5 612.3M537.5 612.3L537.0 612.2M545.7 619.0L548.1 624.5M556.7 621.1L556.2 623.7M556.2 623.7L551.4 626.4M551.4 626.4L548.1 624.5M520.3 613.2L520.3 617.2M515.6 604.7L514.4 604.7M508.2 615.8L511.0 618.6M511.0 618.6L520.3 617.2M526.8 617.3L520.9 618.0M520.3 617.2L520.9 618.0M524.0 625.3L530.4 627.2M524.0 625.3L521.1 619.3M530.4 627.2L533.4 626.3M533.4 626.3L531.5 619.5M521.1 619.3L520.9 618.0M510.4 653.4L514.4 648.4M520.2 655.0L521.1 653.2M521.1 653.2L520.5 652.6M520.5 652.6L514.4 648.4M529.6 642.0L525.6 650.0M531.2 641.9L536.7 646.9M536.7 646.9L534.0 650.1M534.0 650.1L525.6 650.0M561.2 654.7L561.4 654.8M561.2 654.7L563.3 647.0M561.4 654.8L570.1 651.0M563.3 647.0L570.1 651.0M562.8 643.3L564.2 642.7M562.8 643.3L563.3 647.0M570.7 650.9L570.1 651.0M570.7 650.9L571.1 645.4M571.1 645.4L564.2 642.7M563.7 662.0L563.4 659.7M563.7 662.0L568.8 662.0M563.4 659.7L573.3 653.5M568.8 662.0L575.1 654.5M575.1 654.5L573.3 653.5M563.1 663.1L563.7 662.0M556.8 653.5L552.1 656.1M556.8 653.5L561.2 654.7M561.4 654.8L563.4 659.7M574.7 665.4L568.8 662.0M570.7 650.9L573.3 653.5M578.1 655.4L577.1 654.8M577.1 654.8L575.1 654.5M517.1 590.0L515.0 590.0M515.0 590.0L503.5 578.8M554.2 602.6L557.4 603.9M554.2 602.6L554.1 598.3M557.4 603.9L563.5 601.9M554.1 598.3L560.0 594.8M561.9 595.2L560.0 594.8M561.9 595.2L563.8 601.4M563.8 601.4L563.5 601.9M558.3 611.1L557.4 603.9M549.6 605.6L554.2 602.6M549.4 594.6L554.1 598.3M564.4 612.2L563.5 601.9M553.5 587.2L560.0 594.8M563.8 593.2L561.9 595.2M570.7 601.7L563.8 601.4M541.1 618.3L536.1 626.6M548.1 624.5L543.5 627.2M543.5 627.2L536.1 626.6M531.4 641.7L540.3 636.1M532.7 635.0L536.9 631.3M536.9 631.3L540.3 636.1M530.4 627.2L528.1 633.6M533.4 626.3L535.7 626.9M536.9 631.3L535.7 626.9M535.7 626.9L536.1 626.6M524.0 625.3L521.6 628.9M521.1 619.3L515.6 625.8M515.6 625.8L521.6 628.9M527.3 634.5L521.1 629.9M521.6 628.9L521.1 629.9M507.5 651.9L505.2 648.1M501.2 617.2L498.2 620.1M494.0 593.1L502.6 584.6M502.6 584.6L503.5 578.8M530.6 656.5L533.5 656.4M530.6 656.5L525.4 663.8M536.4 664.1L530.2 666.1M536.4 664.1L535.8 657.5M535.8 657.5L533.5 656.4M530.2 666.1L525.6 664.0M525.6 664.0L525.4 663.8M534.0 650.1L533.5 656.4M525.6 650.0L525.2 650.4M525.2 650.4L530.6 656.5M524.8 650.5L521.1 653.2M524.8 650.5L525.2 650.4M523.7 662.8L525.4 663.8M536.8 664.4L536.4 664.1M540.8 654.9L535.8 657.5M540.8 654.9L545.6 655.9M540.8 654.9L537.8 647.1M536.7 646.9L537.8 647.1M562.8 643.3L559.0 642.5M564.2 642.7L567.3 636.7M559.0 642.5L557.3 635.2M557.3 635.2L563.6 630.4M567.3 636.7L563.6 630.4M566.8 620.8L564.8 629.0M556.2 623.7L563.7 630.0M564.8 629.0L563.7 630.0M575.5 626.9L567.6 628.9M564.8 629.0L567.6 628.9M571.1 645.4L574.3 642.8M567.3 636.7L572.7 637.3M574.3 642.8L572.7 637.3M567.6 628.9L574.4 635.2M563.7 630.0L563.6 630.4M574.4 635.2L572.7 637.3M579.4 629.2L579.6 631.2M574.4 635.2L579.6 631.2M583.8 636.8L582.8 634.9M582.8 634.9L579.6 631.2M556.2 650.6L547.3 645.6M556.2 650.6L557.6 643.4M557.6 643.4L546.8 643.3M547.3 645.6L546.8 643.3M556.8 653.5L556.2 650.6M547.0 655.0L547.3 645.6M559.0 642.5L557.6 643.4M537.8 647.1L545.7 642.2M545.7 642.2L546.8 643.3M551.2 631.0L544.9 631.2M551.2 631.0L552.2 633.8M552.2 633.8L545.6 641.4M544.9 631.2L540.8 636.4M545.6 641.4L540.8 636.4M551.4 626.4L551.2 631.0M543.5 627.2L544.9 631.2M557.3 635.2L552.2 633.8M545.7 642.2L545.6 641.4M540.3 636.1L540.8 636.4M511.5 593.0L513.4 591.2M511.5 593.0L504.6 594.9M513.4 591.2L503.7 588.5M504.6 594.9L503.7 588.5M512.8 603.9L511.5 593.0M515.0 590.0L513.4 591.2M504.3 595.4L504.6 594.9M502.6 584.6L503.7 588.5M498.2 620.1L502.8 626.8M502.8 626.8L502.8 632.7M511.0 618.6L510.1 622.1M502.8 626.8L510.1 622.1M515.6 625.8L513.2 627.0M510.1 622.1L513.2 627.0M509.0 642.5L508.5 640.1M509.0 642.5L514.5 644.7M508.5 640.1L508.0 635.1M517.1 634.0L512.7 633.1M517.1 634.0L520.5 638.9M508.0 635.1L512.7 633.1M516.5 643.9L514.5 644.7M516.5 643.9L518.8 642.6M518.8 642.6L520.5 638.9M505.2 648.1L509.0 642.5M514.4 648.4L514.5 644.7M502.8 632.7L508.0 635.1M521.1 629.9L517.1 634.0M513.2 627.0L512.7 633.1M526.1 639.0L520.5 638.9M520.5 652.6L516.5 643.9M524.8 650.5L518.8 642.6M577.5 646.0L575.6 643.2M577.5 646.0L586.4 646.6M575.6 643.2L584.6 638.5M586.4 646.6L587.7 641.0M587.7 641.0L584.6 638.5M577.1 654.8L577.5 646.0M574.3 642.8L575.6 643.2M586.5 647.8L586.4 646.6M583.8 636.8L584.6 638.5" stroke="#fff" stroke-width="1.25" fill="none" stroke-linecap="round" clip-path="url(#m_es)"/>
<clipPath id="m_pt"><path d="M509.3 598.7 L517.3 596 L521.3 594 L525.3 596 L533.3 595.3 L550.7 596 L568 594.7 L575.7 594.7 L575.7 636 L570.7 638.7 L564 643.3 L554.7 645.3 L541.3 646.7 L537 649 L533.3 650.7 L530.7 645.3 L520 642.7 L511.3 643.3 L512.7 638.7 L512 633.3 L507.3 630.7 L509.3 625.3 L513.3 620 L512 614.7 L512.7 604Z"/></clipPath>
<path d="M514.4 595.8L509.8 598.0M508.7 596.9L509.8 598.0M524.6 632.9L525.5 635.2M524.5 632.9L524.6 632.9M524.5 632.9L522.7 627.9M522.7 627.9L525.2 627.2M525.2 627.2L527.2 623.4M508.2 606.5L507.5 602.0M508.2 606.5L500.3 608.9M509.8 598.0L509.9 600.8M509.9 600.8L507.5 602.0M506.5 611.3L507.9 615.2M506.5 611.3L500.3 608.9M503.0 618.4L507.9 615.2M527.1 601.3L523.8 599.2M514.4 595.8L514.7 596.0M514.7 596.0L518.6 596.7M508.3 630.4L511.6 631.4M508.3 630.4L506.4 630.7M506.4 630.7L507.3 636.7M511.7 632.0L511.6 631.4M511.7 632.0L507.5 636.7M507.5 636.7L507.3 636.7M509.7 624.4L512.2 628.2M509.7 624.4L508.0 624.9M508.0 624.9L508.3 630.4M512.2 628.2L512.2 629.5M512.2 629.5L511.6 631.4M518.5 629.4L512.2 629.5M518.5 629.4L518.3 631.6M518.3 631.6L513.8 633.5M513.8 633.5L511.7 632.0M513.8 633.5L515.0 637.5M515.0 637.5L509.4 638.7M509.4 638.7L507.5 636.7M524.5 632.9L520.2 634.4M525.5 635.2L522.3 639.1M520.2 634.4L519.9 635.8M522.3 639.1L519.9 635.8M520.2 634.4L518.3 631.6M515.0 637.5L515.6 638.0M519.9 635.8L515.6 638.0M524.7 641.8L522.6 640.7M524.7 641.8L525.0 643.5M525.0 643.5L523.6 647.0M522.6 640.7L521.0 641.4M521.0 641.4L519.3 645.2M523.6 647.0L519.3 645.2M522.3 639.1L522.6 640.7M515.6 638.0L516.1 640.4M516.1 640.4L521.0 641.4M516.1 646.6L519.3 645.2M509.0 643.5L509.4 638.8M509.0 643.5L514.8 643.7M509.4 638.8L515.0 642.8M514.8 643.7L515.0 642.8M509.4 638.7L509.4 638.8M504.2 643.5L508.8 643.7M508.8 643.7L509.0 643.5M516.1 640.4L515.0 642.8M516.1 646.6L516.0 646.5M516.0 646.5L514.8 643.7M518.5 629.4L519.6 627.1M512.2 628.2L516.2 625.9M516.2 625.9L519.6 627.1M522.7 627.9L520.4 626.7M521.9 622.9L527.2 623.4M521.9 622.9L520.8 624.0M520.8 624.0L520.4 626.7M520.4 626.7L519.6 627.1M509.7 624.4L509.9 624.1M516.2 625.9L513.5 621.4M513.5 621.4L509.9 624.1M503.0 618.4L507.7 619.4M509.9 624.1L507.7 619.4M509.9 600.8L511.2 601.9M514.7 596.0L515.1 600.7M511.2 601.9L515.1 600.7M518.6 596.7L520.0 600.2M523.8 599.2L521.0 600.4M521.0 600.4L520.0 600.2M515.1 600.7L517.8 602.0M520.0 600.2L517.8 602.0M523.0 609.3L522.6 605.8M523.1 604.9L522.6 605.8M521.0 600.4L523.1 604.9M517.8 602.0L516.9 605.6M516.9 605.6L522.6 605.8M520.8 624.0L515.6 619.4M513.5 621.4L514.1 620.3M515.6 619.4L514.1 620.3M507.7 619.4L510.3 617.6M514.1 620.3L510.3 617.6M507.9 615.2L509.9 615.8M509.9 615.8L510.3 617.6M513.2 647.5L509.1 647.6M516.0 646.5L513.2 647.5M508.8 643.7L509.1 647.6M506.5 611.3L510.9 610.6M509.9 615.8L511.9 613.3M511.9 613.3L510.9 610.6M508.2 606.5L512.6 607.1M510.9 610.6L512.6 607.1M511.2 601.9L512.7 607.0M512.6 607.1L512.7 607.0M522.1 612.2L521.6 613.0M522.1 612.2L527.9 613.8M521.6 613.0L524.2 618.3M527.9 613.8L525.9 618.3M525.9 618.3L524.2 618.3M523.0 609.3L522.0 610.8M522.0 610.8L522.1 612.2M521.9 622.9L522.8 619.4M522.8 619.4L524.2 618.3M522.8 619.4L520.7 618.6M521.6 613.0L520.0 613.8M520.0 613.8L520.7 618.6M515.6 619.4L515.8 618.9M515.8 618.9L520.7 618.6M516.9 605.6L515.7 607.0M522.0 610.8L518.0 608.6M518.0 608.6L515.7 607.0M512.7 607.0L515.5 607.1M515.7 607.0L515.5 607.1M518.1 614.3L516.2 615.3M518.1 614.3L517.7 612.5M517.7 612.5L515.6 608.2M516.2 615.3L515.5 614.6M515.5 614.6L515.6 608.2M520.0 613.8L518.1 614.3M515.8 618.9L516.2 615.3M518.0 608.6L517.7 612.5M515.5 607.1L515.6 608.2M511.9 613.3L515.5 614.6" stroke="#fff" stroke-width="1.0" fill="none" stroke-linecap="round" clip-path="url(#m_pt)"/>
<clipPath id="cmor"><path d="M500 650 L576 650 L576 680 L540 694 L520 702 L502 712 L478 716 L470 730 L440 730 L440 700 L500 680Z"/></clipPath>
<g clip-path="url(#cmor)">
<clipPath id="m_ma"><path d="M532.5 654.2 L535 657 L538.5 658 L547 656.8 L555 657.2 L564 658.7 L570 656.5 L575.7 654.2 L575.7 844.2 L468 844.2 L463.5 838.7 L454.5 832 L451.5 826 L452.2 818.5 L448.5 812.5 L450 808 L453.7 799 L457.5 790 L456.7 784 L455.2 776.5 L457.5 767.5 L450.7 764.5 L450 760 L453.7 755.5 L456.7 748 L460.5 742 L465.7 737.5 L469.5 727 L477 721 L480 714.2 L489.7 712 L495 706.7 L501 703 L505.5 697 L504 692.5 L504.7 686.5 L508.5 682 L513 674.5 L522 670 L528 664Z"/></clipPath>
<path d="M582.2 696.0L579.3 705.6M579.3 705.6L589.9 714.2M580.0 721.4L581.1 719.8M589.9 714.2L581.1 719.8M580.0 721.4L572.7 727.0M581.1 719.8L568.2 710.3M572.7 727.0L565.4 711.2M565.4 711.2L568.2 710.3M579.3 705.6L573.7 706.3M568.2 710.3L573.7 706.3M573.8 692.4L567.8 688.7M573.8 692.4L573.6 705.9M564.1 689.3L567.8 688.7M564.1 689.3L564.0 689.4M564.0 689.4L573.6 705.9M573.8 692.4L579.4 694.0M582.2 696.0L579.4 694.0M573.6 705.9L573.7 706.3M482.0 684.3L473.4 684.9M482.0 684.3L486.4 691.4M473.4 684.9L477.8 695.3M486.4 691.4L477.8 695.3M461.1 698.0L476.8 696.5M468.2 681.2L473.4 684.9M476.8 696.5L477.8 695.3M480.9 663.9L474.1 667.2M480.9 663.9L487.1 669.0M483.2 677.1L470.7 678.6M483.2 677.1L488.2 671.7M470.7 678.6L474.1 667.2M488.2 671.7L487.1 669.0M468.2 681.2L470.7 678.6M482.0 684.3L483.2 677.1M499.3 653.2L505.4 659.1M505.4 659.1L512.0 655.9M494.2 656.3L499.3 653.2M494.2 656.3L494.0 662.1M494.0 662.1L504.0 662.4M504.0 662.4L505.4 659.1M487.3 652.5L480.4 659.2M475.1 653.9L480.4 659.2M494.2 656.3L487.3 652.5M494.0 662.1L487.1 669.0M480.9 663.9L480.4 659.2M512.0 655.9L515.9 656.6M522.8 650.8L515.9 656.6M537.2 655.2L538.5 652.6M537.2 655.2L535.2 656.1M522.8 650.8L535.2 656.1M578.4 653.4L576.4 652.0M576.1 667.1L587.9 665.9M576.1 667.1L574.0 670.4M574.0 670.4L573.7 672.7M573.7 672.7L577.0 679.6M577.0 679.6L582.1 680.4M591.2 666.9L587.9 665.9M591.2 666.9L583.6 680.3M583.6 680.3L582.1 680.4M578.4 653.4L587.9 665.9M576.4 652.0L573.0 658.7M573.0 658.7L576.1 667.1M564.1 689.3L556.6 678.7M567.8 688.7L577.0 679.6M556.6 678.7L557.6 677.1M557.6 677.1L573.7 672.7M579.4 694.0L582.1 680.4M535.2 687.4L539.5 693.9M535.2 687.4L528.7 686.8M539.5 693.9L531.8 700.0M528.7 686.8L521.6 698.2M521.6 698.2L531.8 700.0M519.6 682.4L512.0 697.4M519.6 682.4L528.2 686.1M528.2 686.1L528.7 686.8M521.6 698.2L519.0 700.2M512.0 697.4L519.0 700.2M537.2 655.2L546.6 662.4M546.6 662.4L546.2 666.0M535.2 656.1L532.3 663.4M546.2 666.0L541.2 671.4M532.3 663.4L541.2 671.4M518.3 667.3L518.9 666.0M518.3 667.3L518.3 672.8M518.9 666.0L530.4 665.4M518.3 672.8L528.5 676.1M530.4 665.4L530.6 673.3M528.5 676.1L530.6 673.3M504.0 662.4L504.7 668.7M504.7 668.7L518.3 667.3M515.9 656.6L518.9 666.0M532.3 663.4L530.4 665.4M515.2 678.6L519.6 682.4M515.2 678.6L518.3 672.8M528.2 686.1L528.5 676.1M541.2 671.4L540.9 676.5M540.9 676.5L530.6 673.3M554.9 650.8L554.8 660.3M554.9 650.8L562.0 638.9M562.0 638.9L564.7 660.6M554.8 660.3L560.2 664.4M564.7 660.6L560.6 664.3M560.6 664.3L560.2 664.4M538.5 652.6L554.9 650.8M546.6 662.4L554.8 660.3M573.0 658.7L564.7 660.6M556.6 678.7L556.2 678.7M546.2 666.0L556.2 678.7M557.6 677.1L560.2 664.4M574.0 670.4L560.6 664.3M537.8 684.5L548.7 686.9M537.8 684.5L541.5 677.6M541.5 677.6L555.9 678.7M548.7 686.9L555.9 678.7M535.2 687.4L537.8 684.5M545.7 698.4L539.5 693.9M545.7 698.4L548.7 686.9M540.9 676.5L541.5 677.6M556.2 678.7L555.9 678.7M532.0 724.7L536.0 711.9M536.0 711.9L538.5 710.5M538.5 710.5L539.8 710.2M539.8 710.2L548.4 730.7M565.4 711.2L565.3 711.2M565.3 711.2L561.4 716.8M548.4 730.7L551.8 718.2M561.4 716.8L551.8 718.2M531.8 700.0L538.5 710.5M536.0 711.9L525.3 709.3M519.0 700.2L520.2 704.5M525.3 709.3L520.2 704.5M532.0 724.7L522.9 719.6M525.3 709.3L522.9 719.6M522.9 719.6L517.4 721.2M557.7 698.7L562.8 708.9M557.7 698.7L546.5 699.5M562.8 708.9L549.8 712.9M546.5 699.5L542.7 708.3M542.7 708.3L549.8 712.9M564.0 689.4L557.7 698.7M565.3 711.2L562.8 708.9M545.7 698.4L546.5 699.5M551.8 718.2L549.8 712.9M539.8 710.2L542.7 708.3M493.0 721.6L500.9 719.3M500.9 719.3L507.3 725.7M517.4 721.2L514.0 720.2M507.3 725.7L514.0 720.2M520.2 704.5L513.5 714.8M514.0 720.2L513.5 714.8M493.0 721.6L489.7 719.0M489.7 719.0L477.8 718.1M461.1 698.0L476.6 714.8M476.8 696.5L480.6 708.2M480.6 708.2L476.6 714.8M476.6 714.8L476.3 716.7M476.3 716.7L477.8 718.1M486.4 691.4L488.9 691.8M480.6 708.2L490.3 705.0M490.3 705.0L488.9 691.8M511.5 679.6L510.7 695.0M511.5 679.6L501.6 676.2M510.7 695.0L497.5 678.9M501.6 676.2L497.7 678.0M497.7 678.0L497.5 678.9M515.2 678.6L511.5 679.6M512.0 697.4L511.3 697.3M511.3 697.3L510.7 695.0M504.7 668.7L501.6 676.2M488.2 671.7L497.7 678.0M488.9 691.8L493.3 689.3M493.3 689.3L497.5 678.9M506.0 699.4L505.8 699.4M506.0 699.4L505.4 711.0M505.8 699.4L492.8 706.1M505.4 711.0L501.1 714.7M501.1 714.7L493.9 709.1M493.9 709.1L492.8 706.1M511.3 697.3L506.0 699.4M493.3 689.3L505.8 699.4M513.5 714.8L505.4 711.0M490.3 705.0L492.8 706.1M500.9 719.3L501.1 714.7M489.7 719.0L493.9 709.1" stroke="#fff" stroke-width="1.0" fill="none" stroke-linecap="round" clip-path="url(#m_ma)"/>
</g>
<clipPath id="cswa"><path d="M440 798 L470 798 L482 805 L489 806 L489 846 L440 846Z"/></clipPath>
<g clip-path="url(#cswa)">
<clipPath id="m_sw"><path d="M532.5 654.2 L535 657 L538.5 658 L547 656.8 L555 657.2 L564 658.7 L570 656.5 L575.7 654.2 L575.7 844.2 L468 844.2 L463.5 838.7 L454.5 832 L451.5 826 L452.2 818.5 L448.5 812.5 L450 808 L453.7 799 L457.5 790 L456.7 784 L455.2 776.5 L457.5 767.5 L450.7 764.5 L450 760 L453.7 755.5 L456.7 748 L460.5 742 L465.7 737.5 L469.5 727 L477 721 L480 714.2 L489.7 712 L495 706.7 L501 703 L505.5 697 L504 692.5 L504.7 686.5 L508.5 682 L513 674.5 L522 670 L528 664Z"/></clipPath>
<path d="M462.3 820.4L462.2 823.3M462.3 820.4L460.9 817.8M462.2 823.3L461.7 823.7M461.7 823.7L457.1 822.0M457.1 822.0L457.1 818.1M460.9 817.8L457.1 818.1M464.7 797.1L456.7 798.0M456.7 798.0L456.6 797.8M488.4 845.1L490.0 840.2M488.4 845.1L486.6 846.0M484.4 838.7L490.0 840.2M484.4 838.7L482.4 842.2M486.6 846.0L482.4 842.2M488.4 845.1L492.1 847.6M486.6 846.0L484.4 850.8M492.7 848.9L492.1 847.6M483.6 836.5L483.6 836.2M483.6 836.5L478.9 838.3M476.7 833.3L478.9 831.4M476.7 833.3L475.9 835.4M478.9 831.4L483.2 834.8M478.9 838.3L475.9 835.4M483.2 834.8L483.6 836.2M490.0 840.2L490.6 839.9M492.1 847.6L495.3 842.0M490.6 839.9L495.3 842.0M442.4 847.1L443.4 847.3M450.0 848.5L448.4 845.5M443.4 847.3L448.4 845.5M476.7 833.3L473.0 832.0M478.9 831.4L479.1 828.9M479.1 828.9L477.8 827.8M477.8 827.8L471.1 827.5M473.0 832.0L471.1 827.5M463.6 823.4L467.9 821.8M463.6 823.4L468.8 827.9M467.9 821.8L470.2 827.0M468.8 827.9L470.2 827.0M462.3 820.4L468.1 817.3M462.2 823.3L463.6 823.4M468.1 817.3L469.8 818.0M469.8 818.0L467.9 821.8M450.7 821.7L455.0 823.1M450.7 821.7L451.1 818.1M457.1 822.0L455.0 823.1M457.1 818.1L453.7 815.6M451.1 818.1L453.7 815.6M456.6 797.8L452.6 791.4M444.3 796.9L438.8 802.9M478.6 842.0L475.0 842.7M478.6 842.0L481.2 842.7M475.0 842.7L477.9 847.4M481.2 842.7L480.7 846.6M477.9 847.4L480.7 846.6M484.4 838.7L483.6 836.5M482.4 842.2L481.2 842.7M478.9 838.3L478.6 842.0M484.4 850.8L480.7 846.6M476.9 849.9L477.9 847.4M491.4 836.3L491.5 834.6M491.6 833.9L491.5 834.6M490.6 839.9L491.4 836.3M483.6 836.2L491.5 834.6M441.7 834.1L443.2 833.8M441.7 834.1L440.0 839.5M443.2 833.8L447.5 836.5M440.0 839.5L442.2 841.2M442.2 841.2L446.4 840.5M447.5 836.5L446.4 840.5M439.2 831.4L441.7 834.1M442.4 847.1L442.2 841.2M448.4 845.5L449.4 842.6M449.4 842.6L446.4 840.5M450.0 848.5L453.3 846.1M454.8 847.2L453.3 846.1M460.9 849.2L457.8 844.9M454.8 847.2L457.8 844.9M451.1 818.1L446.5 816.0M449.2 809.9L446.6 814.3M449.2 809.9L453.8 815.3M453.8 815.3L453.7 815.6M446.5 816.0L446.6 814.3M441.0 823.1L444.6 822.2M441.0 823.1L442.4 827.2M443.7 827.8L442.4 827.2M443.7 827.8L449.1 825.9M444.6 822.2L449.1 823.5M449.1 823.5L449.1 825.9M435.0 820.7L441.0 823.1M435.0 820.7L442.0 816.0M442.0 816.0L444.9 816.7M444.9 816.7L444.6 822.2M439.2 831.4L442.4 827.2M445.2 831.5L443.2 833.8M445.2 831.5L443.7 827.8M445.2 831.5L450.8 830.0M450.8 830.0L449.1 825.9M450.7 821.7L449.1 823.5M444.9 816.7L446.5 816.0M455.0 823.1L456.3 828.1M450.8 830.0L451.4 830.5M451.4 830.5L456.3 828.1M469.2 853.1L469.1 849.7M469.2 853.1L475.2 849.6M469.1 849.7L471.6 843.9M475.2 849.6L471.6 843.9M460.9 849.2L463.7 846.2M463.7 846.2L469.1 849.7M476.9 849.9L475.2 849.6M472.9 804.2L475.6 806.0M472.9 804.2L471.5 799.1M476.0 805.7L475.6 806.0M476.0 805.7L478.7 801.9M478.7 801.9L476.5 798.5M476.5 798.5L471.5 799.1M496.5 800.0L493.6 797.4M471.1 798.9L471.5 799.1M460.9 817.8L462.7 813.3M453.8 815.3L455.3 813.7M462.7 813.3L455.3 813.7M468.1 817.3L464.1 813.3M464.1 813.3L463.0 813.0M462.7 813.3L463.0 813.0M464.7 797.1L465.6 798.5M471.1 798.9L467.0 799.6M465.6 798.5L467.0 799.6M472.9 804.2L469.2 805.9M467.0 799.6L466.8 803.4M469.2 805.9L466.8 803.4M469.8 818.0L469.8 818.0M464.1 813.3L468.7 810.7M469.8 818.0L468.7 810.7M475.6 806.0L474.7 809.4M474.7 809.4L472.9 810.4M469.2 805.9L469.7 808.9M469.7 808.9L470.1 809.4M472.9 810.4L470.1 809.4M477.9 815.7L472.6 817.5M477.9 815.7L479.4 818.4M472.4 817.8L472.6 817.5M472.4 817.8L474.3 821.2M479.4 818.4L479.5 820.9M479.5 820.9L475.9 822.1M474.3 821.2L475.9 822.1M474.7 809.4L478.9 811.5M479.5 813.9L478.9 811.5M479.5 813.9L477.9 815.7M472.9 810.4L472.6 817.5M469.8 818.0L472.4 817.8M468.7 810.7L470.1 809.4M470.3 827.0L470.2 827.0M470.3 827.0L474.3 821.2M479.1 828.9L481.0 827.7M477.8 827.8L475.9 822.1M481.0 827.7L483.5 822.3M483.5 822.3L479.5 820.9M471.1 827.5L470.3 827.0M483.2 834.8L487.9 830.8M491.6 833.9L491.1 832.2M487.9 830.8L491.1 832.2M481.0 827.7L487.1 829.1M487.9 830.8L487.1 829.1M491.1 832.2L493.9 828.5M491.3 810.3L492.4 813.9M492.2 816.3L492.4 813.9M479.5 813.9L482.5 814.8M479.4 818.4L483.7 817.2M482.5 814.8L483.7 817.2M483.5 822.3L484.5 821.8M484.5 821.8L483.8 817.4M483.7 817.2L483.8 817.4M491.3 810.3L491.1 810.0M490.6 808.9L491.1 810.0M492.2 816.3L491.7 816.7M491.7 816.7L488.0 815.7M488.0 815.7L486.4 813.4M491.1 810.0L486.4 813.4M488.0 815.7L483.8 817.4M482.5 814.8L484.7 812.6M484.7 812.6L486.4 813.4M463.7 846.2L464.4 842.9M457.8 844.9L457.7 842.0M464.4 842.9L462.4 841.4M457.7 842.0L462.4 841.4M447.5 836.5L449.2 835.7M451.4 830.5L451.7 831.9M449.2 835.7L451.7 831.9M456.3 828.1L457.5 828.2M451.7 831.9L454.9 834.9M454.9 834.9L458.2 832.8M457.5 828.2L458.2 832.8M443.6 811.5L441.8 812.0M443.6 811.5L445.7 809.5M445.7 809.5L441.9 806.6M441.9 806.6L440.6 811.0M440.6 811.0L441.8 812.0M442.0 816.0L441.8 812.0M446.6 814.3L443.6 811.5M449.2 809.9L449.0 809.0M449.0 809.0L445.7 809.5M438.8 802.9L441.5 804.7M441.5 804.7L441.9 806.6M467.2 842.3L466.9 837.3M467.2 842.3L471.7 843.3M472.9 842.3L473.1 838.4M472.9 842.3L471.7 843.3M473.1 838.4L469.5 835.4M469.5 835.4L466.9 837.3M464.4 842.9L467.2 842.3M463.2 836.1L466.9 837.3M463.2 836.1L462.6 837.0M462.6 837.0L462.4 841.4M471.6 843.9L471.7 843.3M475.9 835.4L473.1 838.4M475.0 842.7L472.9 842.3M469.2 833.9L473.0 832.0M469.2 833.9L469.5 835.4M452.6 791.4L450.0 796.8M444.3 796.9L446.9 798.7M450.0 796.8L446.9 798.7M441.5 804.7L448.3 803.6M446.9 798.7L448.3 803.6M449.0 809.0L449.6 807.4M449.6 807.4L448.3 803.6M448.3 803.6L448.3 803.6M456.7 798.0L456.2 799.3M450.0 796.8L453.8 799.9M456.2 799.3L453.8 799.9M448.3 803.6L451.5 802.0M453.8 799.9L451.5 802.0M455.3 813.7L455.8 810.5M449.6 807.4L454.0 807.4M455.8 810.5L454.0 807.4M451.5 802.0L456.0 805.4M454.0 807.4L456.0 805.4M493.9 823.3L490.1 820.9M493.9 823.3L493.6 827.8M493.6 827.8L488.4 825.1M490.1 820.9L487.9 822.4M487.9 822.4L488.4 825.1M491.7 816.7L490.1 820.9M493.9 828.5L493.6 827.8M487.1 829.1L488.4 825.1M484.5 821.8L487.9 822.4M487.9 806.8L484.8 809.3M487.9 806.8L487.8 806.3M487.8 806.3L487.7 806.0M487.7 806.0L481.5 804.4M484.8 809.3L481.3 809.0M481.5 804.4L480.9 807.9M480.9 807.9L481.3 809.0M490.6 808.9L487.9 806.8M484.7 812.6L484.8 809.3M496.5 800.0L487.8 806.3M493.6 797.4L488.0 800.8M487.3 803.0L488.0 800.8M487.3 803.0L487.7 806.0M479.9 802.1L482.4 800.8M479.9 802.1L481.5 804.4M482.4 800.8L487.3 803.0M478.9 811.5L481.3 809.0M476.0 805.7L480.9 807.9M478.7 801.9L479.9 802.1M456.3 837.5L456.6 841.2M456.3 837.5L455.5 836.5M455.5 836.5L451.4 838.5M456.6 841.2L452.2 842.5M451.4 838.5L451.1 842.3M451.1 842.3L452.2 842.5M458.5 836.7L456.3 837.5M458.5 836.7L462.6 837.0M457.7 842.0L456.6 841.2M458.5 836.7L459.8 833.3M454.9 834.9L455.5 836.5M459.8 833.3L458.2 832.8M449.2 835.7L451.4 838.5M453.3 846.1L452.2 842.5M449.4 842.6L451.1 842.3M461.2 825.7L459.9 827.6M461.2 825.7L467.4 829.6M459.9 827.6L463.1 832.8M467.4 829.6L466.9 831.2M466.9 831.2L463.2 832.8M463.2 832.8L463.1 832.8M461.7 823.7L461.2 825.7M457.5 828.2L459.9 827.6M468.8 827.9L467.4 829.6M459.8 833.3L463.1 832.8M469.2 833.9L466.9 831.2M463.2 836.1L463.2 832.8M482.5 800.5L486.3 798.6M488.0 800.8L486.3 798.6M482.4 800.8L482.5 800.5M458.3 804.1L460.9 808.5M458.3 804.1L458.4 803.7M459.3 803.3L465.4 804.7M459.3 803.3L458.4 803.7M463.6 808.0L465.4 804.7M463.6 808.0L462.1 809.3M462.1 809.3L460.9 808.5M455.8 810.5L460.9 808.5M456.0 805.4L458.3 804.1M456.2 799.3L458.4 803.7M465.6 798.5L459.3 803.3M466.8 803.4L465.4 804.7M469.7 808.9L463.6 808.0M463.0 813.0L462.1 809.3" stroke="#fff" stroke-width="1.0" fill="none" stroke-linecap="round" clip-path="url(#m_sw)"/>
</g>
<clipPath id="cswb"><path d="M489 806 L500 806.5 L515 812 L530 812 L541 809 L541 846 L489 846Z"/></clipPath>
<g clip-path="url(#cswb)">
<clipPath id="m_sw2"><path d="M532.5 654.2 L535 657 L538.5 658 L547 656.8 L555 657.2 L564 658.7 L570 656.5 L575.7 654.2 L575.7 844.2 L468 844.2 L463.5 838.7 L454.5 832 L451.5 826 L452.2 818.5 L448.5 812.5 L450 808 L453.7 799 L457.5 790 L456.7 784 L455.2 776.5 L457.5 767.5 L450.7 764.5 L450 760 L453.7 755.5 L456.7 748 L460.5 742 L465.7 737.5 L469.5 727 L477 721 L480 714.2 L489.7 712 L495 706.7 L501 703 L505.5 697 L504 692.5 L504.7 686.5 L508.5 682 L513 674.5 L522 670 L528 664Z"/></clipPath>
<path d="M488.4 831.7L491.4 825.7M491.4 825.7L488.2 815.2M485.3 814.4L488.2 815.2M523.5 801.7L520.1 809.2M523.5 801.7L535.4 807.3M535.4 807.3L531.7 813.4M531.7 813.4L522.4 813.9M520.1 809.2L522.4 813.9M538.6 808.5L539.1 809.1M539.1 809.1L547.0 813.5M535.6 807.2L538.6 808.5M528.4 829.2L521.2 836.1M528.4 829.2L517.0 827.1M521.2 836.1L516.9 832.1M517.0 827.1L516.9 832.1M521.2 817.9L514.2 822.7M521.2 817.9L529.4 826.6M514.2 822.7L517.0 827.1M529.4 826.6L528.6 829.1M528.6 829.1L528.4 829.2M499.5 820.4L499.5 820.2M499.5 820.4L491.4 825.7M488.2 815.2L497.3 814.8M499.5 820.2L497.3 814.8M531.2 851.8L526.4 845.4M526.4 845.4L520.7 844.4M520.7 844.4L517.0 846.0M520.7 844.4L521.2 836.1M516.9 832.1L511.3 834.9M517.0 846.0L511.7 843.9M511.3 834.9L511.7 843.9M511.7 843.9L504.4 845.0M534.4 819.6L534.2 823.1M534.4 819.6L539.9 817.0M534.2 823.1L543.2 826.9M539.9 817.0L546.8 817.8M547.6 823.1L544.0 826.8M547.6 823.1L547.3 818.8M544.0 826.8L543.2 826.9M547.3 818.8L546.8 817.8M521.2 817.9L522.4 813.9M531.7 813.4L534.4 819.6M529.4 826.6L534.2 823.1M535.6 807.2L535.4 807.3M539.1 809.1L539.9 817.0M547.0 813.5L546.8 817.8M547.7 834.2L544.0 826.8M530.0 841.5L532.8 835.4M530.0 841.5L544.1 845.1M532.8 835.4L536.9 835.5M536.9 835.5L543.8 842.0M543.8 842.0L544.4 845.0M544.4 845.0L544.1 845.1M526.4 845.4L530.0 841.5M528.6 829.1L532.8 835.4M531.2 851.8L544.1 845.1M543.2 826.9L536.9 835.5M547.7 834.2L543.8 842.0M544.8 845.4L544.4 845.0M485.3 814.4L493.6 801.5M510.3 808.3L509.3 810.0M510.3 808.3L508.4 802.5M509.3 810.0L498.1 813.3M508.4 802.5L496.9 805.3M498.1 813.3L496.9 805.3M514.2 822.7L512.7 822.5M512.7 822.5L510.6 820.4M520.1 809.2L510.3 808.3M510.6 820.4L509.3 810.0M510.6 820.4L499.5 820.2M497.3 814.8L498.1 813.3M493.6 801.5L496.9 805.3M512.7 822.5L509.0 827.7M511.3 834.9L508.6 832.1M509.0 827.7L508.6 832.1M499.5 820.4L500.7 827.0M509.0 827.7L500.7 827.0M497.9 848.5L488.5 845.3M497.9 848.5L502.4 844.5M502.4 844.5L498.1 835.8M488.5 845.3L492.3 834.5M492.3 834.5L497.5 835.3M497.5 835.3L498.1 835.8M504.4 845.0L502.4 844.5M508.6 832.1L498.1 835.8M488.4 831.7L492.3 834.5M500.7 827.0L497.5 835.3" stroke="#fff" stroke-width="1.0" fill="none" stroke-linecap="round" clip-path="url(#m_sw2)"/>
</g>
<clipPath id="csea"><path d="M548 820 L560 812 L576 806 L576 846 L541 846 L541 830Z"/></clipPath>
<g clip-path="url(#csea)">
<clipPath id="m_se"><path d="M532.5 654.2 L535 657 L538.5 658 L547 656.8 L555 657.2 L564 658.7 L570 656.5 L575.7 654.2 L575.7 844.2 L468 844.2 L463.5 838.7 L454.5 832 L451.5 826 L452.2 818.5 L448.5 812.5 L450 808 L453.7 799 L457.5 790 L456.7 784 L455.2 776.5 L457.5 767.5 L450.7 764.5 L450 760 L453.7 755.5 L456.7 748 L460.5 742 L465.7 737.5 L469.5 727 L477 721 L480 714.2 L489.7 712 L495 706.7 L501 703 L505.5 697 L504 692.5 L504.7 686.5 L508.5 682 L513 674.5 L522 670 L528 664Z"/></clipPath>
<path d="M542.9 843.2L542.8 845.1M542.9 843.2L544.3 842.0M545.6 842.5L544.3 842.0M545.6 842.5L545.2 845.6M545.2 845.6L543.4 845.9M542.8 845.1L543.4 845.9M543.1 850.8L542.9 849.1M542.9 849.1L540.6 847.5M540.6 847.5L538.3 849.2M542.9 849.1L543.8 847.4M543.8 847.4L543.4 845.9M542.8 845.1L540.8 846.4M540.6 847.5L540.8 846.4M575.2 830.9L572.7 833.3M575.2 830.9L577.0 832.1M575.7 835.1L572.7 833.3M575.7 835.1L577.2 834.2M577.0 832.1L577.2 834.2M575.5 839.0L574.6 837.1M575.5 839.0L573.4 840.5M570.0 839.3L573.1 836.9M570.0 839.3L570.1 839.6M570.1 839.6L571.1 840.3M573.1 836.9L574.6 837.1M573.4 840.5L571.1 840.3M570.1 839.6L568.6 842.1M571.0 845.6L569.8 845.4M571.0 845.6L572.2 844.9M572.2 844.9L571.1 840.3M568.6 842.1L569.8 845.4M581.8 805.6L581.1 807.1M581.8 805.6L576.3 801.7M576.3 801.7L576.1 804.0M581.1 807.1L580.7 807.3M580.7 807.3L577.3 806.2M577.3 806.2L576.1 804.0M545.5 805.3L547.9 806.4M549.4 805.7L547.9 806.4M545.5 805.3L543.0 806.7M543.0 806.7L540.9 805.2M540.9 805.2L537.9 806.1M548.1 810.9L547.6 807.8M548.1 810.9L544.3 811.5M547.6 807.8L544.1 809.0M544.3 811.5L544.1 809.0M547.9 806.4L547.6 807.8M543.0 806.7L543.0 806.8M543.0 806.8L544.1 809.0M549.4 805.7L550.7 805.9M553.0 803.9L550.7 805.9M548.9 811.3L551.8 808.4M548.9 811.3L548.1 810.9M550.7 805.9L551.8 808.4M538.6 817.6L539.5 815.1M538.6 817.6L533.6 815.2M533.6 815.2L538.1 812.0M539.5 815.1L538.1 812.0M549.9 837.4L549.5 835.9M549.9 837.4L554.0 840.1M554.0 840.1L554.1 839.7M554.1 839.7L550.4 835.4M549.5 835.9L550.4 835.4M543.1 850.8L547.9 848.4M543.8 847.4L547.5 847.8M547.9 848.4L547.5 847.8M545.2 845.6L547.4 846.9M547.5 847.8L547.4 846.9M545.6 842.5L548.2 843.1M547.4 846.9L548.2 843.1M544.3 842.0L544.1 840.1M544.1 840.1L547.1 839.0M547.1 839.0L548.9 842.7M548.2 843.1L548.9 842.7M549.9 837.4L550.5 842.2M550.5 842.2L550.1 842.5M548.7 836.3L547.1 839.0M548.7 836.3L549.4 835.9M549.4 835.9L549.5 835.9M550.1 842.5L548.9 842.7M542.9 843.2L539.3 842.4M540.8 846.4L538.2 844.2M539.3 842.4L538.2 844.2M538.3 849.2L535.2 845.7M538.2 844.2L535.2 845.7M540.7 835.3L544.0 836.2M540.7 835.3L540.1 835.8M540.1 835.8L540.7 838.8M540.7 838.8L543.8 839.7M543.8 839.7L544.5 836.9M544.0 836.2L544.5 836.9M544.1 840.1L543.8 839.7M548.7 836.3L544.5 836.9M536.8 834.0L537.1 832.9M535.7 828.8L537.1 832.9M535.7 828.8L533.3 826.9M538.6 817.6L538.9 818.1M538.9 818.1L535.4 820.5M569.0 850.5L571.6 848.6M571.6 848.6L573.2 849.6M573.2 849.6L573.5 850.1M580.5 845.7L581.5 847.7M580.5 845.7L579.6 845.0M579.6 845.0L576.6 846.9M580.1 850.3L577.3 849.0M580.1 850.3L581.5 847.7M576.6 846.9L577.0 848.6M577.3 849.0L577.0 848.6M583.4 841.4L578.9 842.1M578.9 842.1L579.6 845.0M575.3 846.4L576.6 846.9M575.3 846.4L573.2 849.6M573.5 850.1L577.0 848.6M579.2 838.3L581.9 838.3M579.2 838.3L578.9 835.3M578.9 835.3L582.3 833.7M583.4 841.4L581.9 838.3M578.0 840.1L579.2 838.3M578.0 840.1L578.3 841.5M578.3 841.5L578.9 842.1M575.5 839.0L578.0 840.1M575.7 835.1L574.6 837.1M577.2 834.2L578.9 835.3M582.3 831.9L579.1 830.5M582.3 831.9L582.3 833.7M579.1 830.5L577.0 832.1M582.4 831.8L582.3 831.9M569.7 838.9L570.0 839.3M569.7 838.9L566.9 839.5M568.6 842.1L566.1 842.4M566.1 842.4L566.9 839.5M575.0 846.0L576.8 842.4M575.0 846.0L572.6 844.8M572.6 844.8L574.2 842.6M576.8 842.4L574.2 842.6M578.3 841.5L576.8 842.4M575.3 846.4L575.0 846.0M571.6 848.6L571.0 845.6M572.2 844.9L572.6 844.8M573.4 840.5L574.2 842.6M565.9 843.9L568.5 846.0M565.9 843.9L564.0 846.7M568.5 846.0L567.0 848.0M567.0 848.0L564.3 848.2M564.3 848.2L564.0 846.7M569.8 845.4L568.5 846.0M566.1 842.4L565.7 842.6M565.7 842.6L565.9 843.9M562.2 843.6L564.5 842.0M562.2 843.6L562.0 844.0M562.0 844.0L564.0 846.7M564.5 842.0L565.7 842.6M569.0 850.5L567.0 848.0M564.1 848.4L564.3 848.2M582.4 831.8L581.5 827.7M581.9 826.9L581.5 827.7M579.1 830.5L579.0 829.3M581.5 827.7L579.0 829.3M575.2 830.9L574.9 830.1M574.9 830.1L578.0 828.1M579.0 829.3L578.0 828.1M581.9 826.9L578.0 824.8M582.2 822.3L578.0 824.8M565.3 818.8L565.5 821.4M565.3 818.8L562.1 817.8M564.4 822.3L565.5 821.4M564.4 822.3L561.8 822.3M562.1 817.8L561.4 819.8M561.4 819.8L561.4 821.4M561.8 822.3L561.4 821.4M580.7 807.3L580.4 807.8M581.7 812.4L579.9 811.4M580.4 807.8L579.9 811.4M581.7 813.4L579.2 816.3M579.4 817.1L579.2 816.4M579.2 816.4L579.2 816.3M581.7 812.4L581.7 813.4M577.7 819.4L577.7 819.5M577.7 819.4L579.4 817.1M577.7 819.5L582.2 821.9M577.7 819.4L573.4 815.3M573.4 815.3L573.8 814.9M573.8 814.9L579.2 816.4M582.2 822.3L582.2 821.9M561.2 823.2L561.2 825.1M561.2 823.2L561.8 822.3M565.7 825.3L564.4 822.3M565.7 825.3L562.1 825.6M562.1 825.6L561.2 825.1M562.2 843.6L559.8 839.5M559.8 839.5L561.5 838.6M564.5 842.0L563.7 839.0M561.5 838.6L563.7 839.0M566.9 839.5L564.3 838.6M564.3 838.6L563.7 839.0M537.9 806.1L537.9 806.1M555.7 815.6L556.5 815.7M555.7 815.6L555.5 821.5M556.5 815.7L557.6 816.6M557.6 816.6L557.9 818.2M557.9 818.2L557.3 820.2M557.3 820.2L555.6 821.6M555.6 821.6L555.5 821.5M561.8 816.3L557.6 816.6M561.8 816.3L562.1 817.8M561.4 819.8L557.9 818.2M561.4 821.4L557.3 820.2M557.3 823.6L561.2 823.2M557.3 823.6L555.6 821.6M553.0 803.9L555.0 805.3M551.8 808.4L553.8 809.2M553.8 809.2L555.0 805.3M557.0 805.4L555.0 805.3M540.8 809.5L538.6 809.7M540.8 809.5L543.9 811.9M543.9 811.9L543.6 812.7M543.6 812.7L538.2 811.5M538.6 809.7L538.2 811.0M538.2 811.5L538.2 811.0M543.0 806.8L540.8 809.5M537.9 806.1L538.6 809.7M544.3 811.5L543.9 811.9M539.5 815.1L543.6 813.7M543.6 813.7L543.6 812.7M538.1 812.0L538.2 811.5M556.1 837.1L554.1 839.7M556.1 837.1L555.2 835.0M550.4 835.4L550.8 835.1M550.8 835.1L553.7 834.9M555.2 835.0L553.7 834.9M550.8 835.1L551.0 829.9M551.0 829.9L553.2 831.0M553.7 834.9L553.2 831.0M557.9 841.7L553.6 842.0M557.9 841.7L558.5 843.9M558.5 843.9L554.8 846.0M553.4 842.2L554.8 845.9M553.4 842.2L553.6 842.0M554.8 845.9L554.8 846.0M554.0 840.1L553.6 842.0M557.5 837.8L559.3 839.6M557.5 837.8L556.1 837.1M559.3 839.6L557.9 841.7M562.0 844.0L559.8 844.9M559.3 839.6L559.8 839.5M559.8 844.9L558.5 843.9M550.5 842.2L553.4 842.2M550.8 845.8L550.1 842.5M550.8 845.8L554.8 845.9M561.2 848.1L559.6 846.4M559.6 846.4L555.9 848.9M564.1 848.4L561.2 848.1M559.8 844.9L559.6 846.4M555.8 848.9L554.9 848.0M554.9 848.0L550.2 848.9M549.3 849.5L550.2 848.9M554.8 846.0L554.9 848.0M555.9 848.9L555.8 848.9M550.8 845.8L550.2 848.9M547.9 848.4L549.3 849.5M536.5 837.4L540.0 839.7M536.5 837.4L534.6 839.3M534.6 839.3L539.0 841.3M540.0 839.7L539.0 841.3M537.8 835.5L540.1 835.8M537.8 835.5L536.5 837.4M540.7 838.8L540.0 839.7M536.8 834.0L537.8 835.5M539.3 842.4L539.0 841.3M549.7 812.8L549.1 813.6M549.7 812.8L548.9 811.3M543.6 813.7L544.6 815.7M549.1 813.6L544.6 815.7M538.9 818.1L539.2 818.4M539.2 818.4L544.6 815.8M544.6 815.7L544.6 815.8M557.3 823.6L556.8 825.6M559.6 828.1L561.2 825.1M559.6 828.1L558.1 828.6M558.1 828.6L556.8 825.6M552.9 821.6L552.8 821.7M552.9 821.6L555.5 821.5M552.3 824.6L552.8 821.7M552.3 824.6L554.4 825.6M554.4 825.6L556.8 825.6M574.9 830.1L573.2 828.3M578.0 828.1L577.5 825.3M573.2 828.3L573.1 828.1M573.1 828.1L574.4 825.7M574.4 825.7L577.5 825.3M577.7 819.5L577.2 820.1M578.0 824.8L578.0 824.8M577.2 820.1L578.0 824.8M577.5 825.3L578.0 824.8M569.7 825.4L570.8 822.6M569.7 825.4L567.2 825.2M567.2 825.2L569.0 821.4M570.8 822.6L569.8 821.5M569.8 821.5L569.1 821.4M569.0 821.4L569.1 821.4M566.0 825.8L565.7 825.3M566.0 825.8L567.2 825.2M565.5 821.4L569.0 821.4M571.7 817.2L571.6 816.3M571.7 817.2L569.8 821.5M569.1 821.4L567.3 817.7M571.6 816.3L567.3 817.7M565.3 818.8L566.3 817.4M566.3 817.4L567.3 817.7M572.7 809.8L574.1 808.8M572.7 809.8L574.6 813.2M574.1 808.8L576.5 808.9M574.6 813.2L577.2 812.4M576.5 808.9L577.0 809.5M577.0 809.5L577.7 811.7M577.2 812.4L577.7 811.7M573.4 815.3L571.7 816.2M573.8 814.9L574.6 813.2M570.0 813.0L571.3 809.6M570.0 813.0L571.3 815.8M571.3 809.6L572.7 809.8M571.7 816.2L571.3 815.8M577.3 806.2L576.5 808.9M576.1 804.0L574.2 805.9M574.2 805.9L574.1 808.8M579.2 816.3L577.2 812.4M580.4 807.8L577.0 809.5M579.9 811.4L577.7 811.7M568.4 829.1L568.0 830.5M568.4 829.1L565.9 826.6M568.0 830.5L563.7 831.3M565.9 826.6L564.1 827.7M564.1 827.7L563.1 829.5M563.7 831.3L563.1 829.5M566.0 825.8L565.9 826.6M570.2 827.9L568.4 829.1M570.2 827.9L569.7 825.4M562.1 825.6L564.1 827.7M559.6 828.1L563.1 829.5M568.5 831.5L571.3 832.3M568.5 831.5L567.6 835.5M568.5 836.1L571.7 834.6M568.5 836.1L567.6 835.5M571.3 832.3L572.2 833.4M571.7 834.6L572.2 833.4M570.2 827.9L573.1 828.1M573.2 828.3L571.3 832.3M568.0 830.5L568.5 831.5M569.7 838.9L568.5 836.1M573.1 836.9L571.7 834.6M566.0 835.7L564.3 838.6M566.0 835.7L567.6 835.5M572.7 833.3L572.2 833.4M571.7 816.2L571.6 816.3M571.3 815.8L566.5 815.0M566.3 817.4L565.9 815.7M565.9 815.7L566.5 815.0M561.8 816.3L562.4 815.0M565.9 815.7L562.4 815.0M558.7 813.3L556.5 815.7M558.7 813.3L561.7 813.1M561.7 813.1L562.2 813.7M562.4 815.0L562.2 813.7M558.7 808.3L557.0 805.4M558.7 808.3L559.9 808.4M561.9 802.4L559.9 808.4M558.7 813.3L557.1 809.7M561.7 813.1L561.3 809.1M557.1 809.7L558.7 808.3M559.9 808.4L561.3 809.1M565.8 810.1L565.0 812.1M565.8 810.1L566.8 809.8M566.8 809.8L568.0 812.6M565.0 812.1L566.7 814.0M568.0 812.6L566.7 814.0M562.2 813.7L565.0 812.1M562.6 808.8L561.3 809.1M562.6 808.8L565.8 810.1M570.0 813.0L568.0 812.6M567.6 808.9L569.7 808.2M567.6 808.9L566.8 809.8M571.3 809.6L569.7 808.2M566.5 815.0L566.7 814.0M568.3 803.6L569.9 806.9M571.7 805.8L569.9 806.9M574.2 805.9L571.7 805.8M569.7 808.2L569.9 806.9M553.5 810.4L553.8 815.5M553.5 810.4L554.1 809.5M554.1 809.5L555.9 810.1M555.9 810.1L555.1 815.3M555.1 815.3L553.9 815.5M553.9 815.5L553.8 815.5M550.9 813.2L553.8 815.5M550.9 813.2L553.5 810.4M549.7 812.8L550.9 813.2M553.8 809.2L554.1 809.5M557.1 809.7L555.9 810.1M555.7 815.6L555.1 815.3M552.9 821.6L551.9 819.5M552.0 818.1L551.9 819.5M552.0 818.1L553.9 815.5M552.0 818.1L549.2 816.5M549.1 813.6L549.2 816.5M555.2 835.0L556.9 832.7M553.2 831.0L556.8 831.7M556.8 831.7L556.9 832.7M550.5 828.7L551.0 829.9M550.5 828.7L554.6 828.5M554.6 828.5L557.4 829.5M556.8 831.7L557.4 829.5M558.1 828.6L557.7 829.2M554.6 828.5L554.4 825.6M557.7 829.2L557.4 829.5M540.7 835.3L541.9 831.6M544.0 836.2L545.0 833.0M545.0 833.0L541.9 831.6M549.4 835.9L546.4 832.8M545.0 833.0L546.4 832.8M537.1 832.9L541.5 830.5M541.9 831.6L541.5 830.5M535.7 828.8L541.3 829.8M541.3 829.8L541.4 830.0M541.5 830.5L541.4 830.0M540.3 820.5L539.2 818.4M540.3 820.5L540.2 822.1M535.4 820.5L538.7 823.2M540.2 822.1L538.7 823.2M533.3 826.9L537.7 824.7M537.7 824.7L538.7 823.2M550.5 828.7L550.3 828.5M552.3 824.6L550.7 826.4M550.3 828.5L550.7 826.4M549.2 816.5L546.4 817.9M544.6 815.8L545.2 817.1M545.2 817.1L546.4 817.9M540.3 820.5L543.5 819.6M545.2 817.1L543.5 819.6M551.9 819.5L547.5 819.9M546.4 817.9L547.5 819.9M572.0 822.9L573.5 824.2M572.0 822.9L574.5 820.0M573.5 824.2L576.7 820.2M574.5 820.0L576.7 820.2M574.4 825.7L573.5 824.2M570.8 822.6L572.0 822.9M571.7 817.2L574.5 820.0M577.2 820.1L576.7 820.2M562.4 803.0L563.4 807.3M562.4 803.0L565.7 804.9M563.4 807.3L565.4 806.2M565.7 804.9L565.4 806.2M562.6 808.8L563.4 807.3M561.9 802.4L562.4 803.0M568.3 803.6L565.7 804.9M567.6 808.9L565.4 806.2M560.4 834.4L561.4 834.6M560.4 834.4L558.3 833.2M558.3 833.2L560.9 831.5M561.4 834.6L563.2 833.4M563.2 833.4L563.3 832.4M563.3 832.4L560.9 831.5M557.5 837.8L560.4 834.4M561.5 838.6L561.4 834.6M556.9 832.7L558.3 833.2M557.7 829.2L560.9 831.5M566.0 835.7L563.2 833.4M563.7 831.3L563.3 832.4M541.3 829.8L541.3 829.7M537.7 824.7L539.4 826.1M541.3 829.7L539.4 826.1M546.4 832.8L547.0 831.2M541.4 830.0L544.8 829.1M544.8 829.1L547.0 831.2M550.3 828.5L550.0 828.6M547.0 831.2L550.0 828.6M540.2 822.1L542.9 823.9M539.4 826.1L542.8 825.0M542.9 823.9L542.8 825.0M543.5 819.6L545.5 822.8M542.9 823.9L545.5 822.8M541.3 829.7L543.0 826.0M543.0 826.0L542.8 825.0M545.5 826.9L545.8 822.9M545.5 826.9L546.0 827.4M546.0 827.4L546.6 827.4M546.6 827.4L547.2 823.3M545.8 822.9L546.7 822.7M546.7 822.7L546.9 822.9M546.9 822.9L547.2 823.3M545.5 822.8L545.8 822.9M543.0 826.0L545.5 826.9M544.8 829.1L546.0 827.4M550.0 828.6L546.6 827.4M550.7 826.4L547.2 823.3M547.5 819.9L546.7 822.7M552.8 821.7L546.9 822.9" stroke="#fff" stroke-width="1.0" fill="none" stroke-linecap="round" clip-path="url(#m_se)"/>
</g>
<path d="M66.6 772.5 L69.7 774.5 L78.3 780.8 L88.3 785.5 L98.3 793.3 L108.3 799.5 L120 803 L134.5 804.3 L150 804.7 L167.5 811.7 L186.7 817 L205.3 820.2 L221.7 823.8 L238.3 827.5 L250 829.8 L261.3 832.3 L271 833.8 L280.3 835.3 L291 836.8 L301.3 838.3 L308.5 839.3 L315.5 840.3 L322 840.8 L328.7 841.2" fill="none" stroke="#252525" stroke-width="2.78" stroke-linejoin="round"/>
<path d="M64 721 L66.4 717.3 L72.7 706.4 L78.2 698.5 L83.6 690.4 L86.8 684.5 L89.6 678.7 L93 675 L96.3 672 L98 665 L99.3 658.4 L103.3 649.3" fill="none" stroke="#252525" stroke-width="2.78" stroke-linejoin="round"/>
<circle cx="88.3" cy="785.5" r="3.7" fill="#252525"/>
<circle cx="134.5" cy="804.3" r="3.7" fill="#252525"/>
<circle cx="205.3" cy="820.2" r="3.7" fill="#252525"/>
<circle cx="261.3" cy="832.3" r="3.7" fill="#252525"/>
<circle cx="301.3" cy="838.3" r="3.7" fill="#252525"/>
<circle cx="328.7" cy="841.2" r="3.7" fill="#252525"/>
<circle cx="83.6" cy="690.4" r="3.7" fill="#252525"/>
<circle cx="69.7" cy="774.5" r="3.05" fill="#fff" stroke="#252525" stroke-width="1.35"/>
<circle cx="108.3" cy="799.5" r="3.05" fill="#fff" stroke="#252525" stroke-width="1.35"/>
<circle cx="167.5" cy="811.7" r="3.05" fill="#fff" stroke="#252525" stroke-width="1.35"/>
<circle cx="238.3" cy="827.5" r="3.05" fill="#fff" stroke="#252525" stroke-width="1.35"/>
<circle cx="280.3" cy="835.3" r="3.05" fill="#fff" stroke="#252525" stroke-width="1.35"/>
<circle cx="315.5" cy="840.3" r="3.05" fill="#fff" stroke="#252525" stroke-width="1.35"/>
<circle cx="72.7" cy="706.4" r="3.05" fill="#fff" stroke="#252525" stroke-width="1.35"/>
<circle cx="89.6" cy="678.7" r="3.05" fill="#fff" stroke="#252525" stroke-width="1.35"/>
<path d="M103.3 657.6 L108 639.5 L124.8 615 L141 600.5 L162 588.5 L187.5 575 L217 564.5 L250 556 L295.8 553.7 L330 548.3 L378 543 L420 536.7 L461.2 522 L506.7 506.7" fill="none" stroke="#08468f" stroke-width="2.78" stroke-linejoin="round"/>
<circle cx="103.3" cy="657.6" r="4.15" fill="#08468f"/>
<circle cx="102.3" cy="657.6" r="3.05" fill="#fff" stroke="#252525" stroke-width="1.35"/>
<circle cx="124.8" cy="615.6" r="3.05" fill="#fff" stroke="#252525" stroke-width="1.35"/>
<circle cx="217" cy="565.6" r="3.05" fill="#fff" stroke="#252525" stroke-width="1.35"/>
<circle cx="378" cy="543" r="3.05" fill="#fff" stroke="#252525" stroke-width="1.35"/>
<circle cx="109" cy="639.7" r="3.7" fill="#252525"/>
<circle cx="162" cy="591.7" r="3.7" fill="#252525"/>
<circle cx="295.8" cy="553.7" r="3.7" fill="#252525"/>
<circle cx="461.2" cy="522" r="3.7" fill="#252525"/>
<path d="M101.3 666.4 L102.5 658 L107.5 639 L124.5 614.5 L140.5 600 L161.7 588 L187 574.5 L216.7 564 L250 555 L292.5 551.7 L330 547.5 L373.7 542.5 L413.3 530.8 L459.5 525 L488 525.6 L518.7 538 L544.4 547.3" fill="none" stroke="#2171b5" stroke-width="2.78" stroke-linejoin="round"/>
<circle cx="101.3" cy="666.4" r="4.15" fill="#2171b5"/>
<circle cx="124.5" cy="615.3" r="3.05" fill="#fff" stroke="#252525" stroke-width="1.35"/>
<circle cx="216.7" cy="565" r="3.05" fill="#fff" stroke="#252525" stroke-width="1.35"/>
<circle cx="373.7" cy="542.5" r="3.05" fill="#fff" stroke="#252525" stroke-width="1.35"/>
<circle cx="518.7" cy="538" r="3.05" fill="#fff" stroke="#252525" stroke-width="1.35"/>
<circle cx="107.5" cy="639" r="3.7" fill="#252525"/>
<circle cx="161.7" cy="588.6" r="3.7" fill="#252525"/>
<circle cx="292.5" cy="551.7" r="3.7" fill="#252525"/>
<circle cx="459.5" cy="525" r="3.7" fill="#252525"/>
<circle cx="544.4" cy="547.3" r="3.7" fill="#252525"/>
<path d="M96.3 672 L100.5 659 L106.7 639 L124.5 614.2 L140 600 L161.7 587.5 L186.7 574.2 L216.7 563.7 L250 554.2 L289.5 547.5 L330 545 L370.5 546.7 L406.7 549.5 L445.3 548.5 L485.3 540.7 L518.7 538 L532 544 L544.4 556.4" fill="none" stroke="#4292c6" stroke-width="2.78" stroke-linejoin="round"/>
<circle cx="96.3" cy="672" r="4.15" fill="#4292c6"/>
<circle cx="99.3" cy="658.4" r="3.05" fill="#fff" stroke="#252525" stroke-width="1.35"/>
<circle cx="124.4" cy="615.3" r="3.05" fill="#fff" stroke="#252525" stroke-width="1.35"/>
<circle cx="216.7" cy="564.8" r="3.05" fill="#fff" stroke="#252525" stroke-width="1.35"/>
<circle cx="370.5" cy="546.7" r="3.05" fill="#fff" stroke="#252525" stroke-width="1.35"/>
<circle cx="518.7" cy="538" r="3.05" fill="#fff" stroke="#252525" stroke-width="1.35"/>
<circle cx="107.3" cy="638.9" r="3.7" fill="#252525"/>
<circle cx="161.7" cy="588.3" r="3.7" fill="#252525"/>
<circle cx="289.5" cy="548" r="3.7" fill="#252525"/>
<circle cx="445.3" cy="548.5" r="3.7" fill="#252525"/>
<circle cx="544.4" cy="556.4" r="3.7" fill="#252525"/>
<path d="M103.3 649.3 L110 636.7 L124.5 618.3 L143.3 602.5 L161.7 591.7 L193.3 575.8 L216.7 567.5 L250 557.5 L289.5 549.7 L320 545 L355.8 538.3" fill="none" stroke="#787878" stroke-width="2.78" stroke-linejoin="round"/>
<circle cx="103.3" cy="649.3" r="4.15" fill="#787878"/>
</g>
<text transform="translate(85.9 864.4) scale(1 1.11)" font-size="11.11" text-anchor="middle">65°W</text>
<text transform="translate(123.7 864.4) scale(1 1.11)" font-size="11.11" text-anchor="middle">60°W</text>
<text transform="translate(161.5 864.4) scale(1 1.11)" font-size="11.11" text-anchor="middle">55°W</text>
<text transform="translate(199.3 864.4) scale(1 1.11)" font-size="11.11" text-anchor="middle">50°W</text>
<text transform="translate(237.1 864.4) scale(1 1.11)" font-size="11.11" text-anchor="middle">45°W</text>
<text transform="translate(274.9 864.4) scale(1 1.11)" font-size="11.11" text-anchor="middle">40°W</text>
<text transform="translate(312.7 864.4) scale(1 1.11)" font-size="11.11" text-anchor="middle">35°W</text>
<text transform="translate(350.5 864.4) scale(1 1.11)" font-size="11.11" text-anchor="middle">30°W</text>
<text transform="translate(388.3 864.4) scale(1 1.11)" font-size="11.11" text-anchor="middle">25°W</text>
<text transform="translate(426.1 864.4) scale(1 1.11)" font-size="11.11" text-anchor="middle">20°W</text>
<text transform="translate(463.9 864.4) scale(1 1.11)" font-size="11.11" text-anchor="middle">15°W</text>
<text transform="translate(501.7 864.4) scale(1 1.11)" font-size="11.11" text-anchor="middle">10°W</text>
<text transform="translate(539.5 864.4) scale(1 1.11)" font-size="11.11" text-anchor="middle">5°W</text>
<text transform="translate(53.3 815.4) scale(1 1.11)" font-size="11.11" text-anchor="end">15°N</text>
<text transform="translate(53.3 777.6) scale(1 1.11)" font-size="11.11" text-anchor="end">20°N</text>
<text transform="translate(53.3 739.8) scale(1 1.11)" font-size="11.11" text-anchor="end">25°N</text>
<text transform="translate(53.3 702) scale(1 1.11)" font-size="11.11" text-anchor="end">30°N</text>
<text transform="translate(53.3 664.2) scale(1 1.11)" font-size="11.11" text-anchor="end">35°N</text>
<text transform="translate(53.3 626.4) scale(1 1.11)" font-size="11.11" text-anchor="end">40°N</text>
<text transform="translate(53.3 588.6) scale(1 1.11)" font-size="11.11" text-anchor="end">45°N</text>
<text transform="translate(53.3 550.8) scale(1 1.11)" font-size="11.11" text-anchor="end">50°N</text>
<text transform="translate(53.3 513) scale(1 1.11)" font-size="11.11" text-anchor="end">55°N</text>
<text transform="translate(53.3 475.2) scale(1 1.11)" font-size="11.11" text-anchor="end">60°N</text>
<text transform="translate(53.3 437.4) scale(1 1.11)" font-size="11.11" text-anchor="end">65°N</text>
<text transform="translate(53.3 399.6) scale(1 1.11)" font-size="11.11" text-anchor="end">70°N</text>
<text transform="translate(53.3 361.8) scale(1 1.11)" font-size="11.11" text-anchor="end">75°N</text>
<path d="M86.5 844.2v7M124.5 844.2v7M162.5 844.2v7M200.5 844.2v7M237.5 844.2v7M275.5 844.2v7M313.5 844.2v7M351.5 844.2v7M389.5 844.2v7M426.5 844.2v7M464.5 844.2v7M502.5 844.2v7M540.5 844.2v7M66.6 811.5h-7M66.6 773.5h-7M66.6 735.5h-7M66.6 697.5h-7M66.6 660.5h-7M66.6 622.5h-7M66.6 584.5h-7M66.6 546.5h-7M66.6 508.5h-7M66.6 471.5h-7M66.6 433.5h-7M66.6 395.5h-7M66.6 357.5h-7" stroke="#000" stroke-width="1.15" fill="none"/>
<rect x="66.6" y="335.6" width="508.8" height="508.6" fill="none" stroke="#000" stroke-width="1.15"/>
<text x="568.5" y="355" font-size="13.89" text-anchor="end" font-weight="bold">Track</text>
<rect x="71.95" y="346.3" width="26" height="3.4" fill="#252525"/>
<text transform="translate(105.3 351.7) scale(1 1.11)" font-size="11.11" text-anchor="start" word-spacing="0.9" letter-spacing="0.06">BEST</text>
<rect x="71.95" y="360.8" width="26" height="3.4" fill="#08468f"/>
<text transform="translate(105.3 365.77) scale(1 1.11)" font-size="11.11" text-anchor="start" word-spacing="0.9" letter-spacing="0.06">12z 18 Aug</text>
<rect x="71.95" y="374.8" width="26" height="3.4" fill="#2171b5"/>
<text transform="translate(105.3 379.84) scale(1 1.11)" font-size="11.11" text-anchor="start" word-spacing="0.9" letter-spacing="0.06">06z 18 Aug</text>
<rect x="71.95" y="388.8" width="26" height="3.4" fill="#4292c6"/>
<text transform="translate(105.3 393.91) scale(1 1.11)" font-size="11.11" text-anchor="start" word-spacing="0.9" letter-spacing="0.06">00z 18 Aug</text>
<rect x="71.95" y="402.8" width="26" height="3.4" fill="#787878"/>
<text transform="translate(105.3 407.98) scale(1 1.11)" font-size="11.11" text-anchor="start" word-spacing="0.9" letter-spacing="0.06">OFCL</text>
<circle cx="85.3" cy="816.3" r="3.7" fill="#252525"/>
<circle cx="85.3" cy="830.3" r="3.05" fill="#fff" stroke="#252525" stroke-width="1.35"/>
<text transform="translate(105.3 819.9) scale(1 1.11)" font-size="11.11" text-anchor="start">00 UTC</text>
<text transform="translate(105.3 833.9) scale(1 1.11)" font-size="11.11" text-anchor="start">12 UTC</text>
<clipPath id="cn"><circle cx="20" cy="882.9" r="15.2"/></clipPath>
<g clip-path="url(#cn)">
<rect x="4" y="866" width="32" height="34" fill="#fff"/>
<path d="M4.6 878.6C8 881.5 12.5 885.6 16.2 887.4C18.4 888.4 20.6 888.3 23.2 887.2C28 884.6 31.6 880.6 34.4 875.6L36 876V899H4Z" fill="#0582ca"/>
<path d="M15.6 889.3L20.2 887.2L26.2 886.1L22.4 888.4L17.2 890Z" fill="#fff"/>
<path d="M7.7 873.9L7.7 866H32.2V873.9C30 877 27.6 881.4 24.6 883.8C22.4 885.6 21 885.9 20 885.9C18.8 885.9 17 885.4 15 883.4C12.4 880.8 10.2 877 7.7 873.9Z" fill="#253f85"/>
</g>
<text x="19.7" y="877.6" font-size="4.7" text-anchor="middle" font-weight="bold" fill="#fff" stroke="none" textLength="12.6" lengthAdjust="spacingAndGlyphs">NOAA</text>
<defs><linearGradient id="gc" gradientUnits="userSpaceOnUse" x1="40" x2="110" y1="0" y2="0"><stop offset="0" stop-color="#263d86"/><stop offset="0.3" stop-color="#1e4f9a"/><stop offset="0.55" stop-color="#1a62a8"/><stop offset="0.8" stop-color="#22479a"/><stop offset="1" stop-color="#2a3f8a"/></linearGradient><linearGradient id="gg" x1="0" y1="0.25" x2="1" y2="0.75"><stop offset="0" stop-color="#dcdfd6"/><stop offset="0.22" stop-color="#9aa892"/><stop offset="0.4" stop-color="#4f7a86"/><stop offset="0.55" stop-color="#3a6cc4"/><stop offset="0.8" stop-color="#3b49b0"/><stop offset="1" stop-color="#4a3f9e"/></linearGradient></defs>
<circle cx="52.2" cy="882.5" r="10.5" fill="none" stroke="#263f88" stroke-width="3.4" stroke-dasharray="50 100" transform="rotate(50 52.2 882.5)"/>
<text y="894.6" font-family="'Liberation Sans','DejaVu Sans',sans-serif" font-weight="bold" font-size="34.2" fill="url(#gc)" stroke="none" lengthAdjust="spacingAndGlyphs"><tspan x="39" textLength="21.5" lengthAdjust="spacingAndGlyphs">C</tspan><tspan x="61.6" textLength="7.6" lengthAdjust="spacingAndGlyphs">I</tspan><tspan x="70.3" textLength="19.2" lengthAdjust="spacingAndGlyphs">R</tspan><tspan x="86.9" textLength="23.2" lengthAdjust="spacingAndGlyphs">A</tspan></text>
<ellipse cx="52.1" cy="882.5" rx="8.5" ry="9.4" fill="url(#gg)"/>
<path d="M93.6 886.4L103.8 886.4L105.6 891.2L91.6 891.2Z" fill="url(#gc)"/>
<path d="M92.6 894.7L95.6 888.4L100.4 882.9L100.8 889.6L99.8 894.7L97.6 894.7L98 890.6L95.2 894.7Z" fill="#e6edf2"/>
</svg>
</body></html>
